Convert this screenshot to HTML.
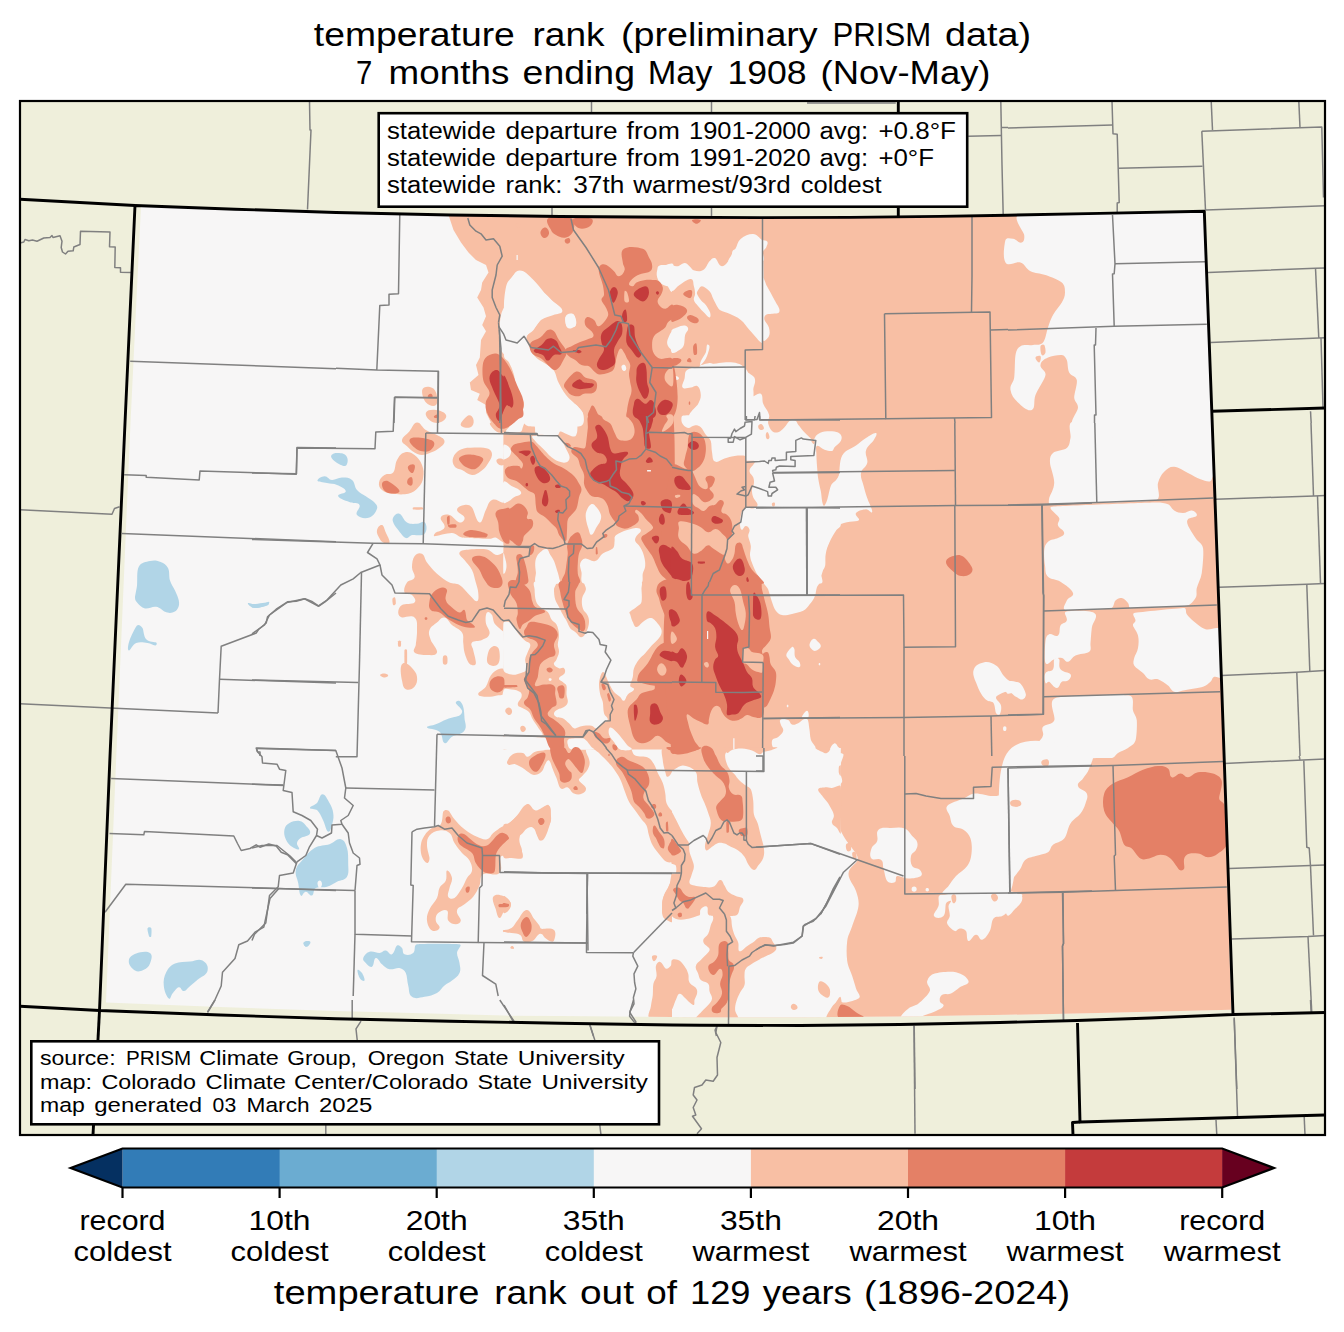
<!DOCTYPE html>
<html><head><meta charset="utf-8"><title>temperature rank</title>
<style>
html,body{margin:0;padding:0;background:#fff;}
body{width:1344px;height:1332px;overflow:hidden;font-family:"Liberation Sans",sans-serif;}
svg{display:block;font-family:"Liberation Sans",sans-serif;}
</style></head><body>
<svg width="1344" height="1332" viewBox="0 0 1344 1332">
<defs>
<clipPath id="frameclip"><rect x="20" y="101" width="1305" height="1034"/></clipPath>
<clipPath id="dataclip"><polygon points="141.0,206.5 235.0,209.2 336.0,212.5 450.0,215.0 560.0,216.5 672.0,217.3 760.0,217.6 850.0,217.4 940.0,216.4 1008.0,215.2 1100.0,213.4 1203.5,211.2 1211.0,411.0 1218.3,610.0 1225.3,810.0 1231.2,1009.8 1150.0,1011.8 1077.0,1013.5 1008.0,1014.8 900.0,1016.5 800.0,1017.3 700.0,1017.2 672.0,1017.0 560.0,1016.0 504.0,1015.6 450.0,1014.0 336.0,1011.0 220.0,1007.0 106.0,1002.5 116.3,756.0 130.5,423.0"/></clipPath>
</defs>
<rect width="1344" height="1332" fill="#fff"/>
<g fill="#000">
<text x="313.8" y="46.2" font-size="34.0" textLength="201.0" lengthAdjust="spacingAndGlyphs">temperature</text>
<text x="532.5" y="46.2" font-size="34.0" textLength="72.0" lengthAdjust="spacingAndGlyphs">rank</text>
<text x="621.0" y="46.2" font-size="34.0" textLength="196.7" lengthAdjust="spacingAndGlyphs">(preliminary</text>
<text x="832.6" y="46.2" font-size="34.0" textLength="98.6" lengthAdjust="spacingAndGlyphs">PRISM</text>
<text x="945.0" y="46.2" font-size="34.0" textLength="86.0" lengthAdjust="spacingAndGlyphs">data)</text>
<text x="356.0" y="83.8" font-size="34.0" textLength="16.3" lengthAdjust="spacingAndGlyphs">7</text>
<text x="388.6" y="83.8" font-size="34.0" textLength="120.7" lengthAdjust="spacingAndGlyphs">months</text>
<text x="522.6" y="83.8" font-size="34.0" textLength="112.4" lengthAdjust="spacingAndGlyphs">ending</text>
<text x="647.7" y="83.8" font-size="34.0" textLength="64.8" lengthAdjust="spacingAndGlyphs">May</text>
<text x="727.4" y="83.8" font-size="34.0" textLength="79.2" lengthAdjust="spacingAndGlyphs">1908</text>
<text x="820.5" y="83.8" font-size="34.0" textLength="170.0" lengthAdjust="spacingAndGlyphs">(Nov-May)</text>
</g>
<rect x="20" y="101" width="1305" height="1034" fill="#efefdb"/>
<g clip-path="url(#frameclip)">
<polygon points="141.0,206.5 235.0,209.2 336.0,212.5 450.0,215.0 560.0,216.5 672.0,217.3 760.0,217.6 850.0,217.4 940.0,216.4 1008.0,215.2 1100.0,213.4 1203.5,211.2 1211.0,411.0 1218.3,610.0 1225.3,810.0 1231.2,1009.8 1150.0,1011.8 1077.0,1013.5 1008.0,1014.8 900.0,1016.5 800.0,1017.3 700.0,1017.2 672.0,1017.0 560.0,1016.0 504.0,1015.6 450.0,1014.0 336.0,1011.0 220.0,1007.0 106.0,1002.5 116.3,756.0 130.5,423.0" fill="#f7f6f6"/>

<g clip-path="url(#dataclip)">
<path d="M672.0,200.0L1240.0,200.0L1240.0,1030.0L672.0,1030.0Z" fill="#f8bfa4"/>
<path d="M448.5,215.0L453.5,230.0L461.0,242.5L468.5,252.5L476.0,260.0L486.0,265.0L488.5,272.5L482.2,282.5L481.0,290.0L477.2,297.5L483.5,307.5L486.0,316.2L482.2,325.0L486.0,331.2L481.0,340.0L479.8,357.5L476.0,365.0L478.5,375.0L469.8,382.5L471.0,390.0L479.8,393.8L477.2,400.0L486.0,405.0L486.0,412.5L492.2,425.0L673.5,425.0L673.5,215.0Z" fill="#f8bfa4"/>
<path d="M422.2,390.0C423.0,386.9 426.6,386.4 429.8,387.0C432.9,387.6 434.9,389.4 436.0,392.5C437.1,395.6 438.3,402.7 436.0,405.0C433.7,407.3 428.8,405.5 426.0,402.5C423.2,399.5 421.5,393.1 422.2,390.0Z" fill="#f8bfa4"/>
<path d="M426.0,412.5C427.2,409.9 431.9,409.5 436.0,410.0C440.1,410.5 444.8,412.2 446.0,415.0C447.2,417.8 444.2,420.7 441.0,422.0C437.8,423.3 434.4,423.4 431.0,421.2C427.6,419.1 424.8,415.1 426.0,412.5Z" fill="#f8bfa4"/>
<path d="M516.0,223.8C516.8,223.0 518.9,223.0 519.8,223.8C520.6,224.5 520.5,226.2 519.8,227.0C519.0,227.8 517.4,227.8 516.5,227.0C515.6,226.2 515.2,224.5 516.0,223.8Z" fill="#f8bfa4"/>
<path d="M503.4,415.4L672.8,415.4L672.8,583.5L503.4,583.5Z" fill="#f8bfa4"/>
<path d="M503.4,581.4L672.8,581.4L672.8,749.5L503.4,749.5Z" fill="#f8bfa4"/>
<path d="M507.1,761.8C507.6,760.4 509.5,756.1 512.8,754.2C516.0,752.4 520.3,752.6 522.8,753.0C525.2,753.4 525.3,757.0 527.8,756.8C530.2,756.5 531.9,753.1 535.2,751.8C538.6,750.4 542.6,750.6 545.2,749.9C547.9,749.2 548.8,747.5 551.5,747.4C554.2,747.2 581.6,747.0 584.0,747.4C586.4,747.8 585.6,750.7 586.5,753.0C587.4,755.3 589.4,758.7 589.6,761.8C589.9,764.8 589.2,766.5 587.8,769.2C586.3,772.0 582.6,775.3 581.5,776.8C580.4,778.2 578.3,778.8 579.0,780.5C579.7,782.2 585.2,785.4 585.9,788.0C586.5,790.6 584.6,792.5 582.1,793.6C579.7,794.8 577.0,794.9 574.0,793.6C571.0,792.3 570.4,788.4 567.8,787.4C565.1,786.4 563.0,790.4 560.9,788.6C558.7,786.8 558.0,781.5 556.5,778.0C555.0,774.5 554.2,772.8 552.8,769.2C551.2,765.8 550.8,761.7 549.0,760.5C547.2,759.3 546.4,762.5 545.2,764.2C544.1,766.0 543.9,769.5 541.5,771.8C539.1,774.0 536.8,774.9 534.0,774.9C531.2,774.9 529.9,773.1 527.8,771.8C525.6,770.4 524.9,769.3 522.8,768.0C520.6,766.7 517.7,764.8 515.2,764.2C512.8,763.7 510.4,765.3 509.0,764.9C507.6,764.4 506.6,763.1 507.1,761.8Z" fill="#f8bfa4"/>
<path d="M503.4,825.5C503.8,823.1 507.0,824.4 509.0,823.0C511.0,821.6 513.6,819.4 516.5,816.8C519.4,814.1 522.3,811.1 524.0,809.2C525.7,807.4 525.4,804.0 527.8,804.2C530.1,804.5 531.3,809.3 534.0,810.5C536.7,811.7 538.7,811.6 541.5,810.5C544.3,809.4 546.2,803.7 548.4,804.9C550.6,806.0 550.6,812.5 550.9,815.5C551.2,818.5 551.3,820.2 550.2,823.0C549.2,825.8 547.0,827.3 545.2,830.5C543.5,833.7 542.9,839.6 540.9,840.5C538.8,841.4 537.8,836.6 536.5,834.2C535.2,831.9 536.0,829.5 534.0,828.0C532.0,826.5 530.0,827.0 527.8,828.0C525.5,829.0 524.7,830.9 522.8,833.0C520.8,835.1 517.7,835.9 517.1,839.2C516.6,842.6 519.3,845.5 520.2,848.0C521.2,850.5 522.5,852.4 522.8,854.2C523.0,856.1 523.2,858.0 521.5,858.6C519.8,859.2 514.8,858.3 511.5,858.0C508.2,857.7 504.2,859.9 503.4,856.8C502.6,853.6 503.0,827.9 503.4,825.5Z" fill="#f8bfa4"/>
<path d="M594.0,747.4C597.0,746.8 625.0,746.6 629.0,747.4C633.0,748.2 631.6,753.6 635.2,755.5C638.9,757.4 644.4,755.8 647.8,757.4C651.1,758.9 652.0,761.1 654.0,764.2C656.0,767.4 656.1,769.5 657.8,773.0C659.4,776.5 661.3,779.1 662.8,783.0C664.2,786.9 664.5,789.0 665.2,793.0C666.0,797.0 665.3,799.6 666.5,803.0C667.7,806.4 670.9,809.6 671.5,810.5C672.1,811.4 672.7,811.9 672.8,813.0C672.8,814.1 673.1,858.0 672.8,860.5C672.4,863.0 668.9,862.7 666.5,861.8C664.1,860.8 662.5,858.2 660.2,855.5C658.0,852.8 654.8,849.2 652.8,845.5C650.7,841.8 650.2,839.4 649.0,835.5C647.8,831.6 647.8,828.4 646.5,825.5C645.2,822.6 643.4,821.8 641.5,819.2C639.6,816.7 637.8,814.0 635.2,810.5C632.8,807.0 631.0,805.6 629.0,801.8C627.0,797.9 625.5,793.2 624.0,789.2C622.5,785.3 622.2,783.1 620.2,779.2C618.3,775.4 616.7,773.0 614.0,769.2C611.3,765.5 609.4,763.6 606.5,760.5C603.6,757.4 601.1,755.2 599.0,753.0C596.9,750.8 591.0,747.9 594.0,747.4Z" fill="#f8bfa4"/>
<path d="M662.8,747.4C665.1,744.3 671.1,743.7 672.8,747.4C674.4,751.0 673.4,765.7 672.8,769.2C672.1,772.8 669.5,776.2 667.8,776.8C666.0,777.3 665.9,773.9 665.2,771.8C664.6,769.6 663.2,765.1 662.8,760.5C662.3,755.9 660.4,750.4 662.8,747.4Z" fill="#f8bfa4"/>
<path d="M672.8,880.5C672.1,877.0 669.6,884.9 667.8,888.0C665.9,891.1 664.5,893.4 663.4,896.8C662.3,900.1 662.0,902.0 662.1,905.5C662.2,909.0 661.5,913.2 664.0,915.5C666.5,917.8 671.9,918.9 672.8,915.5C673.6,912.1 673.4,884.0 672.8,880.5Z" fill="#f8bfa4"/>
<path d="M503.4,896.8C504.0,894.8 506.3,897.8 507.8,899.2C509.2,900.7 510.9,901.9 510.9,904.2C510.9,906.6 509.0,909.2 507.8,910.5C506.5,911.8 503.9,913.5 503.4,911.8C502.8,910.0 502.7,898.7 503.4,896.8Z" fill="#f8bfa4"/>
<path d="M522.8,915.5C521.7,914.3 524.6,910.5 526.5,910.5C528.4,910.5 531.8,914.3 530.9,915.5C530.0,916.7 523.8,916.7 522.8,915.5Z" fill="#f8bfa4"/>
<path d="M503.4,896.9C504.0,895.1 506.5,897.4 507.8,898.8C509.0,900.1 510.9,902.2 510.9,905.0C510.9,907.8 509.0,910.0 507.8,911.2C506.5,912.5 503.9,914.2 503.4,912.5C502.8,910.8 502.8,898.7 503.4,896.9Z" fill="#f8bfa4"/>
<path d="M503.4,930.0C504.1,929.7 508.8,930.0 511.5,928.1C514.2,926.2 515.1,923.2 517.8,920.0C520.4,916.8 522.7,910.3 526.5,910.0C530.3,909.7 532.0,916.3 534.0,918.8C536.0,921.2 537.9,923.6 539.0,925.0C540.1,926.4 539.8,928.2 541.5,928.8C543.2,929.3 551.1,927.2 554.0,930.0C556.9,932.8 554.5,939.2 554.0,940.6C553.5,942.1 551.7,941.7 550.2,941.2C548.8,940.8 547.1,939.5 545.2,938.1C543.4,936.7 542.9,933.3 540.2,933.8C537.6,934.2 535.7,938.7 534.0,940.0C532.3,941.3 531.1,941.6 529.0,941.9C526.9,942.1 525.2,942.6 523.4,941.2C521.6,939.9 522.6,936.6 520.2,935.0C517.9,933.4 514.7,933.7 511.5,933.1C508.3,932.5 504.1,932.1 503.4,931.9C502.7,931.6 502.7,930.3 503.4,930.0Z" fill="#f8bfa4"/>
<path d="M510.9,947.5C510.5,946.9 511.8,945.7 512.5,946.0C513.2,946.3 514.4,948.4 514.0,948.8C513.6,949.1 511.2,948.1 510.9,947.5Z" fill="#f8bfa4"/>
<path d="M672.8,880.6C672.2,876.9 669.6,885.4 667.8,888.8C665.9,892.1 664.5,893.8 663.4,897.5C662.3,901.2 662.2,904.0 662.1,907.5C662.0,911.0 662.0,914.2 662.8,916.2C663.5,918.3 664.6,919.1 666.5,920.0C668.4,920.9 672.4,923.8 672.8,921.2C673.1,918.7 673.3,884.4 672.8,880.6Z" fill="#f8bfa4"/>
<path d="M652.1,956.2C652.9,955.1 656.7,955.1 657.1,956.2C657.6,957.4 655.2,961.2 654.0,961.2C652.8,961.2 651.4,957.4 652.1,956.2Z" fill="#f8bfa4"/>
<path d="M672.8,965.0C672.4,962.1 669.3,969.5 666.5,968.8C663.7,968.0 662.7,962.4 660.2,961.9C657.8,961.3 656.5,963.9 655.9,966.2C655.3,968.6 657.0,973.0 656.5,976.2C656.0,979.5 654.0,980.6 653.4,983.8C652.7,986.9 653.2,990.5 652.8,995.0C652.3,999.5 651.4,1001.7 650.9,1006.2C650.4,1010.8 645.9,1016.3 650.2,1018.8C654.6,1021.2 669.3,1027.1 672.8,1018.8C676.2,1010.4 673.1,967.9 672.8,965.0Z" fill="#f8bfa4"/>
<path d="M490.8,422.5C493.4,421.8 513.9,421.6 517.0,422.5C520.1,423.4 514.7,427.0 512.0,428.8C509.3,430.5 504.2,433.0 500.8,433.0C497.3,433.0 495.1,430.7 493.2,428.8C491.4,426.8 488.1,423.2 490.8,422.5Z" fill="#f8bfa4"/>
<path d="M509.5,505.0C508.9,501.9 505.0,503.4 502.0,502.5C499.0,501.6 495.7,498.3 492.0,500.0C488.3,501.7 488.0,505.9 485.8,510.0C483.5,514.1 482.7,523.1 479.5,522.5C476.3,521.9 474.1,509.9 472.0,507.5C469.9,505.1 467.6,504.5 464.5,505.0C461.4,505.5 457.0,507.1 457.0,510.0C457.0,512.9 463.9,514.7 464.5,517.5C465.1,520.3 462.3,523.0 459.5,522.5C456.7,522.0 453.0,515.9 449.5,515.0C446.0,514.1 441.9,514.6 440.8,517.5C439.6,520.4 445.7,524.0 444.5,527.5C443.3,531.0 436.9,531.5 435.8,532.5C434.6,533.5 432.9,536.2 434.5,536.2C436.1,536.3 447.6,532.8 452.0,533.0C456.4,533.2 457.7,536.8 462.0,537.5C466.3,538.2 487.0,538.8 489.5,538.8C492.0,538.8 493.2,537.0 495.8,537.5C498.3,538.0 507.2,547.9 509.5,542.5C511.8,537.1 510.1,508.1 509.5,505.0Z" fill="#f8bfa4"/>
<path d="M453.2,457.5C454.5,454.2 456.8,451.4 460.8,449.5C464.7,447.6 469.0,447.7 474.5,447.5C480.0,447.3 485.6,447.6 488.2,448.8C490.9,449.9 492.2,452.1 492.0,455.0C491.8,457.9 489.0,462.1 487.0,465.0C485.0,467.9 483.7,469.3 480.8,471.2C477.8,473.2 475.8,475.3 472.0,475.0C468.2,474.7 465.0,471.5 462.0,470.0C459.0,468.5 456.4,469.0 454.5,466.2C452.6,463.5 452.0,460.8 453.2,457.5Z" fill="#f8bfa4"/>
<path d="M496.5,460.0C497.1,458.5 500.0,457.9 502.0,458.8C504.0,459.6 505.6,462.3 505.0,463.8C504.4,465.2 501.5,465.9 499.5,465.0C497.5,464.1 495.9,461.5 496.5,460.0Z" fill="#f8bfa4"/>
<path d="M402.0,440.0C402.5,436.8 406.5,434.8 409.5,431.2C412.5,427.8 413.2,422.8 417.0,422.5C420.8,422.2 421.8,427.6 425.8,430.0C429.7,432.4 433.7,433.0 437.0,435.0C440.3,437.0 444.2,438.0 444.5,441.2C444.8,444.5 440.8,446.6 438.2,448.8C435.7,450.9 433.9,451.3 430.8,452.5C427.6,453.7 425.2,455.0 422.0,455.0C418.8,455.0 417.2,454.1 414.5,452.5C411.8,450.9 409.3,448.5 407.0,446.2C404.7,444.0 401.5,443.2 402.0,440.0Z" fill="#f8bfa4"/>
<path d="M397.0,460.0C399.1,456.3 400.5,453.6 404.5,452.5C408.5,451.4 411.1,452.6 414.5,455.0C417.9,457.4 420.2,460.3 422.0,465.0C423.8,469.7 424.0,473.1 423.2,477.5C422.5,481.9 421.3,484.2 418.2,487.5C415.2,490.8 412.8,492.7 408.2,493.8C403.7,494.8 396.2,494.4 392.0,493.8C387.8,493.1 384.4,492.1 382.0,490.0C379.6,487.9 378.5,485.7 379.0,482.5C379.5,479.3 381.5,477.1 384.5,475.0C387.5,472.9 390.9,475.3 393.2,472.5C395.6,469.7 394.9,463.7 397.0,460.0Z" fill="#f8bfa4"/>
<path d="M460.8,423.8C461.4,421.7 466.0,416.4 468.2,415.5C470.5,414.6 472.5,416.5 473.2,418.8C474.0,421.0 474.0,424.2 472.0,426.2C470.0,428.3 466.6,428.0 464.5,427.5C462.4,427.0 460.1,425.8 460.8,423.8Z" fill="#f8bfa4"/>
<path d="M413.2,507.5C414.0,507.3 421.7,507.3 422.5,507.5C423.3,507.7 423.3,509.3 422.5,509.5C421.7,509.7 414.0,509.7 413.2,509.5C412.5,509.3 412.5,507.7 413.2,507.5Z" fill="#f8bfa4"/>
<path d="M377.0,530.0C377.7,527.2 380.0,524.4 382.0,525.0C384.0,525.6 384.4,529.4 385.8,532.5C387.1,535.6 390.1,540.2 389.5,542.5C388.9,544.8 385.5,543.6 383.2,542.5C381.0,541.4 380.2,539.8 379.0,537.5C377.8,535.2 376.3,532.8 377.0,530.0Z" fill="#f8bfa4"/>
<path d="M414.5,556.2C416.4,553.7 419.2,552.3 422.0,553.8C424.8,555.2 424.6,559.3 427.0,562.5C429.4,565.7 432.5,569.8 437.0,573.8C441.5,577.8 445.8,580.7 449.5,582.5C453.2,584.3 456.0,582.8 459.5,585.0C463.0,587.2 466.6,592.3 469.5,595.0C472.4,597.7 475.0,601.8 477.0,601.2C479.0,600.7 478.5,596.0 478.2,592.5C478.0,589.0 476.9,586.5 475.8,582.5C474.6,578.5 474.2,574.5 472.0,570.0C469.8,565.5 466.6,562.9 464.5,560.0C462.4,557.1 458.3,555.0 459.5,552.5C460.7,550.0 465.3,550.0 469.5,549.5C473.7,549.0 482.5,548.6 487.0,549.5C491.5,550.4 492.5,554.4 497.0,555.0C501.5,555.6 508.7,547.5 509.5,552.5C510.3,557.5 510.6,625.3 509.5,631.2C508.4,637.2 498.9,627.9 495.8,625.0C492.6,622.1 493.3,616.8 492.0,615.0C490.7,613.2 488.4,610.8 487.0,612.5C485.6,614.2 485.3,618.5 485.8,622.5C486.2,626.5 490.3,629.9 489.5,633.8C488.7,637.6 485.5,638.3 482.0,640.0C478.5,641.7 474.0,640.2 472.0,642.5C470.0,644.8 472.7,647.0 473.2,650.0C473.8,653.0 476.4,661.3 475.8,663.8C475.1,666.2 471.3,665.5 469.5,663.8C467.7,662.0 465.6,656.4 464.5,652.5C463.4,648.6 463.8,646.5 463.2,642.5C462.8,638.5 464.2,635.9 462.0,632.5C459.8,629.1 455.2,627.8 452.0,625.0C448.8,622.2 448.0,618.1 444.5,617.5C441.0,616.9 439.8,620.2 437.0,622.5C434.2,624.8 430.9,626.2 429.5,630.0C428.1,633.8 429.5,636.2 430.8,640.0C432.0,643.8 437.9,649.0 437.0,652.5C436.1,656.0 431.1,655.0 427.0,655.0C422.9,655.0 416.8,654.5 414.5,652.5C412.2,650.5 415.4,648.0 415.8,645.0C416.1,642.0 417.2,635.1 417.0,630.0C416.8,624.9 418.0,620.4 414.5,617.5C411.0,614.6 404.4,618.2 402.0,617.5C399.6,616.8 398.2,615.0 398.2,612.5C398.2,610.0 399.1,606.8 402.0,605.0C404.9,603.2 412.3,604.7 414.5,602.5C416.7,600.3 414.2,597.2 412.0,595.0C409.8,592.8 405.7,595.4 404.5,592.5C403.3,589.6 405.0,585.5 407.0,582.5C409.0,579.5 413.4,580.9 414.5,577.5C415.6,574.1 412.0,571.6 412.0,567.5C412.0,563.4 412.6,558.8 414.5,556.2Z" fill="#f8bfa4"/>
<path d="M392.5,598.8C392.8,597.7 394.4,596.6 395.0,597.5C395.6,598.4 396.0,602.7 395.8,603.8C395.5,604.8 393.9,605.9 393.2,605.0C392.6,604.1 392.2,599.8 392.5,598.8Z" fill="#f8bfa4"/>
<path d="M398.2,641.2C398.7,640.4 400.3,640.4 400.8,641.2C401.2,642.1 401.2,645.4 400.8,646.2C400.3,647.1 398.7,647.1 398.2,646.2C397.8,645.4 397.8,642.1 398.2,641.2Z" fill="#f8bfa4"/>
<path d="M404.5,650.0C404.7,649.0 406.8,649.0 407.0,650.0C407.2,651.0 407.2,662.8 407.0,663.8C406.8,664.7 404.7,664.7 404.5,663.8C404.3,662.8 404.3,651.0 404.5,650.0Z" fill="#f8bfa4"/>
<path d="M488.2,652.5C489.1,649.4 490.7,647.0 493.2,646.2C495.8,645.5 498.3,647.0 499.0,649.5C499.7,652.0 500.7,660.6 498.2,663.8C495.8,666.9 490.6,666.4 488.2,663.8C485.9,661.1 487.4,655.6 488.2,652.5Z" fill="#f8bfa4"/>
<path d="M443.2,656.2C443.9,654.9 446.3,654.9 447.0,656.2C447.7,657.6 447.7,662.4 447.0,663.8C446.3,665.1 443.9,665.1 443.2,663.8C442.6,662.4 442.6,657.6 443.2,656.2Z" fill="#f8bfa4"/>
<path d="M400.8,668.0C401.1,665.5 402.0,663.0 404.5,663.0C407.0,663.0 409.6,665.3 412.0,668.0C414.4,670.7 416.5,672.8 417.0,676.8C417.5,680.7 416.9,684.0 414.5,686.8C412.1,689.5 408.7,690.7 405.8,689.2C402.8,687.8 402.9,684.2 402.0,680.5C401.1,676.8 400.4,670.5 400.8,668.0Z" fill="#f8bfa4"/>
<path d="M380.0,675.0C380.0,674.1 382.8,673.4 384.5,673.5C386.2,673.6 388.2,674.6 388.2,675.5C388.2,676.4 386.2,677.6 384.5,677.5C382.8,677.4 380.0,675.9 380.0,675.0Z" fill="#f8bfa4"/>
<path d="M478.2,694.2C478.0,691.9 483.4,690.3 485.8,686.8C488.1,683.2 488.5,678.7 490.8,675.5C493.0,672.3 495.9,670.1 498.2,669.2C500.6,668.4 503.9,668.0 504.5,670.5C505.1,673.0 505.4,690.0 504.5,693.0C503.6,696.0 500.1,694.8 497.0,695.5C493.9,696.2 490.6,697.0 487.0,696.8C483.4,696.5 478.5,696.6 478.2,694.2Z" fill="#f8bfa4"/>
<path d="M443.2,811.8C444.2,809.9 446.5,809.4 448.2,810.5C450.0,811.6 451.7,816.0 454.5,819.2C457.3,822.5 460.0,825.8 464.5,829.2C469.0,832.7 473.2,835.1 477.0,836.8C480.8,838.4 483.6,840.0 487.0,839.2C490.4,838.5 490.5,835.3 493.2,833.0C496.0,830.7 499.1,828.5 502.0,826.8C504.9,825.0 506.8,825.0 509.5,823.0C512.2,821.0 514.1,818.6 517.0,815.5C519.9,812.4 522.8,805.4 527.0,804.2C531.2,803.1 531.5,810.2 535.8,810.5C540.0,810.8 544.8,804.3 548.2,805.5C551.8,806.7 550.5,811.5 550.8,815.5C551.0,819.5 550.8,821.7 549.5,825.5C548.2,829.3 545.5,839.6 542.0,840.5C538.5,841.4 536.9,831.6 534.5,829.2C532.1,826.9 529.9,823.8 527.0,825.5C524.1,827.2 520.5,833.0 519.5,838.0C518.5,843.0 522.0,847.8 522.0,850.5C522.0,853.2 521.8,855.4 519.5,856.8C517.2,858.1 513.0,858.0 509.5,858.0C506.0,858.0 502.7,853.8 500.8,856.8C498.8,859.7 503.6,868.9 499.5,873.0C495.4,877.1 487.3,871.7 483.2,874.2C479.2,876.8 481.4,881.2 479.5,885.5C477.6,889.8 476.1,893.2 473.2,896.8C470.4,900.3 467.5,901.7 464.5,904.2C461.5,906.8 457.9,906.7 457.0,910.5C456.1,914.3 461.0,918.0 460.8,920.5C460.5,923.0 458.2,924.2 455.8,924.2C453.2,924.2 450.1,923.3 448.2,920.5C446.4,917.7 449.3,912.2 447.0,910.5C444.7,908.8 440.6,910.9 438.2,913.0C435.9,915.1 435.5,917.3 435.8,920.5C436.0,923.7 440.4,925.7 439.5,928.0C438.6,930.3 434.7,932.1 432.0,930.5C429.3,928.9 427.5,924.9 427.0,920.5C426.5,916.1 427.6,913.5 429.5,909.2C431.4,905.0 435.2,901.7 437.0,898.0C438.8,894.3 437.8,891.5 439.5,888.0C441.2,884.5 444.2,884.1 445.8,880.5C447.3,876.9 445.5,871.1 447.0,870.5C448.5,869.9 451.5,874.4 452.0,878.0C452.5,881.6 450.2,884.5 449.5,888.0C448.8,891.5 447.1,894.5 448.2,896.8C449.4,899.0 452.3,899.4 454.5,898.0C456.7,896.6 459.6,891.8 462.0,888.0C464.4,884.2 465.2,881.1 467.0,878.0C468.8,874.9 471.5,874.1 472.0,870.5C472.5,866.9 471.5,864.1 469.5,860.5C467.5,856.9 464.8,856.2 462.0,853.0C459.2,849.8 456.9,846.8 454.5,843.0C452.1,839.2 452.7,835.6 449.5,833.0C446.3,830.4 443.6,830.0 439.5,830.5C435.4,831.0 432.1,832.3 429.5,835.5C426.9,838.7 427.0,841.4 427.0,845.5C427.0,849.6 429.5,855.8 429.5,858.0C429.5,860.2 428.8,863.3 427.0,863.0C425.2,862.7 423.1,859.8 422.0,856.8C420.9,853.7 420.3,849.7 420.8,845.5C421.2,841.3 422.2,839.1 424.5,835.5C426.8,831.9 428.9,830.2 432.0,828.0C435.1,825.8 438.6,827.4 440.8,824.2C442.9,821.1 442.3,813.6 443.2,811.8Z" fill="#f8bfa4"/>
<path d="M493.2,896.8C495.0,893.7 499.6,894.4 503.2,896.0C506.9,897.6 510.5,900.9 510.8,904.2C511.0,907.6 506.7,907.8 504.5,910.5C502.3,913.2 501.5,918.3 499.5,918.0C497.5,917.7 496.8,912.9 495.8,909.2C494.7,905.6 491.5,899.8 493.2,896.8Z" fill="#f8bfa4"/>
<path d="M510.8,946.8C511.3,946.3 512.7,946.3 513.2,946.8C513.8,947.2 513.8,948.1 513.2,948.5C512.7,948.9 511.3,948.9 510.8,948.5C510.2,948.1 510.2,947.2 510.8,946.8Z" fill="#f8bfa4"/>
<path d="M519.8,270.5C524.9,270.5 528.6,275.4 533.5,280.0C538.4,284.6 543.4,292.1 548.5,297.5C553.6,302.9 561.1,306.1 562.2,310.0C563.4,313.9 557.1,313.3 553.5,315.0C549.9,316.7 545.0,317.0 541.0,320.0C537.0,323.0 536.1,326.8 533.5,330.0C530.9,333.2 527.0,333.4 526.5,337.5C526.0,341.6 529.5,346.7 531.0,350.0C532.5,353.3 533.5,355.0 536.0,357.5C538.5,360.0 540.6,360.4 543.5,362.5C546.4,364.6 550.5,366.0 553.5,370.0C556.5,374.0 556.1,377.7 558.5,382.5C560.9,387.3 562.5,390.5 566.0,395.0C569.5,399.5 572.7,401.2 576.0,405.0C579.3,408.8 582.7,410.3 583.5,415.0C584.3,419.7 584.4,425.3 579.8,426.2C575.1,427.2 533.8,427.3 528.5,426.2C523.2,425.2 521.9,419.1 521.0,415.0C520.1,410.9 523.9,409.2 524.0,405.0C524.1,400.8 522.9,395.9 521.5,390.0C520.1,384.1 518.3,377.7 516.5,372.5C514.7,367.3 514.1,364.5 511.0,360.0C507.9,355.5 503.0,355.3 501.0,350.0C499.0,344.7 499.8,336.0 499.8,330.0C499.8,324.0 499.8,320.3 501.0,315.0C502.2,309.7 504.8,307.4 506.0,302.5C507.2,297.6 506.3,294.2 507.2,290.0C508.2,285.8 508.7,283.6 511.0,280.0C513.3,276.4 514.6,270.5 519.8,270.5Z" fill="#f7f6f6"/>
<path d="M566.0,316.2C566.9,313.7 569.9,312.9 572.2,313.8C574.6,314.6 575.5,317.5 576.0,320.0C576.5,322.5 576.7,324.6 574.8,326.2C572.8,327.9 569.3,329.8 567.2,327.5C565.2,325.2 565.1,318.8 566.0,316.2Z" fill="#f7f6f6"/>
<path d="M658.5,268.0C660.4,265.4 663.1,265.6 666.0,265.0C668.9,264.4 672.4,262.2 673.5,265.0C674.6,267.8 675.3,280.1 673.5,283.8C671.7,287.4 667.1,286.4 663.5,285.0C659.9,283.6 658.3,281.2 657.2,277.5C656.2,273.8 656.6,270.6 658.5,268.0Z" fill="#f7f6f6"/>
<path d="M621.5,366.2C621.9,365.0 623.7,364.2 624.8,365.0C625.8,365.8 626.4,368.3 626.0,369.5C625.6,370.7 624.0,371.2 623.0,370.5C622.0,369.8 621.1,367.5 621.5,366.2Z" fill="#f7f6f6"/>
<path d="M504.0,303.8C504.3,296.2 505.5,288.5 506.5,285.0C507.5,281.5 509.3,280.2 511.5,277.5C513.7,274.8 515.6,272.0 517.8,271.2C519.9,270.5 521.0,272.4 522.8,273.8C524.5,275.1 527.6,278.4 530.2,281.2C532.9,284.1 533.5,286.2 536.5,288.8C539.5,291.2 542.1,291.3 545.2,293.8C548.4,296.2 551.0,299.5 554.0,302.5C557.0,305.5 562.1,307.7 561.5,310.0C560.9,312.3 555.2,311.0 551.5,312.5C547.8,314.0 545.2,315.5 542.8,317.5C540.3,319.5 539.8,321.2 537.8,323.8C535.8,326.2 534.9,327.6 532.8,330.0C530.6,332.4 528.2,333.1 526.5,336.2C524.8,339.4 524.1,341.5 524.6,345.0C525.1,348.5 527.3,351.0 529.0,353.8C530.7,356.5 531.7,357.7 534.0,360.0C536.3,362.3 538.7,363.5 541.5,366.2C544.3,369.0 545.4,371.1 547.8,373.8C550.1,376.4 552.0,377.3 554.0,380.0C556.0,382.7 556.8,384.6 557.8,387.5C558.7,390.4 557.1,392.6 559.0,395.0C560.9,397.4 565.5,399.2 569.0,401.2C572.5,403.3 575.1,403.2 577.8,406.2C580.4,409.3 585.6,415.2 581.5,416.0C577.4,416.8 530.2,416.3 527.8,416.0C525.3,415.7 527.2,412.3 526.5,410.0C525.8,407.7 524.7,403.8 522.8,400.0C520.8,396.2 518.1,394.5 516.5,390.0C514.9,385.5 515.4,380.2 514.0,375.0C512.6,369.8 510.5,365.3 509.0,362.5C507.5,359.7 504.3,359.4 504.0,356.2C503.7,353.1 503.7,311.3 504.0,303.8Z" fill="#f7f6f6"/>
<path d="M565.2,317.5C565.7,315.6 567.1,314.9 569.0,314.4C570.9,313.8 572.9,313.3 574.0,315.0C575.1,316.7 576.3,323.0 575.9,325.0C575.5,327.0 573.5,327.4 571.5,327.5C569.5,327.6 567.6,327.4 566.5,325.6C565.4,323.8 564.8,319.4 565.2,317.5Z" fill="#f7f6f6"/>
<path d="M516.5,255.0L517.8,255.0L517.8,260.0L516.5,260.0Z" fill="#f7f6f6"/>
<path d="M658.4,266.2C660.1,264.2 664.3,265.1 666.5,265.0C668.7,264.9 671.5,263.5 672.0,265.6C672.5,267.8 672.5,288.7 672.0,291.2C671.5,293.8 669.2,288.5 667.8,286.2C666.3,284.0 665.6,281.1 664.0,278.8C662.4,276.4 660.2,276.3 659.0,273.8C657.8,271.2 656.6,268.3 658.4,266.2Z" fill="#f7f6f6"/>
<path d="M672.0,332.5C671.6,330.6 669.8,334.5 669.0,336.2C668.2,338.0 667.1,340.4 667.1,342.5C667.1,344.6 668.2,346.5 669.0,347.5C669.8,348.5 671.7,350.0 672.0,348.8C672.3,347.5 672.4,334.4 672.0,332.5Z" fill="#f7f6f6"/>
<path d="M734.5,249.4C731.0,250.3 732.9,254.6 730.8,257.5C728.6,260.4 725.6,266.1 722.0,266.2C718.4,266.4 717.5,259.1 715.1,258.1C712.7,257.2 711.3,259.4 709.5,261.2C707.7,263.1 706.2,268.1 703.2,270.0C700.3,271.9 697.1,271.3 694.5,270.6C691.9,269.9 691.4,267.7 689.5,266.2C687.6,264.8 686.9,263.1 684.5,263.1C682.1,263.1 680.9,265.5 678.2,266.2C675.6,267.0 672.1,264.2 671.4,266.9C670.6,269.5 669.8,286.5 671.4,290.0C672.9,293.5 676.2,286.9 679.5,285.0C682.8,283.1 687.6,278.7 690.8,279.0C693.9,279.3 693.0,283.3 693.9,286.2C694.7,289.2 695.1,291.2 695.1,293.8C695.1,296.3 693.3,297.5 693.9,300.0C694.5,302.5 696.3,303.9 698.2,306.2C700.2,308.6 702.6,311.2 704.5,313.1C706.4,315.0 708.2,317.6 709.5,317.5C710.8,317.4 710.7,314.4 710.1,312.5C709.5,310.6 707.4,307.3 705.8,305.0C704.1,302.7 702.5,302.2 700.8,300.0C699.0,297.8 697.4,295.3 697.0,293.8C696.6,292.2 697.4,291.3 698.2,290.0C699.1,288.7 699.9,286.0 702.0,286.2C704.1,286.5 707.3,288.8 709.5,291.2C711.7,293.7 711.8,295.8 713.2,298.8C714.8,301.8 715.8,304.3 717.0,306.2C718.2,308.2 718.8,309.4 720.8,310.6C722.7,311.8 726.1,312.2 729.5,313.8C732.9,315.3 736.8,316.8 740.8,320.0C744.7,323.2 746.0,326.0 749.5,330.0C753.0,334.0 758.6,340.4 759.5,341.2C760.4,342.1 762.2,343.7 762.2,342.5C762.3,341.3 765.4,260.0 762.2,249.4C759.1,238.7 738.0,248.5 734.5,249.4Z" fill="#f7f6f6"/>
<path d="M763.0,278.8C763.3,275.4 765.4,283.3 767.0,286.2C768.6,289.2 772.3,295.6 774.5,300.0C776.7,304.4 780.1,308.1 779.5,311.2C778.9,314.4 774.5,313.1 772.0,313.8C769.5,314.4 767.3,313.7 765.8,315.0C764.2,316.3 764.0,318.0 764.5,320.0C765.0,322.0 768.0,324.1 768.9,327.5C769.8,330.9 770.1,333.7 768.9,336.2C767.7,338.8 763.3,342.8 763.0,340.0C762.7,337.2 762.7,282.1 763.0,278.8Z" fill="#f7f6f6"/>
<path d="M671.4,331.2C672.0,328.6 674.5,328.6 677.0,327.5C679.5,326.4 682.6,325.4 684.5,325.6C686.4,325.8 688.1,326.8 688.2,328.8C688.4,330.7 685.9,332.3 685.1,335.0C684.4,337.7 684.8,342.5 683.9,345.0C682.9,347.5 681.8,348.7 679.5,350.0C677.2,351.3 672.7,354.9 671.4,351.9C670.0,348.8 670.8,333.9 671.4,331.2Z" fill="#f7f6f6"/>
<path d="M707.0,345.0C707.6,344.0 709.3,345.1 709.5,346.2C709.7,347.4 709.0,350.1 708.2,352.5C707.5,354.9 706.6,357.1 705.8,358.8C704.9,360.4 704.3,361.3 703.2,362.5C702.2,363.7 700.6,365.6 700.1,365.0C699.7,364.4 700.5,361.9 701.4,360.0C702.2,358.1 704.7,355.3 705.8,352.5C706.8,349.7 706.4,346.0 707.0,345.0Z" fill="#f7f6f6"/>
<path d="M700.1,365.6C700.8,365.3 707.0,363.3 709.5,363.1C712.0,362.9 713.2,364.4 715.8,364.4C718.3,364.4 722.8,362.6 727.0,363.1C731.2,363.6 741.2,366.2 737.0,366.9C732.8,367.6 700.9,367.5 700.1,367.5C699.4,367.5 699.4,365.9 700.1,365.6Z" fill="#f7f6f6"/>
<path d="M687.0,370.0C689.8,367.7 693.6,367.7 698.2,367.5C702.9,367.3 733.6,355.8 744.5,367.5C755.4,379.2 757.7,405.8 745.1,417.5C732.6,429.2 696.8,419.3 690.8,417.5C684.7,415.7 696.8,407.1 698.2,403.8C699.7,400.4 700.9,398.6 700.8,395.0C700.6,391.4 699.9,387.9 697.6,386.2C695.4,384.6 693.5,387.3 690.8,387.5C688.0,387.7 684.1,389.5 682.6,387.5C681.2,385.5 683.6,382.2 684.5,378.8C685.4,375.3 684.2,372.3 687.0,370.0Z" fill="#f7f6f6"/>
<path d="M746.0,373.8C746.5,370.7 751.6,374.9 753.2,376.2C754.9,377.6 755.1,379.1 755.1,381.2C755.1,383.4 753.9,385.8 753.2,388.8C752.6,391.7 750.2,395.1 752.0,396.2C753.8,397.4 758.1,392.0 760.8,393.8C763.4,395.5 761.8,400.0 763.2,403.8C764.7,407.5 767.6,410.6 768.2,412.5C768.9,414.4 770.2,417.1 768.2,417.5C766.3,417.9 750.0,425.4 746.0,417.5C742.0,409.6 745.5,376.8 746.0,373.8Z" fill="#f7f6f6"/>
<path d="M671.4,376.2C672.3,375.8 675.8,375.9 677.0,376.2C678.2,376.6 679.2,377.9 678.9,378.8C678.6,379.6 677.1,380.0 675.8,380.0C674.4,380.0 672.1,379.4 671.4,378.8C670.6,378.1 670.5,376.7 671.4,376.2Z" fill="#f7f6f6"/>
<path d="M1073.0,421.8C1066.5,422.5 1071.5,433.8 1070.5,438.0C1069.5,442.2 1070.0,445.2 1066.8,448.0C1063.5,450.8 1056.1,450.2 1053.0,453.0C1049.9,455.8 1049.8,458.8 1050.0,463.0C1050.2,467.2 1054.4,476.7 1054.2,483.0C1054.1,489.3 1049.7,495.5 1049.2,498.0C1048.8,500.5 1048.0,504.2 1050.5,504.2C1053.0,504.3 1148.6,501.9 1155.5,500.5C1162.4,499.1 1156.5,487.9 1158.0,483.0C1159.5,478.1 1161.1,474.9 1164.2,471.8C1167.4,468.6 1169.8,466.5 1174.2,466.8C1178.7,467.0 1183.0,470.6 1188.0,473.0C1193.0,475.4 1196.1,478.1 1200.5,479.2C1204.9,480.4 1210.6,483.6 1211.8,479.2C1212.9,474.9 1236.8,430.6 1215.5,421.8C1194.2,412.9 1079.5,421.0 1073.0,421.8Z" fill="#f7f6f6"/>
<path d="M1051.8,506.8C1046.4,507.6 1058.3,515.1 1059.2,518.0C1060.2,520.9 1057.0,522.6 1058.0,525.5C1059.0,528.4 1064.2,530.1 1064.2,533.0C1064.2,535.9 1060.8,536.5 1058.0,538.0C1055.2,539.5 1050.8,539.2 1048.0,541.8C1045.2,544.3 1044.7,546.7 1044.2,550.5C1043.8,554.3 1044.3,560.9 1045.0,565.5C1045.7,570.1 1044.8,573.4 1048.0,576.8C1051.2,580.1 1056.0,578.8 1060.5,581.8C1065.0,584.7 1071.8,589.3 1073.0,593.0C1074.2,596.7 1068.3,597.0 1066.8,600.5C1065.2,604.0 1061.7,609.3 1065.5,610.0C1069.3,610.7 1106.8,609.2 1110.5,608.5C1114.2,607.8 1113.5,602.3 1115.5,600.5C1117.5,598.7 1119.1,597.5 1121.8,598.0C1124.4,598.5 1126.5,601.3 1128.0,603.0C1129.5,604.7 1128.3,607.9 1130.5,608.0C1132.7,608.1 1180.4,606.8 1185.5,606.0C1190.6,605.2 1193.4,601.4 1195.5,598.0C1197.6,594.6 1195.8,591.9 1196.8,588.0C1197.7,584.1 1200.8,579.2 1201.8,573.0C1202.7,566.8 1203.9,552.9 1203.0,548.0C1202.1,543.1 1198.3,542.2 1195.5,538.0C1192.7,533.8 1188.9,527.8 1188.0,525.5C1187.1,523.2 1186.4,521.1 1188.0,519.2C1189.6,517.4 1195.9,517.5 1196.8,515.5C1197.6,513.5 1194.5,511.0 1191.8,510.5C1189.0,510.0 1186.6,513.0 1183.0,513.0C1179.4,513.0 1177.3,512.3 1174.2,510.5C1171.2,508.7 1171.3,505.6 1168.0,504.2C1164.7,502.9 1160.5,502.4 1155.5,502.5C1150.5,502.6 1057.1,505.9 1051.8,506.8Z" fill="#f7f6f6"/>
<path d="M1045.5,640.5C1045.9,637.6 1046.5,635.3 1049.2,634.2C1052.0,633.2 1055.4,637.5 1058.0,635.5C1060.6,633.5 1058.9,628.3 1060.5,625.5C1062.1,622.7 1065.6,623.5 1066.8,620.5C1067.9,617.5 1062.6,612.7 1066.0,611.8C1069.4,610.8 1089.1,609.8 1094.2,613.0C1099.4,616.2 1092.5,622.0 1091.8,628.0C1091.0,634.0 1090.9,639.5 1090.5,643.0C1090.1,646.5 1092.0,649.5 1089.2,651.8C1086.5,654.0 1079.0,653.8 1075.5,655.5C1072.0,657.2 1070.9,661.2 1068.0,661.8C1065.1,662.3 1064.6,658.5 1061.8,658.0C1058.9,657.5 1057.2,658.4 1054.2,659.2C1051.3,660.1 1047.1,666.5 1045.5,663.0C1043.9,659.5 1045.1,643.4 1045.5,640.5Z" fill="#f7f6f6"/>
<path d="M1045.5,673.0C1047.1,670.1 1051.2,672.1 1053.0,669.2C1054.8,666.4 1053.2,660.9 1054.2,659.2C1055.3,657.6 1058.2,657.6 1059.2,659.2C1060.3,660.9 1058.1,666.0 1060.5,669.2C1062.9,672.5 1069.0,672.0 1070.5,674.2C1072.0,676.5 1069.9,678.8 1068.0,680.5C1066.1,682.2 1063.9,680.3 1061.8,681.8C1059.6,683.2 1059.7,688.0 1056.8,688.0C1053.8,688.0 1050.7,682.4 1049.2,681.8C1047.8,681.1 1046.1,684.5 1045.5,683.0C1044.9,681.5 1043.9,675.9 1045.5,673.0Z" fill="#f7f6f6"/>
<path d="M1134.2,613.0C1131.3,613.8 1135.7,618.3 1135.5,620.5C1135.3,622.7 1132.6,623.3 1133.0,625.5C1133.4,627.7 1137.0,631.1 1138.0,635.5C1139.0,639.9 1138.7,643.8 1138.0,648.0C1137.3,652.2 1134.9,655.1 1134.2,658.0C1133.6,660.9 1132.7,662.9 1134.2,665.5C1135.8,668.1 1140.4,670.6 1143.0,673.0C1145.6,675.4 1146.0,677.9 1149.2,679.2C1152.5,680.6 1154.7,678.1 1158.0,679.2C1161.3,680.4 1165.2,683.3 1168.0,685.5C1170.8,687.7 1170.9,690.6 1174.2,691.8C1177.6,692.9 1179.5,691.1 1183.0,690.5C1186.5,689.9 1199.6,687.8 1203.0,686.8C1206.4,685.7 1208.6,683.4 1210.5,681.8C1212.4,680.1 1211.9,677.7 1214.2,676.8C1216.6,675.8 1222.5,680.2 1223.0,676.8C1223.5,673.3 1222.6,636.1 1220.5,630.5C1218.4,624.9 1210.6,631.0 1205.5,629.2C1200.4,627.5 1197.6,624.4 1194.2,621.8C1190.9,619.1 1188.3,616.4 1186.8,614.2C1185.2,612.1 1186.9,608.1 1184.2,608.0C1181.6,607.9 1137.2,612.2 1134.2,613.0Z" fill="#f7f6f6"/>
<path d="M1055.5,698.0C1064.1,695.1 1123.1,694.5 1129.2,695.5C1135.4,696.5 1131.8,706.4 1133.0,710.5C1134.2,714.6 1136.4,716.2 1136.8,720.5C1137.1,724.8 1136.8,736.5 1135.5,740.5C1134.2,744.5 1131.5,745.5 1128.0,748.0C1124.5,750.5 1120.7,751.3 1118.0,753.0C1115.3,754.7 1114.9,757.8 1111.8,758.0C1108.6,758.2 1017.2,758.3 1013.0,758.0C1008.8,757.7 1018.0,753.0 1020.5,750.5C1023.0,748.0 1023.8,744.2 1026.8,744.2C1029.7,744.2 1030.4,750.8 1033.0,750.5C1035.6,750.2 1036.0,746.0 1038.0,743.0C1040.0,740.0 1042.0,738.8 1043.0,735.5C1044.0,732.2 1040.9,729.5 1043.0,726.8C1045.1,724.0 1052.2,725.2 1054.2,720.5C1056.3,715.8 1046.9,700.9 1055.5,698.0Z" fill="#f7f6f6"/>
<path d="M1006.8,683.0C1008.8,680.4 1012.5,680.7 1015.5,681.8C1018.5,682.8 1018.5,685.5 1020.5,688.0C1022.5,690.5 1025.0,692.1 1025.5,694.2C1026.0,696.4 1024.8,698.4 1023.0,699.2C1021.2,700.1 1019.7,699.2 1018.0,698.0C1016.3,696.8 1016.5,694.0 1014.2,693.0C1012.0,692.0 1008.5,695.3 1006.8,693.0C1005.0,690.7 1004.7,685.6 1006.8,683.0Z" fill="#f7f6f6"/>
<path d="M506.5,432.0C504.5,431.2 507.6,428.9 509.0,427.2C510.4,425.6 514.8,421.1 516.5,419.8C518.2,418.4 519.6,417.0 521.5,417.2C523.4,417.5 524.4,419.1 524.6,421.0C524.9,422.9 523.5,425.3 522.8,427.2C522.0,429.2 522.3,431.4 520.2,432.0C518.2,432.6 508.5,432.8 506.5,432.0Z" fill="#f7f6f6"/>
<path d="M529.0,415.4C524.3,416.5 533.8,423.7 534.6,426.0C535.5,428.3 534.8,430.6 535.2,432.0C535.8,433.4 536.3,434.6 537.8,434.8C539.2,434.9 556.1,435.2 557.8,435.0C559.4,434.8 558.6,432.0 560.2,431.6C561.9,431.3 563.2,432.8 565.2,433.5C567.3,434.2 571.9,436.9 574.0,436.6C576.1,436.4 576.5,434.3 577.1,432.2C577.7,430.2 577.1,426.8 577.8,423.5C578.4,420.2 583.6,415.9 580.2,415.4C576.9,414.8 533.7,414.3 529.0,415.4Z" fill="#f7f6f6"/>
<path d="M532.8,436.0C534.9,435.5 554.6,435.3 557.8,436.0C560.9,436.7 561.0,439.5 562.8,442.2C564.5,445.0 565.1,446.8 566.5,449.8C567.9,452.7 569.6,454.9 569.6,457.2C569.6,459.6 568.7,461.4 566.5,462.2C564.3,463.1 561.9,462.6 559.0,461.6C556.1,460.7 553.8,458.9 551.5,457.2C549.2,455.6 548.5,454.2 546.5,452.2C544.5,450.2 542.2,448.0 540.2,446.0C538.2,444.0 536.6,442.8 535.2,441.0C533.9,439.2 530.6,436.5 532.8,436.0Z" fill="#f7f6f6"/>
<path d="M503.4,445.4C503.9,443.7 506.3,445.0 507.8,446.0C509.2,447.0 510.5,448.3 510.9,450.4C511.3,452.5 510.8,454.2 509.6,456.0C508.5,457.8 505.9,458.8 505.2,459.1C504.6,459.5 503.5,459.9 503.4,459.1C503.3,458.4 502.8,447.1 503.4,445.4Z" fill="#f7f6f6"/>
<path d="M503.4,482.2C505.0,479.0 508.5,484.5 511.5,486.0C514.5,487.5 517.6,488.5 519.0,489.8C520.4,491.0 521.9,492.5 520.9,494.1C519.8,495.7 516.2,496.0 514.0,497.2C511.8,498.5 511.1,500.0 509.0,501.0C506.9,502.0 504.0,504.5 503.4,502.2C502.7,500.0 501.8,485.5 503.4,482.2Z" fill="#f7f6f6"/>
<path d="M591.5,504.1C593.7,503.3 594.9,505.5 596.5,507.2C598.1,509.0 600.2,512.3 600.9,514.8C601.5,517.2 601.1,518.6 600.2,521.0C599.4,523.4 598.1,524.8 596.5,527.2C594.9,529.7 593.4,534.5 591.5,534.8C589.6,535.0 589.3,531.1 588.4,528.5C587.5,525.9 586.2,521.5 585.9,518.5C585.6,515.5 585.4,513.8 586.5,511.0C587.6,508.2 589.3,505.0 591.5,504.1Z" fill="#f7f6f6"/>
<path d="M615.2,536.0C616.6,534.5 620.2,532.4 624.0,531.0C627.8,529.6 634.5,527.9 636.5,527.9C638.5,527.8 640.9,528.5 640.9,530.4C640.9,532.3 637.5,534.2 636.5,536.0C635.5,537.8 634.6,539.0 635.2,541.0C635.9,543.0 638.6,544.5 640.2,547.2C641.9,550.0 643.0,552.3 644.0,556.0C645.0,559.7 645.5,562.8 645.2,566.0C645.0,569.2 643.6,570.5 642.8,573.5C641.9,576.5 644.3,582.8 640.2,583.5C636.2,584.2 588.5,584.4 584.0,583.5C579.5,582.6 582.2,575.7 581.5,572.2C580.8,568.8 579.5,566.2 580.2,563.5C581.0,560.8 582.5,559.0 585.2,558.5C588.0,558.0 591.3,562.1 595.2,561.0C599.2,559.9 599.3,556.0 602.8,553.5C606.2,551.0 610.6,550.7 612.8,548.5C614.9,546.3 614.2,543.0 614.6,541.0C615.0,539.0 613.9,537.5 615.2,536.0Z" fill="#f7f6f6"/>
<path d="M540.2,552.2C542.2,550.7 544.2,548.5 546.5,549.1C548.8,549.7 548.8,552.5 550.2,554.8C551.7,557.0 552.8,558.3 554.0,561.0C555.2,563.7 555.6,565.5 556.5,568.5C557.4,571.5 558.6,574.8 559.0,577.2C559.4,579.7 561.4,582.8 559.0,583.5C556.6,584.2 541.2,585.5 537.1,583.5C533.1,581.5 536.2,575.7 535.9,572.2C535.5,568.8 535.1,566.0 535.2,563.5C535.4,561.0 535.5,559.5 536.5,557.2C537.5,555.0 538.3,553.8 540.2,552.2Z" fill="#f7f6f6"/>
<path d="M503.4,553.5C503.6,551.4 504.7,556.4 505.2,558.5C505.8,560.6 506.5,563.5 506.5,566.0C506.5,568.5 505.6,571.4 505.2,572.2C504.9,573.1 503.5,574.4 503.4,573.5C503.3,572.6 503.1,555.6 503.4,553.5Z" fill="#f7f6f6"/>
<path d="M681.4,419.8C681.4,417.8 681.3,415.5 683.2,415.4C685.2,415.3 764.4,415.1 767.6,415.4C770.9,415.7 767.4,420.4 768.2,423.5C769.1,426.6 770.1,429.3 772.0,431.0C773.9,432.7 775.8,433.0 778.2,432.2C780.7,431.5 782.2,429.5 784.5,427.2C786.8,425.0 787.6,422.2 789.5,421.0C791.4,419.8 793.1,419.5 795.1,420.4C797.1,421.2 796.9,423.0 798.2,424.8C799.6,426.5 801.1,428.6 803.2,431.0C805.4,433.4 808.1,436.1 809.5,437.2C810.9,438.4 811.5,440.3 813.2,439.8C815.0,439.2 815.0,436.2 817.0,434.8C819.0,433.3 821.3,432.2 824.5,431.6C827.7,431.1 831.8,431.1 834.5,431.6C837.2,432.2 839.4,432.7 840.8,434.8C842.1,436.8 841.9,438.8 840.8,441.0C839.6,443.2 835.7,445.9 834.5,447.2C833.3,448.6 833.7,450.6 832.0,451.0C830.3,451.4 827.4,450.7 824.5,449.8C821.6,448.8 818.9,445.1 817.0,446.0C815.1,446.9 816.4,450.5 816.4,453.5C816.4,456.5 816.6,461.0 817.0,466.0C817.4,471.0 817.5,473.5 818.2,478.5C819.0,483.5 819.7,486.0 820.8,491.0C821.8,496.0 821.6,502.9 823.9,506.0C826.2,509.1 831.4,511.2 833.2,507.9C835.1,504.5 831.8,494.2 832.0,491.0C832.2,487.8 832.9,486.2 834.5,483.5C836.1,480.8 840.2,472.1 840.8,476.0C841.3,479.9 841.0,521.6 840.8,524.8C840.5,527.9 837.5,528.3 835.8,531.0C834.0,533.7 831.4,537.9 829.5,542.2C827.6,546.6 826.6,548.8 825.8,553.5C824.9,558.2 825.8,562.7 825.1,566.0C824.4,569.3 822.2,570.2 821.4,573.5C820.6,576.8 824.7,582.8 820.8,583.5C816.8,584.2 768.4,584.0 764.5,583.5C760.6,583.0 760.4,579.3 758.2,576.0C756.1,572.7 754.8,569.9 753.2,566.0C751.7,562.1 750.6,560.0 750.1,556.0C749.6,552.0 751.1,550.0 750.8,546.0C750.4,542.0 748.4,538.5 748.2,536.0C748.1,533.5 750.0,531.8 749.5,529.8C749.0,527.7 747.5,526.0 745.8,526.0C744.0,526.0 743.3,529.8 742.0,529.8C740.7,529.8 740.3,527.7 740.1,526.0C740.0,524.3 739.9,519.3 740.8,516.0C741.6,512.7 741.6,510.2 744.5,508.5C747.4,506.8 751.0,509.1 753.2,508.5C755.5,507.9 757.6,507.1 757.6,504.8C757.6,502.4 754.3,500.1 753.2,497.2C752.2,494.4 751.9,492.4 752.0,489.8C752.1,487.1 753.6,486.0 753.9,483.5C754.1,481.0 754.1,479.6 753.2,477.2C752.4,474.9 749.5,473.9 749.5,471.0C749.5,468.1 752.5,466.2 753.2,464.8C754.0,463.3 755.9,461.8 754.5,461.0C753.1,460.2 747.3,461.2 745.8,460.4C744.2,459.5 746.8,456.6 745.1,456.0C743.5,455.4 738.6,455.5 734.5,456.0C730.4,456.5 728.3,457.4 724.5,458.5C720.7,459.6 718.0,463.1 715.1,461.6C712.2,460.2 712.8,456.1 712.0,452.2C711.2,448.4 711.8,444.0 710.8,441.0C709.7,438.0 707.6,437.3 705.8,434.8C703.9,432.2 702.8,428.9 700.8,427.2C698.7,425.6 697.1,425.2 694.5,425.4C691.9,425.5 690.6,428.0 688.2,427.9C685.9,427.7 684.6,426.4 683.2,424.8C681.9,423.1 681.4,421.7 681.4,419.8Z" fill="#f7f6f6"/>
<path d="M535.2,581.4C532.2,582.6 534.5,586.2 534.6,589.5C534.7,592.8 534.9,597.8 535.9,600.8C536.8,603.7 538.0,604.9 540.2,607.0C542.5,609.1 545.5,609.5 547.8,612.0C550.0,614.5 549.9,617.2 551.5,619.5C553.1,621.8 555.2,622.0 556.5,624.5C557.8,627.0 558.7,630.5 559.0,634.5C559.3,638.5 557.8,641.5 557.8,644.5C557.8,647.5 559.3,649.0 559.0,652.0C558.7,655.0 557.3,657.4 556.5,659.5C555.7,661.6 553.4,662.5 554.0,664.5C554.6,666.5 557.1,667.5 559.0,668.2C560.9,669.0 562.7,667.1 564.0,668.2C565.3,669.4 565.5,671.4 564.6,673.2C563.7,675.1 559.4,676.2 559.0,678.2C558.6,680.3 561.2,680.5 562.8,682.0C564.2,683.5 565.9,683.7 566.5,685.8C567.1,687.8 566.3,691.5 566.5,694.5C566.7,697.5 568.2,699.5 567.8,702.0C567.3,704.5 566.0,705.5 564.0,707.0C562.0,708.5 559.5,708.4 557.8,709.5C556.0,710.6 554.3,711.5 554.0,713.2C553.7,715.0 554.9,716.1 556.5,717.0C558.1,717.9 560.5,717.1 562.8,718.2C565.0,719.4 566.9,721.4 569.0,723.2C571.1,725.1 572.1,727.5 574.0,728.2C575.9,729.0 577.0,727.5 579.0,727.0C581.0,726.5 581.9,726.0 584.0,725.8C586.1,725.5 589.3,725.3 591.5,725.8C593.7,726.2 594.3,728.7 596.5,728.2C598.7,727.8 600.8,724.8 602.8,723.2C604.7,721.7 607.5,721.8 607.8,719.5C608.0,717.2 604.8,716.1 604.0,713.2C603.2,710.4 603.4,705.1 602.8,702.0C602.1,698.9 600.9,697.6 600.2,694.5C599.6,691.4 599.0,687.5 599.0,684.5C599.0,681.5 599.6,679.1 600.2,677.0C600.9,674.9 601.6,672.6 602.8,672.0C603.9,671.4 604.5,673.3 605.2,674.5C606.0,675.7 606.8,678.7 607.8,680.8C608.7,682.8 609.2,683.8 610.2,685.8C611.3,687.7 612.1,689.8 614.0,692.0C615.9,694.2 618.7,695.6 620.2,697.0C621.8,698.4 622.2,701.3 624.0,700.8C625.8,700.2 625.8,696.7 627.8,694.5C629.7,692.3 633.4,691.5 634.0,689.5C634.6,687.5 630.5,687.9 630.2,685.8C630.0,683.6 632.0,680.5 632.8,677.0C633.5,673.5 632.8,671.6 634.0,668.2C635.2,664.9 636.9,662.3 639.0,659.5C641.1,656.7 642.9,655.9 645.2,653.2C647.6,650.6 649.1,648.4 651.5,645.8C653.9,643.1 655.9,641.8 657.8,639.5C659.6,637.2 661.0,635.8 661.5,633.2C662.0,630.8 661.5,629.2 660.2,627.0C659.0,624.8 655.6,620.8 654.0,619.5C652.4,618.2 651.0,617.8 649.0,618.2C647.0,618.7 645.1,620.3 642.8,622.0C640.4,623.7 638.8,627.0 636.5,627.0C634.2,627.0 633.9,624.2 632.8,622.0C631.6,619.8 630.6,615.5 630.2,614.5C629.9,613.5 629.0,612.8 629.6,612.0C630.3,611.2 634.3,608.8 636.5,607.0C638.7,605.2 640.7,604.7 641.5,602.0C642.3,599.3 641.7,592.8 641.5,589.5C641.3,586.2 643.5,581.8 640.2,581.4C637.0,580.9 588.5,580.9 585.2,581.4C582.0,581.9 586.5,586.3 585.9,589.5C585.3,592.7 582.8,594.5 582.1,598.2C581.5,602.0 581.9,605.3 582.8,608.2C583.6,611.2 586.0,612.2 587.1,614.5C588.3,616.8 588.9,618.1 589.0,620.8C589.1,623.4 588.7,625.4 587.8,628.2C586.8,631.1 585.0,634.5 584.0,635.8C583.0,637.0 581.7,637.6 580.2,637.0C578.8,636.4 577.1,633.6 575.2,632.0C573.4,630.4 571.8,630.2 570.2,628.2C568.7,626.3 567.9,623.3 566.5,620.8C565.1,618.2 564.1,617.1 562.8,614.5C561.4,611.9 560.5,610.0 559.0,607.0C557.5,604.0 556.2,602.7 555.2,599.5C554.3,596.3 554.0,592.8 554.0,589.5C554.0,586.2 558.3,582.7 555.2,581.4C552.2,580.1 538.3,580.2 535.2,581.4Z" fill="#f7f6f6"/>
<path d="M503.4,623.2C503.6,621.0 506.8,621.2 509.0,622.0C511.2,622.8 512.2,624.8 514.0,627.0C515.8,629.2 516.8,631.8 519.0,634.5C521.2,637.2 523.4,639.1 525.2,640.8C527.1,642.4 529.7,642.1 530.2,644.5C530.8,646.9 528.8,649.0 527.8,652.0C526.8,655.0 525.5,656.3 525.2,659.5C525.0,662.7 527.5,666.8 526.5,669.5C525.5,672.2 523.0,672.3 520.2,673.2C517.5,674.2 515.0,675.3 511.5,674.5C508.0,673.7 504.0,673.3 503.4,669.5C502.8,665.7 503.1,625.5 503.4,623.2Z" fill="#f7f6f6"/>
<path d="M503.4,690.8C504.0,687.5 508.2,689.3 511.5,689.5C514.8,689.7 518.6,690.8 520.2,692.0C521.9,693.2 521.9,695.0 521.5,697.0C521.1,699.0 517.5,702.0 517.8,704.5C518.0,707.0 520.7,706.9 522.8,708.2C524.8,709.6 527.1,709.8 529.0,712.0C530.9,714.2 531.1,716.6 532.8,719.5C534.4,722.4 536.0,723.8 537.8,727.0C539.5,730.2 545.2,734.9 541.5,735.8C537.8,736.6 512.3,745.6 503.4,735.1C494.5,724.6 502.8,694.0 503.4,690.8Z" fill="#f7f6f6"/>
<path d="M503.4,736.4C508.4,734.9 541.0,737.2 544.0,737.6C547.0,738.1 547.3,740.9 549.0,743.2C550.7,745.6 555.6,749.1 552.8,749.5C549.9,749.9 508.4,750.8 503.4,749.5C498.3,748.2 498.3,737.8 503.4,736.4Z" fill="#f7f6f6"/>
<path d="M569.0,738.9C571.1,738.0 581.0,738.1 582.8,738.2C584.5,738.4 585.2,739.5 586.5,740.8C587.8,742.0 590.6,745.9 591.5,747.0C592.4,748.1 595.4,749.3 594.0,749.5C592.6,749.7 574.0,750.0 571.5,749.5C569.0,749.0 568.3,746.7 567.8,744.5C567.2,742.3 566.9,739.8 569.0,738.9Z" fill="#f7f6f6"/>
<path d="M610.2,727.6C612.0,727.0 614.3,729.9 616.5,732.0C618.7,734.1 620.7,737.0 622.8,739.5C624.8,742.0 626.4,744.2 627.8,745.8C629.1,747.3 633.2,748.6 631.5,749.5C629.8,750.4 623.8,751.0 620.2,749.5C616.7,748.0 616.2,744.9 614.0,742.0C611.8,739.1 609.7,737.2 609.0,734.5C608.3,731.8 608.5,728.2 610.2,727.6Z" fill="#f7f6f6"/>
<path d="M764.5,581.4C761.0,581.9 767.0,586.1 768.2,589.5C769.5,592.9 770.7,598.4 772.0,602.0C773.3,605.6 773.9,608.3 775.8,610.8C777.6,613.2 779.0,614.5 782.0,615.1C785.0,615.7 788.1,614.7 792.0,613.9C795.9,613.1 800.1,612.4 803.2,610.8C806.4,609.1 807.3,607.2 809.5,604.5C811.7,601.8 813.1,600.3 814.5,597.0C815.9,593.7 816.2,589.3 817.0,587.0C817.8,584.7 821.9,581.6 819.5,581.4C817.1,581.1 768.0,580.8 764.5,581.4Z" fill="#f7f6f6"/>
<path d="M786.4,654.5C786.9,652.3 790.8,647.7 792.0,647.0C793.2,646.3 794.1,648.2 794.5,649.5C794.9,650.8 794.1,654.5 795.1,657.0C796.1,659.5 798.7,660.2 799.5,662.0C800.3,663.8 801.0,666.3 799.5,667.0C798.0,667.7 795.4,666.6 793.2,665.1C791.1,663.6 790.1,661.4 788.9,659.5C787.7,657.6 785.8,656.7 786.4,654.5Z" fill="#f7f6f6"/>
<path d="M809.5,644.5C809.8,642.3 811.4,639.6 813.2,638.9C815.1,638.2 816.2,639.9 817.6,641.4C819.1,642.8 821.2,644.2 820.8,646.4C820.3,648.6 817.2,650.2 815.8,650.8C814.3,651.3 813.1,650.6 812.0,649.5C810.9,648.4 809.2,646.7 809.5,644.5Z" fill="#f7f6f6"/>
<path d="M780.8,719.5C782.5,718.5 786.1,719.2 788.2,720.1C790.4,721.1 789.8,723.8 792.0,724.5C794.2,725.2 796.0,724.3 798.2,723.2C800.5,722.2 801.6,720.1 803.2,719.5C804.9,718.9 806.7,718.0 807.6,719.5C808.6,721.0 808.9,725.5 809.5,729.5C810.1,733.5 809.8,735.6 810.8,739.5C811.7,743.4 818.6,748.3 814.5,749.5C810.4,750.7 779.5,750.3 775.8,749.5C772.0,748.7 771.4,743.6 772.0,740.8C772.6,737.9 776.1,738.9 778.2,737.0C780.4,735.1 782.7,733.4 783.2,730.8C783.8,728.1 781.2,726.5 780.8,724.5C780.3,722.5 779.0,720.5 780.8,719.5Z" fill="#f7f6f6"/>
<path d="M802.0,717.6C801.7,716.0 805.5,710.8 807.0,710.8C808.5,710.8 809.4,716.0 808.2,717.6C807.1,719.2 802.3,719.2 802.0,717.6Z" fill="#f7f6f6"/>
<path d="M830.8,749.5C829.4,748.0 832.8,743.8 834.5,743.2C836.2,742.7 837.4,746.1 838.2,747.0C839.1,747.9 841.3,749.1 840.1,749.5C838.9,749.9 832.1,751.0 830.8,749.5Z" fill="#f7f6f6"/>
<path d="M818.9,663.2C819.2,662.8 819.8,662.8 820.1,663.2C820.4,663.7 820.4,664.7 820.1,665.1C819.8,665.5 819.2,665.5 818.9,665.1C818.6,664.7 818.6,663.7 818.9,663.2Z" fill="#f7f6f6"/>
<path d="M787.0,705.1C787.3,704.7 788.0,704.7 788.2,705.1C788.5,705.5 788.5,706.6 788.2,707.0C788.0,707.4 787.3,707.4 787.0,707.0C786.7,706.6 786.7,705.5 787.0,705.1Z" fill="#f7f6f6"/>
<path d="M672.0,748.0L840.8,748.0L840.8,915.5L672.0,915.5Z" fill="#f7f6f6"/>
<path d="M672.0,914.0L840.8,914.0L840.8,1037.5L672.0,1037.5Z" fill="#f7f6f6"/>
<path d="M1019.2,215.0C1011.1,216.1 1024.0,231.9 1024.2,235.0C1024.5,238.1 1024.4,241.6 1021.8,242.5C1019.1,243.4 1016.0,239.2 1013.0,238.8C1010.0,238.3 1006.4,237.1 1005.5,240.0C1004.6,242.9 1002.2,257.5 1005.5,262.5C1008.8,267.5 1015.5,260.7 1020.5,262.5C1025.5,264.3 1025.7,268.9 1030.5,271.2C1035.3,273.6 1039.7,272.9 1045.5,275.0C1051.3,277.1 1058.6,279.7 1061.8,282.5C1064.9,285.3 1065.0,288.3 1065.0,292.5C1065.0,296.7 1063.7,298.8 1061.8,302.5C1059.8,306.2 1055.6,310.3 1053.0,315.0C1050.4,319.7 1049.8,322.4 1048.0,327.5C1046.2,332.6 1045.7,339.4 1043.0,342.5C1040.3,345.6 1037.1,344.3 1033.0,345.0C1028.9,345.7 1024.0,344.2 1020.5,346.2C1017.0,348.2 1016.3,351.0 1015.5,355.0C1014.7,359.0 1015.0,372.3 1014.2,377.5C1013.5,382.7 1009.7,384.8 1010.5,390.0C1011.3,395.2 1013.8,398.5 1018.0,402.5C1022.2,406.5 1027.7,411.8 1031.8,410.0C1035.8,408.2 1033.2,400.8 1035.5,395.0C1037.8,389.2 1044.8,379.4 1045.5,375.0C1046.2,370.6 1039.9,369.1 1040.5,365.0C1041.1,360.9 1044.2,359.3 1048.0,357.5C1051.8,355.7 1058.9,354.6 1061.8,355.0C1064.6,355.4 1065.6,357.4 1066.8,360.0C1067.9,362.6 1067.4,368.7 1069.2,372.5C1071.1,376.3 1075.9,375.8 1076.8,380.0C1077.6,384.2 1074.1,393.2 1074.2,397.5C1074.4,401.8 1078.0,403.2 1078.0,407.5C1078.0,411.8 1067.1,424.1 1074.2,425.0C1081.4,425.9 1185.7,473.0 1215.5,425.0C1245.3,377.0 1253.8,259.0 1208.0,210.0C1162.2,161.0 1027.4,213.9 1019.2,215.0Z" fill="#f7f6f6"/>
<path d="M876.0,433.0C877.8,433.6 875.1,437.8 873.5,440.5C871.9,443.2 867.3,445.7 866.0,450.5C864.7,455.3 868.3,458.4 867.2,463.0C866.2,467.6 861.8,468.3 861.0,473.0C860.2,477.7 862.3,480.6 863.5,485.5C864.7,490.4 865.6,493.0 867.2,498.0C868.9,503.0 872.5,509.1 872.2,511.8C872.0,514.4 868.7,509.0 866.0,509.2C863.3,509.5 857.8,510.4 856.0,513.0C854.2,515.6 861.1,518.7 858.5,520.5C855.9,522.3 844.9,520.7 838.5,525.5C832.1,530.3 830.7,538.3 828.5,543.0C826.3,547.7 825.8,550.4 824.8,555.5C823.7,560.6 824.1,567.5 822.2,573.0C820.4,578.5 816.0,581.7 814.8,585.5C813.5,589.3 816.5,593.2 814.8,595.5C813.0,597.8 807.5,598.5 807.2,595.5C807.0,592.5 806.1,514.4 807.2,508.0C808.4,501.6 818.8,511.2 823.5,506.8C828.2,502.3 828.9,489.6 831.0,485.5C833.1,481.4 836.9,481.1 838.5,476.8C840.1,472.4 838.9,461.4 842.2,455.5C845.6,449.6 852.0,448.5 856.0,445.5C860.0,442.5 862.2,440.4 866.0,438.0C869.8,435.6 874.2,432.4 876.0,433.0Z" fill="#f7f6f6"/>
<path d="M973.5,670.5C974.8,665.6 978.5,663.6 983.5,662.5C988.5,661.4 991.8,662.8 996.0,665.5C1000.2,668.2 1000.9,672.6 1003.5,675.5C1006.1,678.4 1007.8,680.3 1011.0,681.8C1014.2,683.2 1017.0,680.8 1019.8,683.0C1022.5,685.2 1025.0,690.9 1025.5,693.0C1026.0,695.1 1025.5,697.2 1023.5,698.0C1021.5,698.8 1018.8,697.9 1016.0,696.8C1013.2,695.6 1012.1,692.3 1008.5,691.8C1004.9,691.2 1001.6,693.3 999.8,694.2C997.9,695.2 995.8,695.9 996.0,698.0C996.2,700.1 1000.2,702.1 1001.0,705.5C1001.8,708.9 1000.6,712.9 999.8,714.2C998.9,715.6 996.8,714.4 996.0,713.0C995.2,711.6 995.0,705.2 993.5,703.0C992.0,700.8 989.5,702.0 987.2,700.5C985.0,699.0 983.8,697.9 982.2,695.5C980.7,693.1 978.7,689.7 977.2,685.5C975.8,681.3 972.2,675.4 973.5,670.5Z" fill="#f7f6f6"/>
<path d="M1003.5,726.8C1004.1,725.9 1005.4,725.9 1006.0,726.8C1006.6,727.6 1006.6,729.7 1006.0,730.5C1005.4,731.3 1004.1,731.3 1003.5,730.5C1002.9,729.7 1002.9,727.6 1003.5,726.8Z" fill="#f7f6f6"/>
<path d="M1090.5,753.5C1096.4,754.6 1090.6,764.0 1089.2,768.5C1087.9,773.0 1084.9,775.5 1083.0,778.5C1081.1,781.5 1077.1,782.5 1078.0,786.0C1078.9,789.5 1085.2,789.8 1086.8,793.5C1088.3,797.2 1086.7,799.7 1085.5,803.5C1084.3,807.3 1083.2,809.9 1080.5,813.5C1077.8,817.1 1073.6,818.8 1070.5,823.5C1067.4,828.2 1067.5,834.5 1064.2,838.5C1061.0,842.5 1055.8,842.4 1053.0,844.8C1050.2,847.1 1051.0,850.3 1048.0,852.2C1045.0,854.2 1039.6,854.6 1035.5,856.0C1031.4,857.4 1028.6,857.2 1025.5,859.8C1022.4,862.3 1022.7,865.1 1020.5,868.5C1018.3,871.9 1014.3,876.6 1013.0,878.5C1011.7,880.4 1011.0,882.2 1010.0,883.5C1009.0,884.8 1006.8,887.6 1006.8,886.0C1006.7,884.4 988.9,781.8 1006.8,753.5C1024.6,725.2 1084.6,752.4 1090.5,753.5Z" fill="#f7f6f6"/>
<path d="M1006.8,893.5C1009.9,888.9 1018.2,893.6 1020.5,894.8C1022.8,895.9 1022.6,898.6 1021.8,901.0C1020.9,903.4 1018.4,905.9 1015.5,908.5C1012.6,911.1 1008.8,918.2 1006.8,914.8C1004.7,911.2 1003.6,898.1 1006.8,893.5Z" fill="#f7f6f6"/>
<path d="M838.5,754.8C838.5,752.8 843.3,752.8 843.5,754.8C843.7,756.7 840.0,763.4 839.8,768.5C839.5,773.6 842.4,778.1 842.2,781.0C842.1,783.9 838.8,784.3 838.5,787.2C838.2,790.2 837.9,814.7 838.5,821.0C839.1,827.3 840.5,830.4 843.5,836.0C846.5,841.6 854.5,850.8 856.0,853.5C857.5,856.2 858.3,858.2 857.2,861.0C856.2,863.8 848.8,867.4 848.5,873.5C848.2,879.6 854.2,885.2 856.0,891.0C857.8,896.8 859.1,900.0 858.5,906.0C857.9,912.0 854.2,920.0 852.2,926.0C850.3,932.0 848.1,934.7 847.2,941.0C846.4,947.3 846.4,954.7 847.2,961.0C848.1,967.3 850.7,971.0 852.2,976.0C853.8,981.0 854.9,984.5 856.0,988.5C857.1,992.5 862.1,996.5 858.5,998.5C854.9,1000.5 839.2,1006.5 838.5,998.5C837.8,990.5 838.5,756.7 838.5,754.8Z" fill="#f7f6f6"/>
<path d="M878.5,829.8C881.7,826.7 886.0,828.2 891.0,828.0C896.0,827.8 900.8,827.0 904.8,828.5C908.7,830.0 910.1,833.6 912.2,836.0C914.4,838.4 916.4,839.3 917.2,842.2C918.1,845.2 917.3,847.0 916.0,849.8C914.7,852.5 911.7,852.9 911.0,856.0C910.3,859.1 910.4,863.2 912.2,866.0C914.1,868.8 918.1,867.8 919.8,869.8C921.4,871.7 923.0,874.4 921.0,876.0C919.0,877.6 913.1,878.5 908.5,878.5C903.9,878.5 899.8,875.3 897.2,876.0C894.7,876.7 897.1,881.1 894.8,882.2C892.4,883.4 889.2,883.4 887.2,881.0C885.3,878.6 884.5,872.0 883.5,868.5C882.5,865.0 883.8,862.1 881.0,859.8C878.2,857.4 873.7,861.1 871.5,858.5C869.3,855.9 870.3,852.1 871.5,848.5C872.7,844.9 875.9,844.5 877.2,841.0C878.6,837.5 875.3,832.8 878.5,829.8Z" fill="#f7f6f6"/>
<path d="M947.2,806.0C949.8,802.8 959.0,800.5 963.5,798.5C968.0,796.5 969.8,793.9 974.8,793.5C979.7,793.1 988.1,796.0 992.2,796.0C996.4,796.0 999.3,796.3 1002.2,793.5C1005.2,790.7 1006.9,785.9 1008.0,781.0C1009.1,776.1 1007.9,769.2 1008.0,768.5C1008.1,767.8 1009.7,767.8 1009.8,768.5C1009.8,769.2 1022.2,869.6 1009.8,893.0C997.3,916.4 947.1,893.9 943.5,893.5C939.9,893.1 946.4,888.9 948.5,886.0C950.6,883.1 952.6,879.6 956.0,876.0C959.4,872.4 964.3,870.3 967.2,866.0C970.2,861.7 970.9,858.7 971.5,853.5C972.1,848.3 971.9,842.7 970.5,838.5C969.1,834.3 966.9,832.3 963.5,829.8C960.1,827.2 956.5,829.0 953.5,826.0C950.5,823.0 951.0,819.9 949.8,816.0C948.5,812.1 944.7,809.2 947.2,806.0Z" fill="#f7f6f6"/>
<path d="M941.0,894.8C945.6,894.1 1017.6,893.7 1021.0,894.0C1024.4,894.3 1020.5,899.5 1018.5,902.2C1016.5,905.0 1010.9,908.9 1008.5,911.0C1006.1,913.1 1005.1,914.6 1002.2,916.0C999.4,917.4 995.8,915.7 993.5,918.5C991.2,921.3 991.9,926.9 989.8,931.0C987.6,935.1 985.3,938.9 982.2,939.8C979.2,940.6 979.2,934.5 976.0,934.8C972.8,935.0 970.8,941.9 968.5,941.0C966.2,940.1 967.5,933.2 966.0,931.0C964.5,928.8 962.0,928.5 959.8,928.5C957.5,928.5 956.8,931.8 954.8,931.0C952.7,930.2 948.2,926.5 947.2,923.5C946.2,920.5 949.5,919.2 949.8,916.0C950.0,912.8 948.3,908.2 948.5,906.0C948.7,903.8 951.6,901.6 951.0,901.0C950.4,900.4 947.0,901.5 946.0,903.5C945.0,905.5 946.1,913.3 943.5,916.0C940.9,918.7 935.2,918.3 934.0,916.0C932.8,913.7 937.1,910.2 938.5,906.0C939.9,901.8 936.4,895.4 941.0,894.8Z" fill="#f7f6f6"/>
<path d="M927.2,981.0C928.4,977.0 930.7,974.7 934.8,973.5C938.8,972.3 950.0,970.9 956.0,972.2C962.0,973.6 967.6,977.5 968.5,981.0C969.4,984.5 963.2,984.8 959.8,987.2C956.2,989.8 954.2,992.1 951.0,993.5C947.8,994.9 944.5,993.3 942.2,994.8C940.0,996.2 939.5,998.5 939.8,1001.0C940.0,1003.5 944.4,1003.7 943.5,1006.0C942.6,1008.3 939.2,1009.4 936.0,1011.0C932.8,1012.6 930.0,1013.2 926.0,1014.8C922.0,1016.2 920.2,1017.9 916.0,1018.5C911.8,1019.1 902.8,1020.8 901.0,1018.5C899.2,1016.2 905.1,1011.4 908.5,1008.5C911.9,1005.6 915.0,1006.3 918.5,1003.5C922.0,1000.7 928.3,994.8 929.8,991.0C931.2,987.2 926.1,985.0 927.2,981.0Z" fill="#f7f6f6"/>
<path d="M912.2,887.2C913.1,886.4 915.1,886.4 916.0,887.2C916.9,888.1 916.9,890.1 916.0,891.0C915.1,891.9 913.1,891.9 912.2,891.0C911.4,890.1 911.4,888.1 912.2,887.2Z" fill="#f7f6f6"/>
<path d="M926.0,888.5C926.6,887.9 927.9,887.9 928.5,888.5C929.1,889.1 929.1,890.4 928.5,891.0C927.9,891.6 926.6,891.6 926.0,891.0C925.4,890.4 925.4,889.1 926.0,888.5Z" fill="#f7f6f6"/>
<path d="M728.8,259.4C729.1,258.7 732.9,253.1 735.3,249.1C737.7,245.0 737.3,241.8 740.9,238.8C744.5,235.7 749.1,233.9 753.1,234.1C757.2,234.2 759.5,238.6 761.6,239.7C763.7,240.8 766.1,239.8 767.2,241.6C768.3,243.3 767.1,245.1 766.3,247.2C765.4,249.3 763.5,249.6 762.9,251.9C762.3,254.1 766.1,260.3 762.5,261.3C758.9,262.2 729.5,261.3 728.8,261.3C728.0,261.2 728.4,260.0 728.8,259.4Z" fill="#f7f6f6"/>
<path d="M671.4,747.4C679.9,743.8 723.7,746.9 727.0,747.4C730.3,747.9 725.1,752.2 725.1,755.5C725.1,758.8 726.0,761.5 727.0,764.2C728.0,767.0 729.5,768.8 730.8,770.5C732.0,772.2 733.1,772.7 734.5,774.2C735.9,775.8 737.2,778.2 739.5,780.5C741.8,782.8 743.8,784.0 745.8,785.5C747.7,787.0 749.6,787.0 750.8,789.2C751.9,791.5 752.7,795.9 753.2,800.5C753.8,805.1 753.1,810.5 753.9,814.2C754.6,818.0 756.5,819.4 757.6,823.0C758.8,826.6 759.5,830.5 760.8,835.5C762.0,840.5 763.4,844.0 763.9,848.0C764.3,852.0 764.4,854.6 763.2,858.0C762.1,861.4 759.8,863.6 758.2,865.5C756.7,867.4 756.2,870.2 753.9,869.9C751.5,869.6 750.1,866.8 748.2,864.2C746.4,861.7 746.5,859.5 744.5,856.8C742.5,854.0 741.0,852.5 738.2,850.5C735.5,848.5 733.2,848.0 730.8,846.8C728.2,845.5 726.9,844.3 724.5,843.6C722.1,842.9 720.7,842.4 718.2,843.0C715.8,843.6 714.3,845.3 712.0,846.8C709.7,848.2 708.0,851.1 706.4,850.5C704.8,849.9 704.8,846.8 705.1,844.2C705.4,841.7 707.2,838.3 708.2,834.2C709.3,830.2 710.8,827.1 710.8,823.0C710.8,818.9 709.5,816.9 708.2,813.0C707.0,809.1 705.9,806.5 704.5,803.0C703.1,799.5 702.0,797.9 700.8,794.2C699.5,790.6 698.7,787.5 697.6,783.0C696.5,778.5 698.2,774.9 695.1,771.1C692.0,767.4 686.5,765.9 683.2,765.5C680.0,765.1 677.5,767.9 675.8,768.6C674.0,769.4 671.8,772.4 671.4,770.5C671.0,768.6 662.8,750.9 671.4,747.4Z" fill="#f8bfa4"/>
<path d="M727.0,747.4C729.2,747.1 774.8,747.3 777.0,747.4C779.2,747.5 774.1,749.2 772.0,749.9C769.9,750.6 765.8,751.1 763.9,751.8C762.0,752.4 761.5,754.5 759.5,754.2C757.5,754.0 755.2,751.5 752.0,750.5C748.8,749.5 746.0,748.8 742.0,748.6C738.0,748.5 734.3,749.2 732.0,749.9C729.7,750.5 728.2,753.6 727.0,753.0C725.8,752.4 724.8,747.6 727.0,747.4Z" fill="#f8bfa4"/>
<path d="M815.8,747.4C817.5,746.4 827.3,746.3 829.5,747.4C831.7,748.5 828.8,752.0 827.0,753.0C825.2,754.0 823.8,752.7 822.0,751.8C820.2,750.8 814.0,748.4 815.8,747.4Z" fill="#f8bfa4"/>
<path d="M838.9,766.8C839.1,765.9 840.6,764.6 840.8,765.5C840.9,766.4 841.1,774.3 840.8,775.5C840.4,776.7 839.1,774.2 838.9,773.0C838.6,771.8 838.7,767.6 838.9,766.8Z" fill="#f8bfa4"/>
<path d="M818.2,789.2C818.8,787.4 821.9,787.6 824.5,787.4C827.1,787.1 829.0,788.1 832.0,788.0C835.0,787.9 840.1,783.3 840.8,786.8C841.4,790.2 841.0,830.5 840.8,833.0C840.5,835.5 838.6,829.9 837.0,828.0C835.4,826.1 832.7,825.7 832.0,823.0C831.3,820.3 834.1,818.6 833.9,815.5C833.6,812.4 832.1,810.6 830.8,808.0C829.4,805.4 828.7,804.1 827.0,801.8C825.3,799.4 823.7,797.9 822.0,795.5C820.3,793.1 817.7,791.1 818.2,789.2Z" fill="#f8bfa4"/>
<path d="M671.4,813.0C671.7,810.0 674.2,816.6 675.8,819.2C677.3,821.9 678.9,825.7 680.8,829.2C682.6,832.8 684.6,836.0 685.8,838.0C686.9,840.0 688.3,840.7 688.9,843.0C689.5,845.3 688.9,848.6 689.5,851.8C690.1,854.9 691.1,856.3 692.0,859.2C692.9,862.2 694.0,863.7 693.9,866.8C693.8,869.8 692.2,872.5 691.4,875.5C690.6,878.5 688.8,880.9 689.5,883.0C690.2,885.1 692.4,884.9 694.5,885.5C696.6,886.1 699.0,886.5 702.0,886.8C705.0,887.0 709.6,888.1 713.2,886.8C716.9,885.4 717.5,880.2 720.1,879.9C722.8,879.6 722.9,883.1 724.5,885.5C726.1,887.9 726.1,889.7 728.2,891.8C730.4,893.8 732.8,894.7 735.8,896.1C738.7,897.6 742.2,896.8 743.2,899.2C744.3,901.7 741.5,903.8 740.1,906.8C738.8,909.7 739.5,914.4 735.8,915.5C732.0,916.6 713.0,916.6 709.5,915.5C706.0,914.4 709.0,908.2 707.0,906.8C705.0,905.3 702.5,907.3 700.8,909.2C699.0,911.2 701.4,915.0 698.9,915.5C696.3,916.0 677.5,924.7 671.4,915.5C665.3,906.3 671.2,876.1 671.4,874.2C671.6,872.4 674.9,874.6 675.8,873.0C676.6,871.4 676.6,867.3 675.8,865.5C674.9,863.7 671.5,865.0 671.4,863.0C671.2,861.0 671.1,816.0 671.4,813.0Z" fill="#f8bfa4"/>
<path d="M709.5,907.5C709.7,905.0 712.2,903.8 714.5,903.8C716.8,903.8 717.4,906.1 719.5,907.5C721.6,908.9 723.6,909.3 725.8,911.2C727.9,913.2 729.5,914.5 730.8,917.5C732.0,920.5 731.3,922.8 732.0,926.2C732.7,929.7 733.3,931.9 734.5,935.0C735.7,938.1 737.3,939.3 738.2,942.5C739.2,945.7 737.5,950.4 739.5,951.2C741.5,952.1 744.0,948.2 747.0,946.2C750.0,944.2 752.5,942.7 754.5,941.2C756.5,939.8 757.1,938.1 759.5,937.5C761.9,936.9 767.2,936.6 769.5,937.5C771.8,938.4 771.9,940.4 773.2,942.5C774.6,944.6 776.4,946.0 776.4,948.1C776.4,950.3 775.0,951.2 773.2,952.5C771.5,953.8 768.2,955.0 765.8,956.2C763.2,957.5 762.0,958.0 759.5,959.4C757.0,960.7 754.6,961.9 752.0,963.8C749.4,965.6 747.3,966.1 745.8,968.8C744.2,971.4 744.7,973.2 744.5,976.2C744.3,979.3 745.4,981.6 744.5,985.0C743.6,988.4 741.7,989.4 740.1,992.5C738.6,995.6 737.3,997.9 736.4,1001.2C735.4,1004.6 735.0,1006.5 735.1,1010.0C735.2,1013.5 740.7,1018.5 737.0,1019.4C733.3,1020.3 700.7,1020.2 697.0,1019.4C693.3,1018.5 699.8,1014.0 702.0,1011.2C704.2,1008.5 706.4,1007.3 708.2,1005.0C710.1,1002.7 711.7,1001.7 712.0,998.8C712.3,995.8 710.2,994.2 709.5,991.2C708.8,988.3 710.1,986.2 708.2,983.8C706.4,981.3 702.7,981.9 700.8,980.0C698.8,978.1 699.2,976.3 698.2,973.8C697.3,971.2 695.2,969.4 695.8,966.2C696.3,963.1 698.6,962.4 700.8,960.0C702.9,957.6 705.6,955.5 707.0,953.8C708.4,952.0 710.1,950.9 709.5,948.8C708.9,946.6 703.5,944.8 703.2,941.2C703.0,937.8 706.7,937.0 708.2,933.8C709.8,930.5 709.8,928.0 710.8,925.0C711.7,922.0 713.5,920.7 713.2,917.5C713.0,914.3 709.3,910.0 709.5,907.5Z" fill="#f8bfa4"/>
<path d="M671.4,961.2C671.8,958.5 675.6,959.0 678.2,960.0C680.9,961.0 682.5,963.5 684.5,966.2C686.5,969.0 687.3,970.5 688.2,973.8C689.2,977.0 687.8,979.4 689.5,982.5C691.2,985.6 695.9,986.0 697.0,990.0C698.1,994.0 695.0,998.0 694.5,1000.0C694.0,1002.0 695.2,1005.5 693.2,1005.0C691.2,1004.5 686.4,999.1 684.5,997.5C682.6,995.9 681.5,993.2 679.5,993.8C677.5,994.3 677.1,997.4 675.8,1000.0C674.4,1002.6 671.8,1012.6 671.4,1008.8C670.9,1004.9 671.0,964.0 671.4,961.2Z" fill="#f8bfa4"/>
<path d="M818.9,957.5C819.2,957.0 822.0,956.5 822.6,956.9C823.2,957.2 822.2,958.9 821.4,959.0C820.5,959.1 818.6,958.0 818.9,957.5Z" fill="#f8bfa4"/>
<path d="M818.9,982.5C819.8,981.0 821.6,981.2 823.2,981.9C824.9,982.5 827.0,984.5 828.2,986.2C829.5,988.0 830.1,989.1 830.1,991.2C830.1,993.4 830.1,996.6 828.2,997.5C826.4,998.4 824.0,996.5 822.0,995.0C820.0,993.5 818.9,992.4 818.2,990.0C817.6,987.6 817.9,984.0 818.9,982.5Z" fill="#f8bfa4"/>
<path d="M790.8,1006.9C790.8,1005.4 792.3,1003.6 793.9,1003.8C795.5,1003.9 797.6,1006.0 797.6,1007.5C797.6,1009.0 795.5,1010.1 793.9,1010.0C792.3,1009.9 790.8,1008.3 790.8,1006.9Z" fill="#f8bfa4"/>
<path d="M840.8,997.5C839.9,994.8 837.6,1000.4 835.8,1002.5C833.9,1004.6 832.2,1005.9 830.8,1008.8C829.3,1011.6 824.7,1016.9 827.0,1019.4C829.3,1021.9 837.8,1024.0 840.8,1019.4C843.7,1014.7 841.6,1000.2 840.8,997.5Z" fill="#f8bfa4"/>
<path d="M548.5,218.0C552.7,215.5 566.6,215.9 571.0,218.0C575.4,220.1 574.6,225.9 573.5,230.0C572.4,234.1 570.0,236.4 566.0,237.5C562.0,238.6 558.5,236.3 556.0,235.0C553.5,233.7 552.1,232.6 551.0,230.0C549.9,227.4 544.3,220.5 548.5,218.0Z" fill="#e48066"/>
<path d="M540.5,232.0C540.9,229.6 543.5,227.1 545.5,227.5C547.5,227.9 549.4,231.3 549.0,233.8C548.6,236.2 546.0,238.4 544.0,238.0C542.0,237.6 540.1,234.4 540.5,232.0Z" fill="#e48066"/>
<path d="M573.5,218.8C576.5,216.6 588.7,217.5 591.5,218.8C594.3,220.0 592.3,224.5 589.8,226.2C587.2,228.0 582.3,229.8 578.5,228.0C574.7,226.2 570.5,220.9 573.5,218.8Z" fill="#e48066"/>
<path d="M564.8,240.0C565.3,238.7 567.8,237.5 569.0,238.0C570.2,238.5 570.6,240.7 570.0,242.0C569.4,243.3 567.7,244.0 566.5,243.5C565.3,243.0 564.2,241.3 564.8,240.0Z" fill="#e48066"/>
<path d="M530.9,342.5C532.8,340.1 536.8,340.0 540.2,337.5C543.7,335.0 545.4,331.1 547.8,330.0C550.1,328.9 552.1,329.6 554.0,331.2C555.9,332.9 556.8,336.6 559.0,340.0C561.2,343.4 564.3,346.9 565.2,348.8C566.2,350.6 566.9,351.7 566.5,353.8C566.1,355.8 564.1,358.7 562.8,361.2C561.4,363.8 560.6,365.9 559.0,367.5C557.4,369.1 556.2,370.5 554.0,370.0C551.8,369.5 550.1,367.1 547.8,365.0C545.4,362.9 544.2,360.7 541.5,358.8C538.8,356.8 536.0,356.5 534.0,355.0C532.0,353.5 530.9,352.4 530.2,350.0C529.6,347.6 529.0,344.9 530.9,342.5Z" fill="#e48066"/>
<path d="M624.0,248.8C619.4,251.9 622.7,259.4 622.8,262.5C622.8,265.6 625.4,267.0 624.6,270.0C623.8,273.0 621.5,276.0 619.0,276.2C616.5,276.5 616.1,273.1 614.0,271.2C611.9,269.4 608.8,266.0 606.5,265.0C604.2,264.0 602.0,263.9 600.2,265.6C598.5,267.4 598.6,269.7 599.0,272.5C599.4,275.3 601.9,281.1 602.8,285.0C603.6,288.9 604.2,292.8 604.0,295.0C603.8,297.2 601.1,297.8 601.5,300.0C601.9,302.2 605.4,305.9 606.5,308.8C607.6,311.6 608.9,313.5 607.8,316.2C606.6,319.0 602.1,325.4 599.0,326.2C595.9,327.1 596.6,321.8 594.0,320.0C591.4,318.2 588.5,316.3 586.5,317.5C584.5,318.7 584.2,322.1 585.2,325.0C586.3,327.9 590.2,329.5 591.5,331.2C592.8,333.0 594.0,334.5 593.4,336.2C592.8,338.0 590.8,337.9 589.0,338.8C587.2,339.6 582.1,341.2 579.0,342.5C575.9,343.8 574.1,344.9 571.5,346.2C568.9,347.6 565.8,347.7 565.2,350.0C564.7,352.3 566.9,354.2 569.0,356.2C571.1,358.3 572.9,358.3 575.2,360.0C577.6,361.7 578.7,363.7 581.5,365.0C584.3,366.3 586.5,365.0 589.0,366.2C591.5,367.5 592.2,369.8 594.0,371.2C595.8,372.7 596.7,374.1 599.0,374.4C601.3,374.7 604.9,374.2 607.8,373.1C610.6,372.1 612.5,371.4 614.0,368.8C615.5,366.1 615.4,361.1 616.5,357.5C617.6,353.9 618.5,349.9 620.2,348.8C622.0,347.6 622.8,350.8 624.0,352.5C625.2,354.2 625.9,356.2 627.1,358.8C628.4,361.2 629.9,362.2 630.2,365.0C630.6,367.8 629.0,370.2 629.0,373.8C629.0,377.3 629.8,379.0 630.2,382.5C630.8,386.0 631.8,387.7 631.5,391.2C631.2,394.8 629.8,396.5 629.0,400.0C628.2,403.5 627.3,407.0 627.1,410.0C626.9,413.0 624.8,417.0 627.8,417.5C630.7,418.0 662.2,430.9 672.8,417.5C683.2,404.1 673.8,364.9 672.8,360.0C671.7,355.1 663.3,359.8 660.2,358.8C657.2,357.7 655.6,356.5 654.0,353.8C652.4,351.0 652.1,348.6 652.1,345.0C652.1,341.4 652.4,339.0 654.0,336.2C655.6,333.5 658.3,332.8 660.2,331.2C662.2,329.7 663.8,329.2 665.2,327.5C666.7,325.8 666.4,324.3 667.8,322.5C669.1,320.7 672.0,320.2 672.8,317.5C673.5,314.8 674.5,307.0 672.8,305.0C671.0,303.0 668.2,308.8 665.2,308.8C662.3,308.8 660.3,306.6 659.0,305.0C657.7,303.4 657.3,302.0 657.8,300.0C658.2,298.0 660.6,296.1 661.5,293.8C662.4,291.4 663.2,290.0 662.8,287.5C662.2,285.0 661.0,282.8 659.0,281.2C657.0,279.7 655.3,280.2 652.8,280.0C650.2,279.8 648.2,279.5 645.2,280.0C642.3,280.5 638.4,281.6 636.5,282.5C634.6,283.4 634.5,286.0 632.8,286.2C631.0,286.5 628.7,285.5 629.0,283.8C629.3,282.0 631.5,279.5 634.0,277.5C636.5,275.5 638.4,275.0 641.5,273.8C644.6,272.5 648.2,272.9 650.2,271.2C652.3,269.6 652.4,267.6 652.1,265.0C651.9,262.4 650.6,260.3 649.0,257.5C647.4,254.7 646.8,250.2 642.8,248.8C638.7,247.3 628.6,245.6 624.0,248.8Z" fill="#e48066"/>
<path d="M564.0,385.0C564.4,382.8 566.8,380.1 569.0,377.5C571.2,374.9 573.4,372.7 575.2,371.9C577.1,371.1 578.5,371.5 580.2,372.5C582.0,373.5 582.8,376.1 585.2,377.5C587.7,378.9 592.0,378.7 594.0,380.0C596.0,381.3 597.1,382.6 597.1,385.0C597.1,387.4 596.7,390.7 594.0,392.5C591.3,394.3 586.2,393.2 584.0,393.8C581.8,394.3 581.2,396.0 579.0,396.2C576.8,396.5 574.0,396.3 571.5,395.0C569.0,393.7 567.8,391.8 566.5,390.0C565.2,388.2 563.6,387.2 564.0,385.0Z" fill="#e48066"/>
<path d="M503.4,370.0C503.8,367.0 507.4,372.4 509.0,375.0C510.6,377.6 511.6,381.5 512.8,385.0C513.9,388.5 513.5,390.7 515.2,393.8C517.0,396.8 520.0,397.3 521.5,400.0C523.0,402.7 522.8,404.5 522.8,407.5C522.8,410.5 525.1,415.7 521.5,417.5C517.9,419.3 506.0,424.3 503.4,417.5C500.8,410.7 503.0,373.0 503.4,370.0Z" fill="#e48066"/>
<path d="M588.4,416.9C586.6,415.0 589.7,410.2 590.2,408.8C590.8,407.3 591.3,405.0 592.8,405.6C594.2,406.2 595.6,409.1 596.5,411.2C597.4,413.4 599.6,415.6 597.8,416.9C595.9,418.2 590.1,418.8 588.4,416.9Z" fill="#e48066"/>
<path d="M683.2,293.8C683.5,291.9 688.7,289.7 690.8,290.0C692.8,290.3 692.2,293.4 692.0,295.0C691.8,296.6 691.1,298.4 689.5,298.1C687.9,297.9 683.0,295.6 683.2,293.8Z" fill="#e48066"/>
<path d="M671.4,307.5C672.5,304.8 675.4,304.5 678.2,305.0C681.1,305.5 686.1,307.1 687.0,310.0C687.9,312.9 684.5,315.3 682.0,317.5C679.5,319.7 675.7,320.8 674.5,321.2C673.3,321.7 671.7,322.5 671.4,321.2C671.1,320.0 670.2,310.2 671.4,307.5Z" fill="#e48066"/>
<path d="M687.0,317.5C687.0,315.9 689.0,314.8 690.8,315.0C692.5,315.2 697.1,317.3 698.2,318.8C699.4,320.2 698.7,322.4 697.0,323.1C695.3,323.8 692.8,323.0 690.8,321.9C688.7,320.7 687.0,319.1 687.0,317.5Z" fill="#e48066"/>
<path d="M693.2,346.2C693.6,344.7 695.7,342.3 696.4,343.8C697.1,345.2 697.3,352.5 697.0,353.8C696.7,355.0 694.4,355.5 693.9,354.4C693.3,353.2 692.9,347.8 693.2,346.2Z" fill="#e48066"/>
<path d="M671.4,359.4C672.7,357.8 675.0,357.9 677.0,358.1C679.0,358.4 681.7,358.9 681.4,360.6C681.1,362.4 677.4,364.9 675.8,365.6C674.1,366.3 672.4,366.4 671.4,365.0C670.4,363.6 670.1,361.0 671.4,359.4Z" fill="#e48066"/>
<path d="M687.0,361.2C686.6,360.4 688.5,358.0 689.5,358.1C690.5,358.3 692.0,361.1 691.4,361.9C690.8,362.6 687.4,362.1 687.0,361.2Z" fill="#e48066"/>
<path d="M671.4,385.0C672.4,384.3 675.3,385.2 675.8,386.2C676.2,387.3 673.9,388.9 673.2,389.4C672.6,389.8 671.7,390.1 671.4,389.4C671.1,388.7 670.4,385.7 671.4,385.0Z" fill="#e48066"/>
<path d="M671.4,398.8C672.2,396.4 674.7,402.1 675.1,405.0C675.5,407.9 673.7,411.3 673.2,412.5C672.8,413.7 671.5,416.2 671.4,415.0C671.2,413.8 670.5,401.1 671.4,398.8Z" fill="#e48066"/>
<path d="M688.9,401.9C689.1,401.4 689.9,401.4 690.1,401.9C690.3,402.3 690.3,403.9 690.1,404.4C689.9,404.8 689.1,404.8 688.9,404.4C688.7,403.9 688.7,402.3 688.9,401.9Z" fill="#e48066"/>
<path d="M503.4,415.4C505.6,412.6 511.4,414.1 512.8,415.4C514.1,416.7 510.7,418.9 509.0,421.0C507.3,423.1 504.7,428.6 503.4,427.2C502.1,425.9 501.2,418.1 503.4,415.4Z" fill="#e48066"/>
<path d="M510.9,448.5C511.4,446.9 512.9,444.9 515.2,444.1C517.6,443.3 528.0,441.4 530.9,441.6C533.7,441.9 534.5,444.0 536.5,446.0C538.5,448.0 542.0,452.7 545.2,456.0C548.5,459.3 550.3,461.0 554.0,463.5C557.7,466.0 560.2,466.1 564.0,468.5C567.8,470.9 571.5,473.5 574.0,476.0C576.5,478.5 577.7,481.1 579.0,483.5C580.3,485.9 581.5,487.1 581.5,489.8C581.5,492.4 579.8,494.2 579.0,497.2C578.2,500.3 577.8,505.6 576.5,508.5C575.2,511.4 573.0,512.8 571.5,514.8C570.0,516.7 568.5,517.4 567.8,519.8C567.0,522.1 567.3,525.0 567.1,528.5C566.9,532.0 566.8,538.7 566.5,539.8C566.2,540.8 564.9,541.6 564.0,541.0C563.1,540.4 560.4,537.1 559.0,534.8C557.6,532.4 558.0,530.7 556.5,528.5C555.0,526.3 553.5,525.5 551.5,523.5C549.5,521.5 548.0,519.5 545.2,517.2C542.5,515.0 539.4,514.3 537.8,512.2C536.1,510.2 536.3,508.6 535.9,506.0C535.4,503.4 535.5,498.8 535.2,497.2C535.0,495.7 535.1,494.6 534.0,493.5C532.9,492.4 530.9,492.2 529.0,491.0C527.1,489.8 525.2,488.0 522.8,486.0C520.2,484.0 519.3,482.5 516.5,481.0C513.7,479.5 511.1,479.9 509.0,478.5C506.9,477.1 505.9,475.4 505.2,473.5C504.6,471.6 504.6,470.0 505.9,468.5C507.2,467.0 509.1,466.5 511.5,466.0C513.9,465.5 517.6,465.7 519.0,466.0C520.4,466.3 520.6,469.1 521.5,468.5C522.4,467.9 523.4,465.5 522.8,463.5C522.1,461.5 519.6,459.4 517.8,457.2C515.9,455.1 513.8,453.6 512.8,452.2C511.7,450.9 510.4,450.1 510.9,448.5Z" fill="#e48066"/>
<path d="M503.4,511.0C504.2,508.2 507.7,509.9 510.2,508.5C512.8,507.1 515.1,504.0 517.8,503.5C520.4,503.0 522.0,504.2 524.0,506.0C526.0,507.8 527.1,509.8 527.8,512.2C528.4,514.7 526.1,516.8 527.1,518.5C528.1,520.2 530.9,518.1 532.1,519.8C533.4,521.4 533.4,523.6 532.8,526.0C532.1,528.4 530.6,529.1 529.0,531.0C527.4,532.9 525.1,534.3 524.0,536.0C522.9,537.7 523.7,539.2 522.8,541.0C521.8,542.8 521.5,546.0 519.0,546.0C516.5,546.0 513.5,542.4 511.5,541.0C509.5,539.6 507.9,538.6 506.5,537.2C505.1,535.9 503.6,535.4 503.4,533.5C503.1,531.6 502.6,513.8 503.4,511.0Z" fill="#e48066"/>
<path d="M589.0,415.4C586.1,418.4 588.3,423.3 587.8,428.5C587.2,433.7 586.2,443.1 585.9,444.8C585.6,446.4 585.6,448.2 584.0,448.5C582.4,448.8 576.1,446.6 574.0,447.2C571.9,447.9 570.8,450.1 571.5,452.2C572.2,454.4 576.1,455.8 577.8,458.5C579.4,461.2 579.1,463.0 580.2,466.0C581.4,469.0 583.3,471.3 584.0,474.8C584.7,478.2 583.6,480.8 584.0,483.5C584.4,486.2 585.1,487.4 586.5,489.8C587.9,492.1 588.9,494.4 591.5,496.0C594.1,497.6 596.9,496.6 599.0,497.2C601.1,497.9 602.4,498.2 604.0,499.8C605.6,501.3 606.6,503.3 607.8,506.0C608.9,508.7 608.7,511.5 610.2,514.8C611.8,518.0 614.4,520.8 615.2,522.2C616.1,523.7 615.7,525.2 617.1,526.0C618.6,526.8 622.7,529.2 626.5,528.5C630.3,527.8 636.0,524.1 637.8,522.2C639.5,520.4 638.8,517.9 638.4,516.0C637.9,514.1 635.6,513.3 635.2,512.2C634.9,511.2 635.4,509.5 636.5,509.8C637.6,510.0 639.7,511.7 641.5,513.5C643.3,515.3 644.6,517.6 646.5,519.8C648.4,521.9 650.6,523.5 651.5,524.8C652.4,526.0 653.5,527.1 652.8,528.5C652.0,529.9 648.5,532.0 646.5,533.5C644.5,535.0 642.3,535.4 641.5,537.2C640.7,539.1 641.8,540.4 642.8,542.2C643.7,544.1 645.8,546.8 647.8,549.8C649.8,552.8 651.0,554.1 652.8,557.2C654.5,560.4 655.1,563.0 656.5,566.0C657.9,569.0 658.6,571.2 660.2,573.5C661.9,575.8 663.2,576.6 665.2,578.5C667.3,580.4 670.3,583.1 670.9,583.5C671.5,583.9 672.7,584.2 672.8,583.5C672.8,582.8 677.4,432.8 672.8,415.4C668.1,398.0 629.1,415.3 627.8,415.4C626.4,415.5 628.3,417.4 629.0,418.5C629.7,419.6 631.7,421.2 632.8,423.5C633.8,425.8 634.6,428.4 634.6,431.0C634.6,433.6 634.1,435.3 632.8,437.2C631.4,439.2 630.1,440.0 627.8,440.4C625.4,440.8 621.4,441.0 619.0,439.8C616.6,438.5 616.4,436.3 615.2,434.1C614.1,432.0 613.7,430.5 612.8,428.5C611.8,426.5 611.8,425.1 610.2,423.5C608.7,421.9 605.8,421.2 604.0,419.8C602.2,418.3 602.5,416.0 600.2,415.4C598.0,414.7 591.9,412.3 589.0,415.4Z" fill="#e48066"/>
<path d="M571.5,536.0C572.9,534.8 575.4,531.7 577.8,532.2C580.1,532.8 580.6,535.7 581.5,538.5C582.4,541.3 582.6,543.0 582.1,546.0C581.6,549.0 579.8,550.3 579.0,553.5C578.2,556.7 578.0,559.5 577.8,563.5C577.5,567.5 577.5,569.5 577.8,573.5C578.0,577.5 582.4,581.3 579.0,583.5C575.6,585.7 566.0,586.1 562.8,583.5C559.5,580.9 564.6,575.7 565.2,572.2C565.9,568.8 566.0,567.0 566.5,563.5C567.0,560.0 567.6,556.5 567.8,553.5C567.9,550.5 566.9,548.6 567.1,546.0C567.4,543.4 568.3,541.4 569.0,539.8C569.7,538.1 570.1,537.2 571.5,536.0Z" fill="#e48066"/>
<path d="M530.9,546.0C531.4,544.9 533.5,544.8 534.0,546.0C534.5,547.2 534.2,550.6 533.4,552.2C532.6,553.9 530.2,556.2 529.6,554.8C529.0,553.3 530.3,547.1 530.9,546.0Z" fill="#e48066"/>
<path d="M516.5,556.0C517.4,554.2 519.9,553.4 521.5,554.8C523.1,556.1 524.2,559.8 525.2,563.5C526.3,567.2 527.5,573.0 527.8,576.0C528.0,579.0 529.6,581.8 527.1,583.5C524.6,585.2 518.7,586.1 516.5,583.5C514.3,580.9 517.6,575.8 517.8,572.2C517.9,568.7 517.4,566.5 517.1,563.5C516.9,560.5 515.6,557.8 516.5,556.0Z" fill="#e48066"/>
<path d="M595.9,547.9C596.0,547.3 596.9,546.7 597.1,547.2C597.3,547.8 597.9,552.7 597.8,553.5C597.6,554.3 596.1,554.9 595.9,554.1C595.6,553.4 595.8,548.4 595.9,547.9Z" fill="#e48066"/>
<path d="M602.8,535.4C603.3,534.5 605.5,533.8 606.5,534.1C607.5,534.4 607.7,535.8 607.1,536.6C606.6,537.5 605.0,538.2 604.0,537.9C603.0,537.6 602.2,536.2 602.8,535.4Z" fill="#e48066"/>
<path d="M565.2,442.9C565.8,442.4 567.8,442.7 569.0,443.5C570.2,444.3 571.5,446.2 570.9,446.6C570.3,447.1 567.4,446.0 566.5,445.4C565.6,444.8 564.7,443.3 565.2,442.9Z" fill="#e48066"/>
<path d="M758.2,426.0C758.5,424.7 760.1,423.5 761.4,424.1C762.7,424.7 764.2,427.2 763.9,428.5C763.6,429.8 761.4,430.3 760.1,429.8C758.8,429.2 758.0,427.3 758.2,426.0Z" fill="#f8bfa4"/>
<path d="M765.8,434.8C765.9,433.5 766.8,431.7 767.6,432.2C768.5,432.8 769.6,436.0 769.5,437.2C769.4,438.5 767.9,439.7 767.0,439.1C766.1,438.5 765.6,436.0 765.8,434.8Z" fill="#f8bfa4"/>
<path d="M772.0,503.5C772.5,502.7 774.2,502.3 774.8,502.9C775.3,503.5 774.9,505.4 774.5,506.0C774.1,506.6 773.2,506.8 772.6,506.2C772.1,505.7 771.5,504.3 772.0,503.5Z" fill="#f8bfa4"/>
<path d="M811.4,441.0C811.5,440.3 813.9,440.3 814.5,441.0C815.1,441.7 814.6,444.1 813.9,444.1C813.1,444.1 811.2,441.7 811.4,441.0Z" fill="#f8bfa4"/>
<path d="M690.8,432.9C692.8,431.4 694.6,431.4 697.0,432.2C699.4,433.1 701.5,434.5 703.2,437.2C705.0,440.0 705.4,442.4 705.8,446.0C706.1,449.6 705.8,452.8 705.1,456.0C704.4,459.2 703.5,461.1 702.0,463.5C700.5,465.9 698.8,467.2 697.0,468.5C695.2,469.8 694.2,471.4 692.0,471.0C689.8,470.6 686.1,469.1 684.5,466.0C682.9,462.9 684.5,460.7 685.1,457.2C685.7,453.8 687.0,450.7 687.6,447.2C688.2,443.8 687.7,440.9 688.2,438.5C688.8,436.1 688.7,434.3 690.8,432.9Z" fill="#e48066"/>
<path d="M671.4,466.0C672.0,460.7 681.4,467.8 684.5,468.5C687.6,469.2 689.9,468.6 692.0,471.0C694.1,473.4 696.8,482.7 698.9,485.4C701.0,488.0 704.3,489.4 706.4,489.1C708.4,488.8 707.8,486.2 707.6,484.1C707.5,482.1 705.1,480.4 705.5,478.5C705.9,476.6 707.6,475.8 709.5,475.8C711.4,475.8 714.1,476.2 714.8,478.5C715.4,480.8 713.0,484.6 712.2,486.0C711.5,487.4 709.3,487.2 709.5,488.8C709.7,490.3 713.0,492.3 713.5,494.1C714.0,496.0 713.7,497.4 712.2,498.8C710.8,500.1 708.0,502.8 704.8,502.2C701.5,501.7 699.4,497.4 697.6,496.2C695.8,495.1 693.8,492.8 692.6,494.5C691.5,496.2 691.3,500.6 692.6,503.5C693.9,506.4 697.0,507.3 698.9,508.5C700.7,509.7 701.7,511.5 703.9,511.0C706.1,510.5 707.5,507.1 709.5,506.0C711.5,504.9 713.1,505.9 715.1,504.8C717.1,503.6 718.3,500.4 720.1,500.0C722.0,499.6 723.7,501.0 723.9,502.9C724.1,504.8 720.7,509.1 721.4,511.6C722.0,514.1 725.1,513.1 727.0,514.8C728.9,516.4 729.7,517.5 730.8,519.8C731.8,522.0 732.1,523.4 732.2,526.0C732.4,528.6 732.8,531.8 731.8,534.8C730.7,537.7 728.0,538.0 727.0,541.0C726.0,544.0 726.0,551.9 725.8,553.5C725.5,555.1 724.2,555.7 724.5,557.2C724.8,558.8 725.9,562.9 727.6,563.5C729.4,564.1 730.7,561.6 732.0,559.8C733.3,557.9 733.8,556.1 734.5,553.5C735.2,550.9 734.7,546.6 735.8,544.8C736.8,542.9 739.0,542.0 740.8,542.9C742.5,543.8 742.4,546.2 743.2,548.5C744.1,550.8 745.3,555.6 747.0,559.8C748.7,563.9 749.5,566.3 752.0,569.8C754.5,573.2 757.7,575.0 759.5,577.2C761.3,579.5 766.2,583.3 763.2,583.5C760.3,583.7 692.8,610.9 671.4,583.5C649.9,556.1 670.8,471.3 671.4,466.0Z" fill="#e48066"/>
<path d="M505.2,710.8C505.2,709.0 507.4,707.5 509.0,707.6C510.6,707.8 512.1,709.6 512.1,711.4C512.1,713.1 510.6,715.3 509.0,715.1C507.4,715.0 505.2,712.5 505.2,710.8Z" fill="#f8bfa4"/>
<path d="M520.2,728.2C520.2,726.8 521.4,725.6 522.8,725.8C524.1,725.9 525.9,727.4 525.9,728.9C525.9,730.3 524.1,732.1 522.8,732.0C521.4,731.9 520.2,729.7 520.2,728.2Z" fill="#f8bfa4"/>
<path d="M509.0,581.4C511.3,579.5 515.3,579.9 519.0,581.4C522.7,582.9 526.4,585.6 529.0,589.5C531.6,593.4 531.2,598.1 532.1,600.8C533.1,603.4 533.1,605.2 535.2,607.0C537.4,608.8 545.2,609.3 545.2,611.4C545.2,613.4 538.0,614.2 535.2,615.8C532.5,617.3 531.4,619.1 529.0,620.8C526.6,622.4 524.4,623.1 522.8,624.5C521.1,625.9 521.1,630.0 519.6,628.9C518.2,627.7 516.8,622.0 516.5,619.5C516.2,617.0 517.8,615.8 517.8,613.2C517.8,610.7 517.7,606.6 516.5,603.2C515.3,599.9 512.8,598.1 511.5,595.8C510.2,593.4 509.5,592.2 509.0,589.5C508.5,586.8 506.7,583.3 509.0,581.4Z" fill="#e48066"/>
<path d="M560.2,581.4C563.9,579.2 574.2,578.9 577.8,581.4C581.2,583.9 575.5,587.6 575.2,592.0C575.0,596.4 575.2,602.9 576.5,607.0C577.8,611.1 581.3,613.0 582.8,615.8C584.2,618.5 585.0,620.2 585.2,623.2C585.5,626.3 585.5,629.3 584.0,630.8C582.5,632.2 580.8,630.6 579.0,629.5C577.2,628.4 574.0,626.2 571.5,623.2C569.0,620.2 568.1,618.2 566.5,614.5C564.9,610.8 564.0,607.7 562.8,603.2C561.5,598.8 560.7,596.2 560.2,592.0C559.8,587.8 556.6,583.6 560.2,581.4Z" fill="#e48066"/>
<path d="M530.2,622.0C532.7,621.4 537.1,622.3 541.5,623.2C545.9,624.2 549.8,624.9 552.8,627.0C555.7,629.1 557.5,630.9 557.8,634.5C558.0,638.1 554.5,640.5 554.0,644.5C553.5,648.5 556.6,651.4 555.2,654.5C553.9,657.6 550.5,656.4 547.8,658.2C545.0,660.1 542.1,661.1 540.2,664.5C538.4,667.9 538.6,673.5 537.8,677.0C536.9,680.5 533.8,684.0 535.2,685.8C536.7,687.5 540.5,684.5 544.0,684.5C547.5,684.5 551.4,683.4 554.0,685.8C556.6,688.1 554.8,691.0 555.2,694.5C555.7,698.0 557.2,702.1 556.5,704.5C555.8,706.9 553.1,706.4 551.5,708.2C549.9,710.1 547.2,711.9 547.8,714.5C548.3,717.1 551.5,717.5 554.0,719.5C556.5,721.5 559.5,723.6 561.5,725.8C563.5,727.9 564.7,729.1 565.2,732.0C565.8,734.9 564.4,736.5 564.0,739.5C563.6,742.5 565.7,747.2 562.8,749.5C559.8,751.8 555.2,752.1 551.5,749.5C547.8,746.9 547.2,741.0 545.2,737.0C543.2,733.0 542.5,730.7 540.2,727.0C538.0,723.3 535.9,721.6 534.0,718.2C532.1,714.9 532.2,712.4 530.2,709.5C528.3,706.6 524.6,706.1 524.0,703.2C523.4,700.4 526.8,699.7 527.8,697.0C528.7,694.3 529.6,692.5 529.0,689.5C528.4,686.5 524.1,683.0 524.0,679.5C523.9,676.0 527.5,675.4 528.4,672.0C529.2,668.6 528.3,662.8 529.0,659.5C529.7,656.2 531.0,654.7 532.8,652.0C534.5,649.3 537.3,647.9 537.8,645.8C538.2,643.6 537.0,642.1 535.2,640.8C533.5,639.4 528.3,638.4 526.5,637.0C524.7,635.6 524.0,634.2 524.0,632.0C524.0,629.8 525.3,628.9 526.5,627.0C527.7,625.1 527.8,622.6 530.2,622.0Z" fill="#e48066"/>
<path d="M546.5,669.5C546.5,668.3 548.2,667.5 549.6,667.6C551.1,667.8 552.8,669.0 552.8,670.1C552.8,671.3 551.1,672.8 549.6,672.6C548.2,672.5 546.5,670.7 546.5,669.5Z" fill="#e48066"/>
<path d="M557.8,687.0C559.1,685.4 562.7,684.2 564.0,686.4C565.3,688.5 564.5,695.5 564.0,697.0C563.5,698.5 561.6,699.1 560.2,698.2C558.9,697.4 558.8,695.3 558.4,693.2C557.9,691.2 556.4,688.6 557.8,687.0Z" fill="#e48066"/>
<path d="M504.0,685.1C505.0,684.9 515.7,685.0 516.5,685.1C517.3,685.2 517.9,686.8 517.1,687.0C516.3,687.2 505.0,687.8 504.0,687.6C503.0,687.5 503.0,685.3 504.0,685.1Z" fill="#e48066"/>
<path d="M601.5,684.5C601.6,683.5 603.2,683.2 604.0,683.9C604.8,684.5 606.0,687.0 605.9,688.2C605.8,689.5 604.3,690.9 603.4,690.1C602.4,689.3 601.4,685.5 601.5,684.5Z" fill="#e48066"/>
<path d="M607.1,694.5C607.1,693.6 608.5,692.5 609.0,693.2C609.5,694.0 610.9,698.4 610.9,699.5C610.9,700.6 609.6,702.2 609.0,701.4C608.4,700.5 607.1,695.4 607.1,694.5Z" fill="#e48066"/>
<path d="M594.0,732.0C594.9,731.1 597.3,732.2 599.0,733.2C600.7,734.3 601.7,737.2 604.0,738.2C606.3,739.3 609.4,737.1 610.2,738.2C611.1,739.4 609.8,742.4 607.8,743.2C605.7,744.1 603.8,743.1 601.5,742.0C599.2,740.9 596.5,738.6 595.2,737.0C594.0,735.4 593.1,732.9 594.0,732.0Z" fill="#e48066"/>
<path d="M612.8,744.5C613.5,743.6 615.5,744.6 616.5,745.8C617.5,746.9 617.9,748.6 617.1,749.5C616.4,750.4 614.4,750.6 613.4,749.5C612.4,748.4 612.0,745.4 612.8,744.5Z" fill="#e48066"/>
<path d="M656.5,589.5C657.0,585.9 658.1,583.1 661.5,581.4C664.9,579.7 671.6,577.0 672.8,581.4C673.9,585.7 673.3,620.1 672.8,623.2C672.2,626.4 668.3,620.9 666.5,618.2C664.7,615.6 662.8,610.4 661.5,607.0C660.2,603.6 660.0,601.8 659.0,598.2C658.0,594.8 656.0,593.1 656.5,589.5Z" fill="#e48066"/>
<path d="M640.2,672.0C641.6,670.2 645.1,667.0 647.8,663.2C650.4,659.5 652.3,654.7 654.0,652.0C655.7,649.3 656.9,647.5 659.0,645.8C661.1,644.0 662.6,643.4 665.2,642.6C667.9,641.9 672.2,639.0 672.8,642.0C673.3,645.0 680.8,672.7 672.8,682.0C664.7,691.3 640.4,682.3 638.4,682.0C636.4,681.7 637.4,679.0 637.8,677.0C638.1,675.0 638.9,673.8 640.2,672.0Z" fill="#e48066"/>
<path d="M629.0,707.0C630.5,704.4 634.3,701.9 636.5,699.5C638.7,697.1 638.7,694.8 641.5,693.2C644.3,691.7 652.0,690.8 654.0,689.5C656.0,688.2 653.6,684.6 655.9,683.9C658.1,683.2 670.9,677.4 672.8,683.9C674.6,690.4 673.0,740.7 672.8,743.2C672.5,745.8 668.8,743.1 666.5,742.0C664.2,740.9 661.3,736.0 657.8,735.8C654.2,735.5 653.5,739.2 650.2,740.8C647.0,742.3 645.1,743.8 641.5,743.2C637.9,742.7 635.9,741.3 634.0,738.2C632.1,735.2 631.4,730.2 630.2,725.8C629.1,721.3 628.0,717.5 627.8,714.5C627.5,711.5 627.5,709.6 629.0,707.0Z" fill="#e48066"/>
<path d="M671.4,581.4C687.7,550.2 756.1,581.1 759.5,581.4C762.9,581.7 761.1,586.2 762.0,589.5C762.9,592.8 763.9,597.0 765.1,602.0C766.4,607.0 767.4,609.6 768.2,614.5C769.1,619.4 769.0,622.5 769.5,627.0C770.0,631.5 771.5,634.7 770.8,638.2C770.0,641.8 767.2,643.7 765.8,645.8C764.3,647.8 762.4,648.3 762.0,650.8C761.6,653.2 763.8,654.4 763.9,657.0C764.0,659.6 764.0,702.9 763.9,707.0C763.7,711.1 764.5,714.7 762.0,717.0C759.5,719.3 755.8,717.3 753.2,717.0C750.7,716.7 749.3,714.9 747.0,715.1C744.7,715.4 744.2,717.3 742.0,718.2C739.8,719.2 737.7,720.8 734.5,720.8C731.3,720.8 729.6,720.1 727.0,718.2C724.4,716.4 723.2,713.9 722.0,712.0C720.8,710.1 721.1,708.2 719.5,707.0C717.9,705.8 716.2,705.4 714.5,706.4C712.8,707.4 711.8,709.5 710.8,712.0C709.7,714.5 709.4,717.5 708.9,719.5C708.4,721.5 709.5,723.9 707.6,724.5C705.7,725.1 703.4,723.2 700.8,722.0C698.1,720.8 695.8,719.6 693.2,718.2C690.7,716.9 688.2,713.3 687.0,714.5C685.8,715.7 687.5,719.8 688.2,723.2C689.0,726.7 689.5,728.6 690.8,732.0C692.0,735.4 693.0,737.2 694.5,740.8C696.0,744.2 701.8,748.2 698.2,749.5C694.7,750.8 673.1,760.1 671.4,749.5C669.7,738.9 655.0,612.6 671.4,581.4Z" fill="#e48066"/>
<path d="M762.0,655.8C762.7,653.4 765.2,651.7 767.0,652.0C768.8,652.3 768.9,654.9 769.5,657.0C770.1,659.1 769.6,661.7 770.8,664.5C771.9,667.3 774.8,668.5 775.8,672.0C776.7,675.5 776.1,678.4 775.8,682.0C775.4,685.6 774.8,687.6 773.9,690.8C772.9,693.9 772.1,695.3 770.8,698.2C769.4,701.2 767.8,704.7 767.0,705.8C766.2,706.8 764.0,708.3 763.9,707.0C763.8,705.7 764.0,664.6 763.9,662.0C763.8,659.4 761.3,658.1 762.0,655.8Z" fill="#e48066"/>
<path d="M529.0,763.0C529.0,759.2 531.9,757.5 535.2,755.5C538.6,753.5 543.8,751.3 545.2,753.6C546.7,756.0 543.2,762.4 541.5,765.5C539.8,768.6 538.2,772.3 535.2,771.8C532.3,771.2 529.0,766.8 529.0,763.0Z" fill="#e48066"/>
<path d="M551.5,747.4C553.9,746.1 561.1,746.5 564.0,747.4C566.9,748.3 566.7,753.0 569.0,753.0C571.3,753.0 571.5,748.2 574.0,747.4C576.5,746.5 578.5,747.3 580.2,749.2C582.0,751.2 583.9,755.8 584.6,759.2C585.3,762.7 584.5,765.8 584.0,768.0C583.5,770.2 583.2,773.0 581.5,773.0C579.8,773.0 578.4,770.1 576.5,768.0C574.6,765.9 572.8,763.0 571.5,761.8C570.2,760.5 569.2,758.7 567.8,759.2C566.3,759.8 565.0,762.0 565.2,764.2C565.5,766.5 568.2,769.3 569.0,770.5C569.8,771.7 571.3,771.6 571.5,773.0C571.7,774.4 572.5,778.5 570.2,780.5C568.0,782.5 564.1,783.5 561.5,781.8C558.9,780.0 560.4,776.4 559.0,773.0C557.6,769.6 555.5,766.4 554.0,763.0C552.5,759.6 551.3,757.0 550.9,754.2C550.4,751.5 549.1,748.7 551.5,747.4Z" fill="#e48066"/>
<path d="M573.4,788.0C573.7,787.1 574.9,785.8 575.9,786.1C576.9,786.4 578.0,788.4 577.8,789.2C577.5,790.1 575.5,790.1 574.6,789.9C573.8,789.6 573.1,788.9 573.4,788.0Z" fill="#e48066"/>
<path d="M538.4,821.1C538.5,819.5 540.2,817.9 541.5,818.0C542.8,818.1 544.1,820.1 544.0,821.8C543.9,823.4 542.2,825.0 540.9,824.9C539.6,824.7 538.2,822.7 538.4,821.1Z" fill="#e48066"/>
<path d="M503.4,834.2C504.7,833.5 508.6,836.4 509.0,838.0C509.4,839.6 505.9,840.8 505.2,841.1C504.6,841.5 503.6,841.8 503.4,841.1C503.2,840.4 502.1,835.0 503.4,834.2Z" fill="#e48066"/>
<path d="M615.9,763.0C615.6,759.6 618.4,757.3 621.5,756.8C624.6,756.2 626.0,759.1 629.0,760.5C632.0,761.9 639.5,764.2 642.8,766.8C646.0,769.3 647.2,772.2 648.4,775.5C649.6,778.8 649.6,781.4 649.0,784.2C648.4,787.1 646.4,787.8 645.2,790.5C644.1,793.2 642.8,795.0 643.4,798.0C643.9,801.0 645.9,801.8 647.8,804.2C649.6,806.7 651.7,808.7 652.8,810.5C653.8,812.3 655.1,813.7 654.0,815.5C652.9,817.3 650.1,819.2 647.8,818.6C645.4,818.0 645.6,815.2 644.0,813.0C642.4,810.8 640.9,808.9 639.0,806.8C637.1,804.6 635.3,804.3 634.0,801.8C632.7,799.2 632.7,795.4 631.5,791.8C630.3,788.1 629.4,786.5 627.8,783.0C626.1,779.5 625.0,776.8 622.8,773.0C620.5,769.2 616.1,766.4 615.9,763.0Z" fill="#e48066"/>
<path d="M650.9,805.5C651.5,804.5 654.1,803.7 655.2,804.2C656.4,804.8 656.5,807.0 655.9,808.0C655.3,809.0 653.9,809.2 652.8,808.6C651.6,808.1 650.3,806.5 650.9,805.5Z" fill="#e48066"/>
<path d="M658.4,814.2C658.7,813.3 660.0,812.1 660.9,812.4C661.8,812.7 662.4,814.5 662.1,815.5C661.8,816.5 660.5,816.8 659.6,816.5C658.8,816.2 658.1,815.2 658.4,814.2Z" fill="#e48066"/>
<path d="M652.8,829.2C653.0,827.6 653.2,824.9 654.6,825.5C656.1,826.1 657.3,829.2 659.0,831.8C660.7,834.3 663.0,835.9 664.0,839.2C665.0,842.6 664.7,846.6 664.0,848.0C663.3,849.4 661.2,848.0 660.2,846.8C659.3,845.5 656.7,839.6 655.9,838.0C655.0,836.4 654.0,835.9 653.4,834.2C652.8,832.6 652.5,830.9 652.8,829.2Z" fill="#e48066"/>
<path d="M665.9,823.0C666.0,822.1 667.5,820.9 667.8,821.8C668.0,822.6 668.5,829.6 668.4,830.5C668.2,831.4 666.5,832.0 666.2,831.1C666.0,830.3 665.7,823.9 665.9,823.0Z" fill="#e48066"/>
<path d="M667.8,848.0C668.2,845.8 671.6,839.0 672.8,840.5C673.9,842.0 673.0,853.2 672.8,854.2C672.5,855.3 670.9,853.9 670.2,853.0C669.6,852.1 667.3,850.2 667.8,848.0Z" fill="#e48066"/>
<path d="M613.4,747.4C613.8,746.6 616.7,746.6 617.1,747.4C617.6,748.1 616.1,750.5 615.2,750.5C614.4,750.5 612.9,748.1 613.4,747.4Z" fill="#e48066"/>
<path d="M608.4,754.2C608.7,753.9 609.3,753.9 609.6,754.2C609.9,754.6 609.9,755.4 609.6,755.8C609.3,756.1 608.7,756.1 608.4,755.8C608.1,755.4 608.1,754.6 608.4,754.2Z" fill="#e48066"/>
<path d="M666.5,747.4C667.4,746.8 671.8,747.0 672.8,747.4C673.7,747.7 673.6,749.3 672.8,749.9C671.9,750.4 670.3,750.4 669.0,749.9C667.7,749.3 665.6,748.0 666.5,747.4Z" fill="#e48066"/>
<path d="M503.4,903.0C504.5,902.6 508.4,904.0 508.4,904.9C508.4,905.8 504.5,907.2 503.4,906.8C502.2,906.3 502.2,903.4 503.4,903.0Z" fill="#e48066"/>
<path d="M671.4,747.4C673.6,747.0 698.0,747.0 700.8,747.4C703.5,747.7 697.2,749.8 694.5,750.5C691.8,751.2 688.0,751.2 684.5,751.8C681.0,752.3 677.5,753.5 675.8,753.6C674.0,753.8 672.4,754.4 671.4,753.0C670.4,751.6 669.2,747.8 671.4,747.4Z" fill="#e48066"/>
<path d="M702.0,747.4C703.8,744.9 707.7,745.6 710.8,747.4C713.8,749.2 713.9,752.2 715.8,755.5C717.6,758.8 718.7,762.6 720.8,765.5C722.8,768.4 725.2,768.7 727.0,771.8C728.8,774.8 729.2,777.5 729.5,780.5C729.8,783.5 728.1,785.1 728.9,788.0C729.7,790.9 730.7,792.6 733.2,794.2C735.8,795.9 738.7,793.9 740.8,795.5C742.8,797.1 742.3,799.2 742.6,801.8C743.0,804.3 743.5,811.6 743.2,814.2C743.0,816.9 743.1,819.1 740.8,820.5C738.4,821.9 732.4,821.8 730.8,821.8C729.1,821.7 728.6,820.0 727.0,819.9C725.4,819.7 724.8,821.5 723.2,821.1C721.7,820.7 720.6,819.6 719.5,818.0C718.4,816.4 717.6,813.9 717.0,811.8C716.4,809.6 715.7,808.3 716.4,806.1C717.1,804.0 719.1,802.6 720.8,800.5C722.4,798.4 724.1,797.8 725.1,795.5C726.1,793.2 726.2,791.7 725.8,789.2C725.3,786.8 724.4,784.2 722.6,781.8C720.9,779.3 719.1,778.7 717.0,776.8C714.9,774.8 713.9,773.9 712.0,771.8C710.1,769.6 708.7,768.2 707.0,765.5C705.3,762.8 704.1,761.2 703.2,758.0C702.4,754.8 700.2,749.9 702.0,747.4Z" fill="#e48066"/>
<path d="M726.4,821.8C726.6,820.8 728.6,820.8 728.9,821.8C729.1,822.7 729.1,830.8 728.9,831.8C728.7,832.7 726.9,833.3 726.6,832.4C726.4,831.5 726.2,822.7 726.4,821.8Z" fill="#e48066"/>
<path d="M738.9,829.9C739.8,828.4 742.7,828.3 743.9,828.0C745.1,827.7 746.5,826.8 747.0,828.0C747.5,829.2 748.1,833.8 747.0,835.5C745.9,837.2 743.0,836.3 742.0,836.1C741.0,835.9 740.6,835.2 740.1,834.2C739.7,833.3 738.0,831.3 738.9,829.9Z" fill="#e48066"/>
<path d="M671.4,839.2C672.7,836.9 675.8,842.9 677.0,844.2C678.2,845.6 678.8,846.6 679.5,848.0C680.2,849.4 681.6,850.4 680.8,851.8C679.9,853.1 675.8,855.2 674.5,855.5C673.2,855.8 671.6,855.6 671.4,854.2C671.1,852.9 670.1,841.6 671.4,839.2Z" fill="#e48066"/>
<path d="M673.2,889.2C674.1,887.8 677.2,887.1 679.5,888.0C681.8,888.9 681.5,891.2 683.2,893.0C685.0,894.8 685.9,896.0 688.2,896.8C690.6,897.5 693.5,896.4 694.5,896.8C695.5,897.1 695.5,898.3 695.1,899.2C694.7,900.2 692.0,904.0 690.8,905.5C689.5,907.0 688.8,909.2 687.0,908.6C685.2,908.0 684.5,904.3 683.2,903.0C682.0,901.7 680.7,901.9 679.5,900.5C678.3,899.1 676.8,896.2 675.8,894.2C674.7,892.3 672.4,890.7 673.2,889.2Z" fill="#e48066"/>
<path d="M679.5,913.0C679.9,912.6 680.9,912.6 681.4,913.0C681.8,913.4 681.8,914.4 681.4,914.9C680.9,915.3 679.9,915.3 679.5,914.9C679.1,914.4 679.1,913.4 679.5,913.0Z" fill="#e48066"/>
<path d="M520.9,923.8C521.7,920.3 524.2,917.2 526.5,916.9C528.8,916.6 529.9,920.2 530.9,922.5C531.8,924.8 531.7,926.6 531.5,928.8C531.3,930.9 530.7,932.1 529.6,933.8C528.5,935.4 527.5,937.2 525.9,936.9C524.3,936.6 523.5,934.5 522.8,932.5C522.0,930.5 520.0,927.2 520.9,923.8Z" fill="#e48066"/>
<path d="M503.4,904.4C504.3,904.1 507.8,905.0 507.8,905.6C507.8,906.2 504.3,907.1 503.4,906.9C502.4,906.6 502.4,904.6 503.4,904.4Z" fill="#e48066"/>
<path d="M719.5,943.8C721.2,941.2 725.0,940.1 727.0,941.9C729.0,943.6 727.9,947.8 728.2,951.2C728.6,954.7 728.0,957.9 728.9,960.0C729.7,962.1 732.2,962.0 733.2,963.8C734.2,965.5 734.2,966.8 733.9,968.8C733.5,970.7 732.2,972.4 731.4,975.0C730.6,977.6 729.9,979.4 729.5,982.5C729.1,985.6 729.4,988.5 728.9,992.5C728.4,996.5 728.4,999.4 727.0,1002.5C725.6,1005.6 722.3,1007.4 721.4,1008.8C720.5,1010.1 721.6,1011.8 720.1,1012.5C718.7,1013.2 715.0,1013.6 713.2,1012.5C711.5,1011.4 711.3,1009.4 712.0,1007.5C712.7,1005.6 715.3,1004.8 717.0,1002.5C718.7,1000.2 721.3,997.7 722.0,993.8C722.7,989.8 720.0,987.4 720.1,983.8C720.2,980.1 722.6,977.7 722.6,975.0C722.6,972.3 722.3,968.8 720.1,968.8C717.9,968.8 716.0,975.4 713.2,975.0C710.5,974.6 708.0,970.1 708.2,966.9C708.5,963.7 712.6,963.5 714.5,961.2C716.4,959.0 717.4,957.8 718.2,955.0C719.1,952.2 717.8,946.3 719.5,943.8Z" fill="#e48066"/>
<path d="M677.6,914.4C677.8,913.3 679.1,912.5 680.1,912.8C681.1,913.0 682.1,914.6 682.0,915.6C681.9,916.7 680.5,917.5 679.5,917.2C678.5,917.0 677.5,915.4 677.6,914.4Z" fill="#e48066"/>
<path d="M1040.5,346.2C1040.9,344.7 1043.3,343.8 1044.2,345.0C1045.2,346.2 1045.9,350.8 1045.5,352.5C1045.1,354.2 1042.9,356.4 1041.8,355.0C1040.6,353.6 1040.1,347.8 1040.5,346.2Z" fill="#f8bfa4"/>
<path d="M1035.5,357.5C1035.8,356.0 1039.6,355.1 1040.5,356.2C1041.4,357.4 1040.4,362.2 1039.2,362.5C1038.1,362.8 1035.2,359.0 1035.5,357.5Z" fill="#f8bfa4"/>
<path d="M946.0,561.8C946.3,558.0 951.4,556.5 954.8,555.5C958.1,554.5 960.6,554.7 963.5,556.8C966.4,558.8 971.3,565.5 972.2,568.0C973.2,570.5 971.9,572.7 969.8,574.2C967.6,575.8 964.4,576.5 961.0,576.0C957.6,575.5 956.0,574.1 953.5,571.8C951.0,569.4 945.7,565.5 946.0,561.8Z" fill="#e48066"/>
<path d="M1041.8,761.0C1042.9,759.7 1046.5,758.6 1048.0,759.8C1049.5,760.9 1049.2,764.7 1048.0,766.0C1046.8,767.3 1044.5,766.7 1043.0,765.5C1041.5,764.3 1040.6,762.3 1041.8,761.0Z" fill="#f8bfa4"/>
<path d="M1011.0,801.0C1012.6,799.8 1017.4,799.6 1019.2,800.5C1021.1,801.4 1022.2,804.3 1020.5,805.5C1018.8,806.7 1013.6,806.9 1011.8,806.0C1009.9,805.1 1009.4,802.2 1011.0,801.0Z" fill="#f8bfa4"/>
<path d="M1104.2,793.5C1105.9,788.4 1108.6,786.5 1113.0,783.5C1117.4,780.5 1122.1,780.0 1128.0,777.2C1133.9,774.5 1137.2,771.9 1143.0,769.8C1148.8,767.6 1153.9,766.2 1158.0,766.0C1162.1,765.8 1165.1,766.1 1168.0,768.5C1170.9,770.9 1168.8,776.1 1171.8,777.2C1174.7,778.4 1177.1,773.5 1180.5,773.5C1183.9,773.5 1184.7,777.5 1188.0,777.2C1191.3,777.0 1193.6,772.9 1198.0,772.2C1202.4,771.6 1208.7,771.9 1213.0,773.5C1217.3,775.1 1220.6,776.5 1221.8,781.0C1222.9,785.5 1218.9,795.3 1219.2,798.5C1219.6,801.7 1223.7,801.6 1224.2,804.8C1224.8,807.9 1227.4,838.2 1226.8,843.5C1226.1,848.8 1221.4,851.0 1218.0,853.5C1214.6,856.0 1212.3,857.2 1208.0,857.2C1203.7,857.2 1202.3,853.7 1198.0,853.5C1193.7,853.3 1188.7,852.5 1185.5,856.0C1182.3,859.5 1185.1,866.6 1184.2,868.5C1183.4,870.4 1180.9,871.0 1179.2,869.8C1177.6,868.5 1173.8,861.2 1170.5,858.5C1167.2,855.8 1164.8,854.8 1160.5,854.8C1156.2,854.8 1152.7,857.9 1149.2,858.5C1145.8,859.1 1143.5,860.2 1140.5,858.5C1137.5,856.8 1134.3,850.7 1131.8,848.5C1129.2,846.3 1126.2,847.5 1124.2,844.8C1122.3,842.0 1121.1,834.5 1119.2,831.0C1117.4,827.5 1115.3,826.6 1113.0,823.5C1110.7,820.4 1106.0,816.9 1104.2,811.0C1102.5,805.1 1102.6,798.6 1104.2,793.5Z" fill="#e48066"/>
<path d="M846.0,844.8C846.5,843.2 848.6,842.4 849.8,843.5C850.9,844.6 851.5,848.2 851.0,849.8C850.5,851.2 848.4,852.1 847.2,851.0C846.1,849.9 845.5,846.2 846.0,844.8Z" fill="#f8bfa4"/>
<path d="M852.2,853.0C852.7,851.7 854.6,851.2 855.5,852.2C856.4,853.3 856.9,856.8 856.5,858.0C856.1,859.2 854.3,859.4 853.5,858.5C852.7,857.6 851.8,854.3 852.2,853.0Z" fill="#f8bfa4"/>
<path d="M991.0,896.0C991.1,894.2 993.1,893.0 994.8,893.5C996.4,894.0 998.1,896.1 998.0,898.0C997.9,899.9 995.9,902.0 994.2,901.5C992.6,901.0 990.9,897.8 991.0,896.0Z" fill="#f8bfa4"/>
<path d="M951.5,896.0C952.0,894.4 954.5,893.8 955.5,895.0C956.5,896.2 956.4,899.6 956.0,901.0C955.6,902.4 954.0,904.1 953.0,903.0C952.0,901.9 951.0,897.6 951.5,896.0Z" fill="#f8bfa4"/>
<path d="M1011.5,802.2C1011.5,800.6 1014.0,799.5 1016.0,799.8C1018.0,800.0 1020.5,801.9 1020.5,803.5C1020.5,805.1 1018.1,807.0 1016.0,806.8C1013.9,806.5 1011.5,803.9 1011.5,802.2Z" fill="#f8bfa4"/>
<path d="M839.8,1006.0C841.3,1003.4 844.4,1004.9 847.2,1006.0C850.1,1007.1 852.9,1009.9 856.0,1012.2C859.1,1014.6 867.1,1017.1 863.5,1018.5C859.9,1019.9 844.2,1020.8 839.8,1018.5C835.3,1016.2 838.2,1008.6 839.8,1006.0Z" fill="#e48066"/>
<path d="M495.8,512.5C497.1,509.3 501.9,509.3 504.0,508.8C506.1,508.2 509.1,506.6 509.5,508.8C509.9,510.9 509.8,540.5 509.5,542.5C509.2,544.5 505.9,543.9 504.5,542.5C503.1,541.1 500.7,536.3 499.5,532.5C498.3,528.7 499.0,526.5 498.2,522.5C497.5,518.5 494.4,515.7 495.8,512.5Z" fill="#e48066"/>
<path d="M463.2,533.8C463.8,532.1 468.2,530.0 472.0,530.0C475.8,530.0 485.6,533.0 487.0,533.8C488.4,534.5 487.3,537.2 485.8,537.5C484.2,537.8 472.3,537.5 469.5,537.0C466.7,536.5 462.7,535.4 463.2,533.8Z" fill="#e48066"/>
<path d="M447.0,517.5C447.3,516.4 449.1,515.2 449.5,516.2C449.9,517.3 449.7,522.9 449.5,523.8C449.3,524.6 447.8,525.3 447.5,524.5C447.2,523.7 446.7,518.6 447.0,517.5Z" fill="#e48066"/>
<path d="M448.2,525.0C449.3,524.5 454.6,524.1 455.8,524.5C456.9,524.9 456.8,527.0 455.8,527.5C454.7,528.0 450.6,527.9 449.5,527.5C448.4,527.1 447.2,525.5 448.2,525.0Z" fill="#e48066"/>
<path d="M459.5,457.5C460.9,456.0 464.6,454.7 468.2,454.5C471.9,454.3 477.5,455.5 479.5,456.2C481.5,457.0 483.9,458.0 483.2,460.0C482.6,462.0 479.0,467.3 475.8,468.8C472.5,470.2 470.0,468.7 467.0,467.5C464.0,466.3 462.0,464.1 460.8,462.5C459.5,460.9 458.1,459.0 459.5,457.5Z" fill="#e48066"/>
<path d="M409.5,440.0C410.1,437.7 413.8,437.3 417.0,437.5C420.2,437.7 430.6,438.8 433.2,441.2C435.9,443.7 433.4,447.7 430.8,450.0C428.1,452.3 425.3,451.8 422.0,451.2C418.7,450.7 417.0,449.7 414.5,447.5C412.0,445.3 408.9,442.3 409.5,440.0Z" fill="#e48066"/>
<path d="M382.0,483.8C382.3,481.1 385.8,480.2 388.2,481.2C390.7,482.3 399.8,488.6 399.5,491.2C399.2,493.9 390.7,494.1 387.0,492.5C383.3,490.9 381.7,486.4 382.0,483.8Z" fill="#e48066"/>
<path d="M408.2,466.2C409.4,464.8 413.3,463.5 414.5,465.0C415.7,466.5 414.2,471.3 413.2,472.5C412.3,473.7 410.5,472.5 409.5,471.2C408.5,470.0 407.1,467.7 408.2,466.2Z" fill="#e48066"/>
<path d="M408.2,478.8C409.2,477.5 411.2,476.1 412.0,477.5C412.8,478.9 413.1,483.5 412.0,485.0C410.9,486.5 408.4,485.2 407.5,483.8C406.6,482.3 407.3,480.0 408.2,478.8Z" fill="#e48066"/>
<path d="M472.0,558.8C472.6,555.5 477.9,555.5 482.0,556.2C486.1,557.0 488.5,559.3 492.0,562.5C495.5,565.7 497.5,567.9 499.5,572.5C501.5,577.1 503.8,581.5 502.0,585.0C500.2,588.5 496.0,588.6 492.0,587.5C488.0,586.4 487.0,583.5 484.5,580.0C482.0,576.5 481.8,573.9 479.5,570.0C477.2,566.1 471.4,562.0 472.0,558.8Z" fill="#e48066"/>
<path d="M433.2,592.5C435.8,589.7 439.8,587.9 442.0,587.5C444.2,587.1 446.4,587.9 447.0,590.0C447.6,592.1 444.7,596.2 445.8,600.0C446.8,603.8 449.3,605.1 452.0,607.5C454.7,609.9 457.3,612.1 459.5,612.5C461.7,612.9 462.9,608.4 464.5,610.0C466.1,611.6 465.8,617.8 467.0,620.0C468.2,622.2 470.7,622.5 472.0,623.8C473.3,625.0 476.2,627.1 474.5,627.5C472.8,627.9 466.8,627.7 462.0,626.2C457.2,624.8 453.8,622.6 449.5,620.0C445.2,617.4 442.7,614.2 439.5,612.5C436.3,610.8 433.1,612.6 430.8,610.0C428.4,607.4 429.0,604.8 429.5,601.2C430.0,597.8 430.7,595.3 433.2,592.5Z" fill="#e48066"/>
<path d="M425.0,617.5C425.5,617.0 426.5,617.0 427.0,617.5C427.5,618.0 427.5,619.0 427.0,619.5C426.5,620.0 425.5,620.0 425.0,619.5C424.5,619.0 424.5,618.0 425.0,617.5Z" fill="#e48066"/>
<path d="M489.5,685.5C489.2,682.3 490.5,679.9 493.2,678.0C496.0,676.1 499.5,675.7 502.0,676.8C504.5,677.8 504.5,680.3 504.5,683.0C504.5,685.7 504.3,688.5 502.0,690.5C499.7,692.5 497.3,692.9 494.5,691.8C491.7,690.6 489.8,688.7 489.5,685.5Z" fill="#e48066"/>
<path d="M458.2,835.5C459.4,833.2 462.2,833.2 464.5,834.2C466.8,835.3 473.4,842.4 477.0,844.2C480.6,846.1 483.3,847.1 487.0,845.5C490.7,843.9 494.9,837.1 497.0,835.5C499.1,833.9 500.6,832.4 503.2,833.0C505.9,833.6 508.9,835.3 508.2,838.0C507.6,840.7 501.4,845.3 499.5,848.0C497.6,850.7 496.4,852.2 495.8,855.5C495.1,858.8 495.9,869.0 494.5,871.8C493.1,874.5 489.2,873.2 487.0,873.0C484.8,872.8 483.7,872.0 482.0,870.5C480.3,869.0 477.7,866.4 475.8,863.0C473.8,859.6 474.8,856.2 472.0,853.0C469.2,849.8 461.7,847.0 459.5,844.2C457.3,841.5 457.1,837.8 458.2,835.5Z" fill="#e48066"/>
<path d="M445.8,818.0C446.3,816.5 448.3,815.9 449.5,816.8C450.7,817.6 451.3,820.3 450.8,821.8C450.2,823.2 448.2,823.9 447.0,823.0C445.8,822.1 445.2,819.5 445.8,818.0Z" fill="#e48066"/>
<path d="M538.2,820.5C538.5,818.9 540.5,817.7 542.0,818.0C543.5,818.3 544.8,820.1 544.5,821.8C544.2,823.4 542.2,825.3 540.8,825.0C539.3,824.7 538.0,822.1 538.2,820.5Z" fill="#e48066"/>
<path d="M465.8,888.0C466.4,886.7 468.7,885.9 469.5,886.8C470.3,887.6 469.5,890.8 469.0,891.8C468.5,892.7 467.2,893.3 466.5,892.5C465.8,891.7 465.1,889.3 465.8,888.0Z" fill="#e48066"/>
<path d="M499.0,904.2C500.1,903.8 507.1,903.4 508.2,903.8C509.4,904.1 509.4,906.3 508.2,906.8C507.1,907.2 500.7,907.6 499.5,907.2C498.3,906.9 497.9,904.7 499.0,904.2Z" fill="#e48066"/>
<path d="M483.2,362.5C484.2,358.7 486.0,356.6 489.5,355.0C493.0,353.4 496.1,352.9 499.5,355.0C502.9,357.1 506.3,362.0 509.5,367.5C512.7,373.0 514.5,379.0 517.0,385.0C519.5,391.0 522.4,395.1 523.2,400.0C524.1,404.9 523.8,407.8 522.0,412.5C520.2,417.2 518.4,419.3 514.5,422.5C510.6,425.7 506.3,428.8 502.0,428.8C497.7,428.8 496.2,425.7 493.2,422.5C490.3,419.3 488.4,416.3 487.0,412.5C485.6,408.7 485.2,406.5 485.8,402.5C486.2,398.5 490.0,396.7 489.5,392.5C489.0,388.3 484.4,385.5 483.2,380.0C482.1,374.5 482.3,366.3 483.2,362.5Z" fill="#e48066"/>
<path d="M692.2,220.0C693.2,219.1 699.6,219.1 700.6,220.0C701.6,220.9 698.5,223.8 696.5,223.8C694.5,223.8 691.2,220.9 692.2,220.0Z" fill="#e48066"/>
<path d="M428.0,395.5C428.5,394.5 429.9,393.4 431.0,393.8C432.1,394.1 433.0,396.0 432.5,397.0C432.0,398.0 430.0,398.3 429.0,398.0C428.0,397.7 427.5,396.5 428.0,395.5Z" fill="#e48066"/>
<path d="M434.0,416.2C434.5,415.6 436.5,414.2 437.5,414.5C438.5,414.8 438.8,416.7 438.2,417.5C437.7,418.3 435.8,418.2 435.0,418.0C434.2,417.8 433.5,416.9 434.0,416.2Z" fill="#e48066"/>
<path d="M622.1,368.1C622.1,367.0 623.0,366.0 624.0,366.0C625.0,366.0 626.2,367.0 626.2,368.1C626.3,369.3 625.2,371.0 624.2,371.0C623.3,371.0 622.2,369.3 622.1,368.1Z" fill="#f7f6f6"/>
<path d="M672.0,375.0C671.3,374.1 669.6,375.5 669.0,376.2C668.4,377.0 668.4,378.0 669.0,378.8C669.6,379.5 671.3,380.9 672.0,380.0C672.7,379.1 672.7,375.9 672.0,375.0Z" fill="#f7f6f6"/>
<path d="M624.6,291.2C624.9,290.2 626.7,291.5 627.1,292.5C627.6,293.5 629.5,299.6 629.0,301.2C628.5,302.9 625.3,302.9 624.6,301.2C623.9,299.6 624.3,292.3 624.6,291.2Z" fill="#f8bfa4"/>
<path d="M672.8,368.8C672.1,366.8 669.3,368.6 667.8,370.0C666.2,371.4 664.9,373.7 664.6,376.2C664.4,378.8 664.8,380.5 666.5,382.5C668.2,384.5 671.6,388.2 672.8,385.6C673.9,383.1 673.4,370.7 672.8,368.8Z" fill="#f8bfa4"/>
<path d="M666.5,415.4C667.7,414.4 671.3,413.5 672.8,415.4C674.2,417.3 674.0,420.5 672.8,423.5C671.5,426.5 668.0,428.6 666.5,429.8C665.0,430.9 662.7,432.5 662.1,431.6C661.5,430.8 663.0,428.1 664.0,426.0C665.0,423.9 667.3,421.5 667.8,419.8C668.2,418.0 665.3,416.4 666.5,415.4Z" fill="#f8bfa4"/>
<path d="M647.1,470.0L650.9,470.0L650.9,471.5L647.1,471.5Z" fill="#f7f6f6"/>
<path d="M679.5,521.6C682.1,520.6 688.3,522.5 692.0,523.5C695.7,524.5 697.6,525.5 700.8,527.2C703.9,529.0 705.0,531.8 708.2,532.2C711.5,532.7 712.7,528.8 715.8,529.1C718.8,529.4 719.8,531.4 722.0,533.5C724.2,535.6 726.3,536.6 727.0,539.8C727.7,542.9 726.2,549.3 725.8,551.0C725.3,552.7 725.0,555.1 723.2,554.8C721.5,554.4 715.5,549.8 713.2,548.5C711.0,547.2 710.1,544.9 707.6,545.4C705.1,545.9 703.5,549.4 700.8,551.0C698.0,552.6 696.2,554.6 693.2,553.5C690.3,552.4 689.3,548.3 687.0,546.0C684.7,543.7 682.2,542.7 680.8,541.0C679.3,539.3 678.6,538.2 678.2,536.0C677.9,533.8 678.6,531.3 678.9,528.5C679.1,525.7 676.9,522.6 679.5,521.6Z" fill="#f8bfa4"/>
<path d="M675.1,495.4C675.9,494.6 678.7,494.6 679.5,494.8C680.3,494.9 680.7,496.1 680.1,496.6C679.6,497.2 677.5,498.1 676.4,497.9C675.3,497.6 674.4,496.1 675.1,495.4Z" fill="#f8bfa4"/>
<path d="M657.1,669.5C657.0,666.6 659.3,663.1 661.5,663.2C663.7,663.4 666.4,667.3 666.5,670.1C666.6,673.0 664.3,675.9 662.1,675.8C659.9,675.6 657.3,672.4 657.1,669.5Z" fill="#f8bfa4"/>
<path d="M549.0,678.5C549.5,678.0 550.7,678.0 551.2,678.5C551.8,679.0 551.8,680.0 551.2,680.5C550.7,681.0 549.5,681.0 549.0,680.5C548.5,680.0 548.5,679.0 549.0,678.5Z" fill="#f7f6f6"/>
<path d="M743.2,648.2C744.0,646.4 746.4,647.5 748.2,648.2C750.1,649.0 750.1,651.1 752.0,652.0C753.9,652.9 757.8,652.7 759.5,653.2C761.2,653.8 762.5,654.1 763.2,655.8C764.0,657.4 763.3,659.5 763.2,662.0C763.2,664.5 763.4,670.4 762.6,672.0C761.8,673.6 760.0,672.4 758.2,672.0C756.5,671.6 754.2,671.0 752.0,669.5C749.8,668.0 748.6,665.8 747.0,664.5C745.4,663.2 743.1,664.0 742.6,662.0C742.2,660.0 742.5,650.1 743.2,648.2Z" fill="#f8bfa4"/>
<path d="M730.1,590.8C730.1,587.9 732.2,585.4 734.5,585.1C736.8,584.8 738.8,587.0 740.1,589.5C741.4,592.0 742.2,597.5 743.2,602.0C744.3,606.5 745.5,608.7 745.8,613.2C746.0,617.8 745.0,622.1 744.5,624.5C744.0,626.9 743.5,630.4 742.0,630.1C740.5,629.8 739.3,626.2 738.2,623.2C737.2,620.3 736.5,617.3 735.8,613.2C735.0,609.2 735.6,606.4 734.5,602.0C733.4,597.6 730.1,593.6 730.1,590.8Z" fill="#f8bfa4"/>
<path d="M671.4,632.0C672.4,630.2 674.8,634.0 675.8,635.8C676.8,637.5 677.4,639.0 676.4,640.8C675.4,642.5 672.5,645.2 671.4,643.2C670.3,641.3 670.4,633.8 671.4,632.0Z" fill="#f8bfa4"/>
<path d="M703.9,663.9C703.9,662.6 705.8,661.7 707.0,662.0C708.2,662.3 708.9,663.9 708.9,665.1C708.9,666.4 708.2,667.9 707.0,667.6C705.8,667.3 703.9,665.2 703.9,663.9Z" fill="#f8bfa4"/>
<path d="M707.0,631.0L708.2,631.0L708.2,638.9L707.0,638.9Z" fill="#f7f6f6"/>
<path d="M733.2,738.2L734.5,738.2L734.5,748.9L733.2,748.9Z" fill="#f7f6f6"/>
<path d="M534.0,350.0C534.7,349.1 538.8,347.2 541.5,345.0C544.2,342.8 544.9,339.8 547.8,338.8C550.6,337.7 552.8,338.4 555.2,340.0C557.7,341.6 557.8,343.6 559.0,346.2C560.2,348.9 562.7,351.7 561.5,353.8C560.3,355.8 556.7,353.6 554.0,355.0C551.3,356.4 550.4,360.6 547.8,360.6C545.1,360.6 545.3,356.6 542.8,355.0C540.2,353.4 536.2,353.1 535.2,352.5C534.3,351.9 533.3,350.9 534.0,350.0Z" fill="#c43b3c"/>
<path d="M572.1,385.0C572.4,382.8 576.7,379.9 579.0,379.4C581.3,378.9 581.7,381.8 584.0,382.5C586.3,383.2 592.0,382.8 593.4,383.8C594.8,384.7 593.0,386.7 591.5,387.5C590.0,388.3 586.5,388.5 584.0,388.8C581.5,389.0 580.1,389.5 577.8,388.8C575.4,388.0 571.8,387.2 572.1,385.0Z" fill="#c43b3c"/>
<path d="M503.4,376.2C504.2,373.3 506.7,379.7 507.8,382.5C508.8,385.3 509.0,389.5 509.6,392.5C510.3,395.5 511.6,397.3 511.5,400.0C511.4,402.7 510.9,406.8 509.0,406.2C507.1,405.7 504.1,401.6 503.4,397.5C502.6,393.4 502.5,379.2 503.4,376.2Z" fill="#c43b3c"/>
<path d="M609.6,292.5C610.3,290.0 612.1,286.9 614.0,286.9C615.9,286.9 617.8,289.8 617.8,292.5C617.8,295.2 615.4,301.2 614.0,302.5C612.6,303.8 611.7,300.5 610.9,298.8C610.1,297.0 609.0,295.0 609.6,292.5Z" fill="#c43b3c"/>
<path d="M634.0,293.1C635.4,290.0 642.3,286.4 645.2,286.2C648.2,286.1 649.0,289.6 649.0,292.5C649.0,295.4 647.3,299.1 645.2,300.6C643.2,302.1 641.1,301.4 639.0,300.0C636.9,298.6 632.6,296.2 634.0,293.1Z" fill="#c43b3c"/>
<path d="M655.9,292.5C655.9,291.7 657.0,291.1 657.8,291.2C658.5,291.4 659.1,292.3 659.0,293.1C658.9,293.9 658.2,294.9 657.5,294.8C656.8,294.6 655.8,293.3 655.9,292.5Z" fill="#c43b3c"/>
<path d="M622.8,312.5C623.4,311.0 625.1,308.6 625.9,310.0C626.7,311.4 627.4,318.4 627.1,320.0C626.9,321.6 625.2,322.9 624.0,322.5C622.8,322.1 622.4,320.0 622.1,318.1C621.9,316.2 622.1,314.0 622.8,312.5Z" fill="#c43b3c"/>
<path d="M601.5,333.8C602.8,330.5 605.0,329.8 607.8,327.5C610.5,325.2 614.3,321.8 616.5,321.2C618.7,320.7 620.6,321.7 621.5,323.8C622.4,325.8 622.9,330.4 622.1,333.8C621.4,337.1 619.3,338.1 617.8,341.2C616.2,344.4 614.4,346.2 614.0,350.0C613.6,353.8 615.8,359.7 615.2,362.5C614.7,365.3 612.7,366.0 610.2,367.5C607.8,369.0 605.4,370.3 602.8,370.0C600.1,369.7 598.0,368.8 597.1,366.2C596.3,363.7 597.8,361.6 599.0,358.8C600.2,355.9 603.5,353.1 604.0,350.0C604.5,346.9 602.0,345.6 601.5,342.5C601.0,339.4 600.2,337.0 601.5,333.8Z" fill="#c43b3c"/>
<path d="M627.1,330.0C627.4,327.9 627.4,325.9 629.0,325.0C630.6,324.1 633.1,324.4 634.0,326.2C634.9,328.1 634.3,333.3 635.2,337.5C636.2,341.7 638.0,345.0 639.0,347.5C640.0,350.0 641.8,351.6 641.5,353.8C641.2,355.9 639.7,358.2 637.8,357.5C635.8,356.8 633.7,352.9 631.5,350.0C629.3,347.1 627.3,346.0 626.5,342.5C625.7,339.0 626.8,332.1 627.1,330.0Z" fill="#c43b3c"/>
<path d="M637.8,366.2C639.4,364.0 642.0,362.2 644.0,363.1C646.0,364.0 646.0,367.1 646.5,370.0C647.0,372.9 646.7,378.9 647.1,382.5C647.5,386.1 649.4,387.9 649.0,391.2C648.6,394.6 647.3,398.5 645.2,398.8C643.2,399.0 641.8,395.3 640.2,392.5C638.7,389.7 637.2,385.9 636.5,382.5C635.8,379.1 636.3,376.8 636.5,373.8C636.7,370.7 636.1,368.5 637.8,366.2Z" fill="#c43b3c"/>
<path d="M634.0,403.8C634.3,401.3 635.2,398.8 637.8,398.8C640.2,398.8 642.6,403.5 645.2,403.8C647.9,404.0 648.7,399.7 650.9,400.0C653.1,400.3 654.2,402.5 654.6,405.0C655.1,407.5 658.2,414.8 654.0,417.5C649.8,420.2 639.8,420.6 635.2,417.5C630.7,414.4 633.7,406.2 634.0,403.8Z" fill="#c43b3c"/>
<path d="M658.4,405.0C659.6,402.8 661.6,400.8 664.0,400.0C666.4,399.2 668.7,400.4 670.2,401.2C671.8,402.1 672.9,403.2 672.8,405.0C672.6,406.8 670.9,410.6 669.0,412.5C667.1,414.4 665.2,415.3 662.8,415.0C660.3,414.7 658.8,413.5 657.8,411.2C656.7,409.0 657.2,407.2 658.4,405.0Z" fill="#c43b3c"/>
<path d="M572.8,350.6C573.0,349.9 577.8,349.8 579.0,350.0C580.2,350.2 581.8,351.1 581.5,351.9C581.2,352.6 579.3,353.3 577.8,353.1C576.2,352.9 572.5,351.4 572.8,350.6Z" fill="#c43b3c"/>
<path d="M519.0,451.6C520.7,450.9 528.4,450.0 530.2,451.0C532.1,452.0 528.9,455.3 527.1,456.0C525.4,456.7 524.3,455.0 522.8,454.1C521.2,453.3 517.3,452.3 519.0,451.6Z" fill="#c43b3c"/>
<path d="M530.2,458.5C530.4,456.9 532.2,455.4 533.4,456.0C534.5,456.6 535.4,459.2 535.2,461.0C535.1,462.8 533.9,465.3 532.8,464.8C531.6,464.2 530.1,460.1 530.2,458.5Z" fill="#c43b3c"/>
<path d="M534.6,468.5C535.3,466.1 537.8,465.7 540.2,466.0C542.7,466.3 543.5,467.9 545.2,469.8C547.0,471.6 548.9,473.8 549.6,476.0C550.3,478.2 550.6,480.0 549.0,481.6C547.4,483.2 545.1,483.8 542.8,482.9C540.4,482.0 538.7,480.0 537.1,477.2C535.6,474.5 534.0,470.9 534.6,468.5Z" fill="#c43b3c"/>
<path d="M525.9,483.5C526.3,482.9 527.3,482.9 527.8,483.5C528.2,484.1 528.2,485.4 527.8,486.0C527.3,486.6 526.3,486.6 525.9,486.0C525.4,485.4 525.4,484.1 525.9,483.5Z" fill="#c43b3c"/>
<path d="M555.2,485.4C556.0,484.6 558.6,484.4 559.6,484.8C560.7,485.1 561.6,486.5 560.9,487.2C560.1,488.0 557.6,488.2 556.5,487.9C555.4,487.5 554.5,486.1 555.2,485.4Z" fill="#c43b3c"/>
<path d="M544.6,490.4C544.9,489.7 546.2,489.7 546.5,490.4C546.8,491.1 548.4,497.1 548.4,499.8C548.4,502.4 547.7,504.9 546.5,506.0C545.3,507.1 543.7,506.0 542.8,504.8C541.8,503.5 541.9,501.7 542.1,499.8C542.4,497.8 544.3,491.1 544.6,490.4Z" fill="#c43b3c"/>
<path d="M555.2,511.0C555.8,510.3 558.0,509.5 559.0,509.8C560.0,510.0 560.2,511.5 559.6,512.2C559.0,513.0 557.4,513.1 556.5,512.9C555.6,512.6 554.7,511.7 555.2,511.0Z" fill="#c43b3c"/>
<path d="M595.2,427.2C595.5,425.5 597.3,424.3 599.0,424.8C600.7,425.2 602.4,427.4 604.0,429.8C605.6,432.1 606.7,434.1 607.8,437.2C608.8,440.4 609.4,446.2 610.2,448.5C611.1,450.8 611.6,453.0 614.0,453.5C616.4,454.0 625.7,450.8 627.8,452.2C629.8,453.7 623.9,457.4 622.8,459.8C621.6,462.1 621.3,463.4 620.9,466.0C620.5,468.6 619.1,472.3 620.2,476.0C621.4,479.7 624.5,481.0 626.5,483.5C628.5,486.0 630.2,487.5 631.5,489.8C632.8,492.0 633.9,493.5 633.4,496.0C632.8,498.5 631.5,500.4 629.0,501.0C626.5,501.6 625.0,500.0 622.8,498.5C620.5,497.0 618.8,494.1 616.5,492.2C614.2,490.4 612.8,490.0 610.2,488.5C607.7,487.0 605.7,485.6 602.8,484.1C599.8,482.7 597.8,482.9 595.2,481.0C592.7,479.1 590.7,476.9 590.2,474.8C589.8,472.6 591.3,471.4 592.8,469.8C594.2,468.1 596.2,466.3 599.0,464.8C601.8,463.2 605.3,464.6 606.5,462.2C607.7,459.9 606.2,457.0 604.0,454.8C601.8,452.5 599.0,454.2 596.5,452.2C594.0,450.3 591.4,448.2 591.5,444.8C591.6,441.2 596.3,440.9 597.1,437.2C597.9,433.6 595.0,429.0 595.2,427.2Z" fill="#c43b3c"/>
<path d="M636.5,415.4C638.8,414.3 648.0,412.9 651.5,415.4C655.0,417.8 651.9,423.3 651.5,426.0C651.1,428.7 649.1,429.6 649.0,432.2C648.9,434.9 651.4,445.1 650.9,447.2C650.3,449.4 646.6,449.0 645.2,447.2C643.9,445.5 644.5,442.0 644.0,438.5C643.5,435.0 643.5,431.7 642.8,428.5C642.0,425.3 640.7,423.3 639.6,421.0C638.5,418.7 634.2,416.5 636.5,415.4Z" fill="#c43b3c"/>
<path d="M645.9,461.0C646.2,460.0 648.0,457.1 649.6,457.2C651.2,457.4 653.2,460.3 652.8,461.6C652.3,462.9 648.8,463.0 647.8,462.9C646.7,462.8 645.5,462.0 645.9,461.0Z" fill="#c43b3c"/>
<path d="M640.9,502.2C641.0,501.2 642.3,500.7 643.4,501.0C644.5,501.3 646.0,502.5 645.9,503.5C645.7,504.5 643.9,505.7 642.8,505.4C641.6,505.1 640.7,503.3 640.9,502.2Z" fill="#c43b3c"/>
<path d="M661.5,501.0C663.5,499.2 668.7,498.4 670.9,501.0C673.1,503.6 671.5,510.6 670.9,512.2C670.2,513.9 668.1,512.9 666.5,512.2C664.9,511.6 663.1,510.6 662.1,508.5C661.2,506.4 659.5,502.8 661.5,501.0Z" fill="#c43b3c"/>
<path d="M659.0,518.5C659.4,516.5 660.8,513.5 662.1,513.5C663.4,513.5 664.2,516.3 664.6,518.5C665.0,520.7 665.0,523.0 664.0,524.1C663.0,525.3 661.3,524.6 660.2,523.5C659.2,522.4 658.6,520.5 659.0,518.5Z" fill="#c43b3c"/>
<path d="M652.1,537.2C653.1,536.1 656.3,535.5 657.8,536.0C659.2,536.5 659.3,538.2 659.0,539.8C658.7,541.3 657.8,543.2 656.5,543.5C655.2,543.8 654.3,542.3 653.4,541.0C652.5,539.7 651.1,538.4 652.1,537.2Z" fill="#c43b3c"/>
<path d="M659.0,548.5C659.6,546.5 660.6,545.0 662.8,544.8C664.9,544.5 667.2,546.1 669.0,547.2C670.8,548.4 672.5,548.9 672.8,551.0C673.0,553.1 673.8,571.7 672.8,574.8C671.7,577.8 668.6,572.1 666.5,569.8C664.4,567.4 662.8,565.1 661.5,562.2C660.2,559.4 660.1,557.2 659.6,554.8C659.2,552.3 658.4,550.5 659.0,548.5Z" fill="#c43b3c"/>
<path d="M688.2,444.1C689.1,442.8 691.4,440.7 693.9,441.0C696.4,441.3 698.6,443.3 698.9,445.4C699.2,447.4 697.3,449.2 695.1,449.8C692.9,450.3 690.7,448.9 689.5,447.9C688.3,446.9 687.4,445.5 688.2,444.1Z" fill="#c43b3c"/>
<path d="M674.5,478.5C675.4,475.9 678.1,475.4 680.8,476.0C683.4,476.6 684.0,478.8 685.8,481.0C687.5,483.2 691.0,486.5 690.8,488.5C690.5,490.5 687.0,490.0 684.5,489.8C682.0,489.5 679.1,489.6 677.0,487.2C674.9,484.9 673.6,481.1 674.5,478.5Z" fill="#c43b3c"/>
<path d="M677.6,511.0C678.2,509.4 680.8,504.1 683.2,503.5C685.7,502.9 686.2,506.8 688.2,508.5C690.3,510.2 693.3,510.8 693.9,512.2C694.5,513.7 692.3,514.5 690.8,514.8C689.2,515.0 681.1,515.2 679.5,514.8C677.9,514.3 677.1,512.6 677.6,511.0Z" fill="#c43b3c"/>
<path d="M711.4,519.8C711.4,518.0 712.5,516.0 714.5,516.0C716.5,516.0 721.7,518.8 722.6,519.8C723.6,520.7 722.6,522.3 721.4,522.9C720.2,523.4 716.4,524.1 714.5,523.5C712.6,522.9 711.4,521.5 711.4,519.8Z" fill="#c43b3c"/>
<path d="M671.4,547.2C672.0,544.6 675.1,549.0 677.0,551.0C678.9,553.0 679.2,556.2 682.0,558.5C684.8,560.8 688.7,560.5 690.8,562.2C692.8,564.0 693.2,565.8 693.2,568.5C693.2,571.2 692.3,576.3 690.8,578.5C689.2,580.7 686.5,580.8 684.5,581.0C682.5,581.2 681.4,580.5 679.5,579.8C677.6,579.0 672.2,579.5 671.4,576.0C670.5,572.5 670.8,549.9 671.4,547.2Z" fill="#c43b3c"/>
<path d="M698.2,561.6C699.0,561.4 703.8,561.4 704.5,561.6C705.2,561.8 705.2,563.3 704.5,563.5C703.8,563.7 699.0,563.7 698.2,563.5C697.5,563.3 697.5,561.8 698.2,561.6Z" fill="#c43b3c"/>
<path d="M733.2,564.8C734.4,561.9 737.5,557.9 740.1,558.5C742.8,559.1 743.9,564.8 744.5,567.2C745.1,569.7 744.9,571.8 743.9,573.5C742.9,575.2 741.5,576.3 739.5,576.0C737.5,575.7 735.7,574.4 734.5,572.2C733.3,570.1 732.1,567.6 733.2,564.8Z" fill="#c43b3c"/>
<path d="M746.4,578.5C746.5,577.8 747.1,576.8 747.6,577.2C748.1,577.8 749.0,580.2 748.9,581.0C748.8,581.8 747.6,582.2 747.0,581.6C746.4,581.1 746.3,579.2 746.4,578.5Z" fill="#c43b3c"/>
<path d="M660.2,588.2C661.3,586.5 664.1,585.3 665.2,587.0C666.4,588.7 666.9,594.9 666.5,597.0C666.1,599.1 664.2,601.0 662.8,600.8C661.3,600.5 660.7,597.9 660.2,595.8C659.8,593.6 659.2,590.0 660.2,588.2Z" fill="#c43b3c"/>
<path d="M669.0,610.8C669.5,609.3 672.3,608.7 672.8,610.1C673.2,611.6 673.5,621.4 672.8,623.2C672.0,625.1 670.3,620.5 669.6,618.2C668.9,616.0 668.5,612.2 669.0,610.8Z" fill="#c43b3c"/>
<path d="M659.6,654.5C660.1,653.3 661.7,651.0 664.0,650.8C666.3,650.5 670.8,651.0 672.8,653.2C674.7,655.5 674.2,659.3 672.8,660.8C671.3,662.2 668.6,660.2 666.5,659.5C664.4,658.8 662.5,657.7 661.5,657.0C660.5,656.3 659.2,655.7 659.6,654.5Z" fill="#c43b3c"/>
<path d="M634.0,705.1C634.3,704.2 636.0,704.2 636.5,705.1C637.0,706.0 638.0,709.2 637.8,712.0C637.5,714.8 636.1,720.2 635.2,720.8C634.4,721.3 634.2,717.0 634.0,714.5C633.8,712.0 633.7,706.1 634.0,705.1Z" fill="#c43b3c"/>
<path d="M650.9,705.1C652.2,703.2 654.6,702.5 656.5,703.9C658.4,705.2 659.1,709.1 660.2,712.0C661.4,714.9 663.6,716.6 662.8,719.5C661.9,722.4 659.1,724.0 656.5,724.5C653.9,725.0 651.6,724.4 650.2,722.0C648.9,719.6 650.1,716.5 650.2,713.2C650.4,710.0 649.6,707.0 650.9,705.1Z" fill="#c43b3c"/>
<path d="M686.4,584.5C686.7,583.1 687.9,580.9 688.9,582.0C689.8,583.1 690.0,586.5 690.8,589.5C691.5,592.5 693.0,595.1 692.6,597.0C692.3,598.9 690.3,600.7 688.9,600.1C687.4,599.5 686.8,596.9 686.4,594.5C686.0,592.1 686.1,585.9 686.4,584.5Z" fill="#c43b3c"/>
<path d="M671.4,610.1C671.9,608.4 674.4,610.1 675.8,611.4C677.1,612.6 678.2,615.1 678.9,617.0C679.5,618.9 680.4,620.2 679.5,622.0C678.6,623.8 675.8,625.9 674.5,626.4C673.2,626.9 671.6,626.4 671.4,625.1C671.1,623.8 670.8,611.9 671.4,610.1Z" fill="#c43b3c"/>
<path d="M671.4,652.0C672.7,650.5 674.8,654.0 677.0,653.2C679.2,652.5 679.7,647.7 682.0,648.2C684.3,648.8 686.5,652.2 687.0,655.8C687.5,659.3 685.3,662.9 684.5,664.5C683.7,666.1 683.1,668.2 681.4,667.6C679.7,667.1 678.9,663.6 677.0,662.0C675.1,660.4 672.6,661.6 671.4,659.5C670.2,657.4 670.1,653.5 671.4,652.0Z" fill="#c43b3c"/>
<path d="M678.9,679.5C679.2,677.8 679.6,674.2 681.4,674.5C683.1,674.8 686.2,678.0 686.4,680.8C686.5,683.5 683.3,685.8 682.0,686.4C680.7,687.0 680.1,685.2 679.5,683.9C678.9,682.6 678.5,681.2 678.9,679.5Z" fill="#c43b3c"/>
<path d="M753.2,594.5C753.3,593.6 753.9,592.0 754.5,592.6C755.1,593.3 758.1,597.2 759.5,600.8C760.9,604.3 761.2,607.7 761.4,610.8C761.6,613.8 761.5,616.8 760.8,618.2C760.0,619.7 758.5,620.0 757.0,619.5C755.5,619.0 753.6,617.8 753.2,615.8C752.9,613.7 753.2,595.4 753.2,594.5Z" fill="#c43b3c"/>
<path d="M707.6,611.4C709.7,610.2 712.7,613.7 715.8,615.8C718.8,617.8 722.2,620.4 725.8,623.2C729.3,626.1 732.4,628.2 734.5,630.8C736.6,633.3 737.8,635.2 738.2,638.2C738.8,641.2 737.0,642.7 737.0,645.8C737.0,648.8 737.2,650.4 738.2,653.2C739.3,656.1 741.6,659.8 743.2,663.2C744.9,666.7 745.4,669.2 747.0,672.0C748.6,674.8 750.8,675.3 752.0,678.2C753.2,681.2 751.7,683.8 753.2,687.0C754.8,690.2 758.5,691.8 759.5,693.2C760.5,694.7 762.0,696.3 760.8,697.6C759.5,698.9 755.1,699.4 752.0,700.8C748.9,702.1 747.0,702.2 744.5,704.5C742.0,706.8 740.2,711.7 738.2,713.2C736.3,714.8 734.0,714.3 732.0,714.5C730.0,714.7 727.9,716.3 727.0,714.5C726.1,712.7 727.6,708.5 727.0,704.5C726.4,700.5 725.3,698.1 723.9,694.5C722.4,690.9 721.1,689.3 719.5,685.8C717.9,682.2 716.1,677.4 715.1,674.5C714.1,671.6 713.2,670.1 713.2,667.0C713.2,663.9 714.3,661.3 715.1,659.5C715.9,657.7 718.2,657.7 718.2,655.8C718.2,653.8 715.5,650.7 715.1,647.0C714.8,643.3 716.4,640.5 716.4,637.0C716.4,633.5 716.1,630.7 715.1,628.2C714.1,625.8 712.1,624.5 710.8,623.2C709.4,622.0 707.5,622.5 707.0,620.8C706.5,619.0 705.6,612.5 707.6,611.4Z" fill="#c43b3c"/>
<path d="M489.5,377.5C490.0,373.6 492.8,370.6 495.8,370.0C498.7,369.4 500.0,372.5 502.0,375.0C504.0,377.5 507.4,382.7 509.5,387.5C511.6,392.3 512.9,397.0 513.2,400.0C513.6,403.0 513.5,406.3 512.0,407.5C510.5,408.7 508.8,403.7 507.0,405.0C505.2,406.3 503.1,412.6 502.0,415.0C500.9,417.4 501.0,421.2 499.5,421.2C498.0,421.2 495.8,417.9 495.8,415.0C495.8,412.1 499.9,409.3 499.5,405.0C499.1,400.7 495.0,394.9 493.2,390.0C491.5,385.1 489.0,381.4 489.5,377.5Z" fill="#c43b3c"/>
<path d="M331.5,455.0C332.7,453.4 335.4,452.8 338.2,453.0C341.1,453.2 344.6,453.4 346.5,456.2C348.4,459.1 347.8,463.1 346.5,465.0C345.2,466.9 342.9,465.8 340.8,465.0C338.6,464.2 334.7,461.6 333.2,460.0C331.8,458.4 330.3,456.6 331.5,455.0Z" fill="#b1d5e7"/>
<path d="M317.5,480.8C316.9,479.2 321.2,476.4 324.5,476.2C327.8,476.1 328.7,479.8 332.0,480.0C335.3,480.2 337.9,477.5 342.0,477.5C346.1,477.5 348.8,477.4 352.0,480.0C355.2,482.6 354.2,486.7 357.0,490.0C359.8,493.3 362.2,493.8 365.8,496.2C369.2,498.8 372.7,500.5 374.5,502.5C376.3,504.5 377.9,506.2 377.0,508.8C376.1,511.3 373.9,516.1 369.5,517.5C365.1,518.9 359.3,517.9 357.0,515.0C354.7,512.1 361.0,507.9 359.5,505.0C358.0,502.1 354.1,503.9 350.8,502.5C347.4,501.1 339.4,498.9 338.2,496.2C337.1,493.6 346.0,493.9 345.8,491.2C345.5,488.6 340.7,486.6 337.0,485.0C333.3,483.4 330.8,483.8 327.0,483.0C323.2,482.2 318.1,482.3 317.5,480.8Z" fill="#b1d5e7"/>
<path d="M393.2,517.5C394.5,515.3 396.8,512.8 399.5,513.8C402.2,514.7 403.5,520.5 407.0,522.5C410.5,524.5 413.8,523.8 417.0,523.8C420.2,523.8 423.2,520.2 425.0,522.5C426.8,524.8 427.5,530.8 424.5,533.8C421.5,536.7 414.7,534.4 412.0,535.0C409.3,535.6 408.4,538.9 405.8,538.0C403.1,537.1 400.2,532.4 398.2,530.0C396.3,527.6 394.7,526.1 393.8,523.8C392.8,521.4 392.0,519.7 393.2,517.5Z" fill="#b1d5e7"/>
<path d="M252.0,604.5C253.1,604.1 267.3,602.5 268.2,602.5C269.2,602.5 269.1,604.5 268.2,605.0C267.4,605.5 262.5,607.0 259.5,607.5C256.5,608.0 253.1,607.9 252.0,607.5C250.9,607.1 250.9,604.9 252.0,604.5Z" fill="#b1d5e7"/>
<path d="M427.0,727.5C426.1,725.8 432.3,725.7 435.8,724.2C439.2,722.8 442.4,721.0 447.0,719.2C451.6,717.5 457.6,716.6 459.5,715.5C461.4,714.4 462.6,712.6 462.0,710.5C461.4,708.4 456.2,704.6 455.8,703.0C455.3,701.4 458.0,700.2 459.5,701.0C461.0,701.8 462.5,704.1 463.2,706.8C464.0,709.4 464.3,713.5 464.5,718.0C464.7,722.5 467.3,726.3 464.5,730.5C461.7,734.7 455.3,734.7 452.0,736.8C448.7,738.8 447.4,744.2 444.5,743.0C441.6,741.8 443.2,735.0 439.5,731.8C435.8,728.5 427.9,729.2 427.0,727.5Z" fill="#b1d5e7"/>
<path d="M310.0,808.0C309.9,806.2 314.7,805.5 317.0,803.0C319.3,800.5 319.6,794.2 322.5,794.2C325.4,794.2 327.4,799.3 329.5,803.0C331.6,806.7 332.7,809.0 333.2,813.0C333.8,817.0 333.5,819.2 332.5,823.0C331.5,826.8 330.4,832.3 328.2,831.8C326.1,831.2 325.3,824.6 323.2,820.5C321.2,816.4 319.8,812.7 317.5,810.5C315.2,808.3 310.1,809.8 310.0,808.0Z" fill="#b1d5e7"/>
<path d="M284.5,829.2C285.2,826.1 286.7,824.5 289.5,823.0C292.3,821.5 296.5,820.5 299.5,821.0C302.5,821.5 303.8,823.1 305.8,825.5C307.7,827.9 311.2,830.6 310.0,833.5C308.8,836.4 302.8,836.5 300.8,838.0C298.7,839.5 297.4,840.5 297.0,843.0C296.6,845.5 300.2,848.4 299.0,849.2C297.8,850.1 294.4,848.5 292.0,846.8C289.6,845.0 287.3,842.8 285.8,839.2C284.2,835.7 283.8,832.4 284.5,829.2Z" fill="#b1d5e7"/>
<path d="M295.8,870.5C296.5,865.8 299.0,864.1 302.0,860.5C305.0,856.9 309.2,851.1 314.5,848.0C319.8,844.9 324.8,845.8 329.5,844.2C334.2,842.7 336.7,838.4 340.8,839.2C344.8,840.1 345.7,843.9 347.0,848.0C348.3,852.1 348.2,857.5 348.2,863.0C348.2,868.5 349.3,872.9 347.0,876.8C344.7,880.6 341.0,879.8 337.0,881.8C333.0,883.8 331.3,885.5 327.0,886.8C322.7,888.0 318.6,886.3 315.8,888.0C312.9,889.7 314.3,894.6 312.0,895.5C309.7,896.4 308.2,891.8 305.8,891.8C303.2,891.8 302.4,897.4 300.8,895.5C299.1,893.6 299.2,888.0 298.2,883.0C297.2,878.0 295.0,875.2 295.8,870.5Z" fill="#b1d5e7"/>
<path d="M304.0,942.5C304.9,941.5 308.2,941.0 309.0,941.8C309.8,942.5 308.2,944.7 307.5,945.5C306.8,946.3 305.8,946.9 305.0,946.2C304.2,945.6 303.1,943.5 304.0,942.5Z" fill="#b1d5e7"/>
<path d="M363.2,958.0C364.0,955.9 366.1,952.8 369.5,951.8C372.9,950.7 376.8,953.2 379.5,953.0C382.2,952.8 383.1,950.2 385.8,950.5C388.4,950.8 389.4,955.4 392.0,954.2C394.6,953.1 395.1,946.7 397.0,945.5C398.9,944.3 400.5,946.3 402.0,948.0C403.5,949.7 402.0,953.2 404.5,954.2C407.0,955.3 410.5,955.2 413.2,953.0C416.0,950.8 413.3,945.0 417.0,944.2C420.7,943.5 455.9,943.5 459.5,944.2C463.1,945.0 457.0,949.4 457.0,953.0C457.0,956.6 459.0,959.0 459.5,963.0C460.0,967.0 461.1,969.3 459.5,973.0C457.9,976.7 454.8,978.2 452.0,980.5C449.2,982.8 447.3,983.2 444.5,985.5C441.7,987.8 440.7,990.9 437.0,993.0C433.3,995.1 429.4,996.0 424.5,996.8C419.6,997.5 415.8,999.4 412.0,996.8C408.2,994.1 409.5,990.1 408.2,985.5C407.0,980.9 407.2,975.9 405.8,973.0C404.3,970.1 402.6,968.7 399.5,968.0C396.4,967.3 393.0,970.0 389.5,969.2C386.0,968.5 384.7,966.5 382.0,964.2C379.3,962.0 378.1,957.4 375.8,958.0C373.4,958.6 374.3,965.6 372.0,966.8C369.7,967.9 367.3,964.6 365.8,963.0C364.2,961.4 362.5,960.1 363.2,958.0Z" fill="#b1d5e7"/>
<path d="M357.5,970.0C358.0,968.7 360.8,971.2 362.0,973.0C363.2,974.8 365.0,979.2 364.5,980.5C364.0,981.8 361.1,980.1 360.0,978.5C358.9,976.9 357.0,971.3 357.5,970.0Z" fill="#b1d5e7"/>
<path d="M128.8,961.0C129.0,957.0 132.3,955.0 136.2,953.5C140.2,952.0 146.8,950.7 150.0,953.0C153.2,955.3 151.2,960.2 150.0,963.5C148.8,966.8 146.9,968.3 143.8,969.8C140.6,971.2 138.0,972.3 135.0,970.5C132.0,968.7 128.5,965.0 128.8,961.0Z" fill="#b1d5e7"/>
<path d="M147.5,928.5C147.8,927.0 150.6,926.6 151.2,928.0C151.9,929.4 151.4,935.7 151.2,936.5C151.1,937.3 149.6,937.2 149.2,936.5C148.9,935.8 147.2,930.0 147.5,928.5Z" fill="#b1d5e7"/>
<path d="M163.8,986.0C163.2,980.6 164.0,976.7 166.2,972.2C168.5,967.8 170.5,965.5 175.0,963.5C179.5,961.5 185.0,962.0 190.0,961.5C195.0,961.0 198.4,958.3 202.5,960.5C206.6,962.7 208.7,966.5 207.5,971.0C206.3,975.5 201.0,976.7 197.5,979.8C194.0,982.8 190.7,985.7 188.8,987.2C186.8,988.8 186.1,991.0 183.8,991.0C181.4,991.0 181.2,986.7 178.8,987.2C176.3,987.8 174.2,991.6 172.5,993.5C170.8,995.4 170.6,1000.1 168.8,998.5C166.9,996.9 164.3,991.4 163.8,986.0Z" fill="#b1d5e7"/>
<path d="M303.8,942.2C304.8,941.1 308.8,940.7 310.0,941.5C311.2,942.3 309.7,944.5 308.8,945.5C307.8,946.5 306.6,947.2 305.5,946.5C304.4,945.8 302.7,943.4 303.8,942.2Z" fill="#b1d5e7"/>
<path d="M138.8,566.8C141.1,562.3 146.1,561.9 150.0,561.0C153.9,560.1 156.3,560.3 160.0,561.8C163.7,563.2 166.1,564.4 168.0,568.0C169.9,571.6 168.7,576.2 170.0,580.5C171.3,584.8 173.3,586.6 175.0,590.5C176.7,594.4 178.2,597.5 178.8,600.5C179.3,603.5 179.3,605.5 178.0,608.0C176.7,610.5 175.2,611.7 172.5,612.5C169.8,613.3 167.8,612.8 165.0,611.8C162.2,610.7 160.2,607.4 156.2,606.8C152.3,606.1 148.6,609.2 145.0,608.5C141.4,607.8 139.0,604.6 137.5,603.0C136.0,601.4 135.1,600.2 135.0,598.0C134.9,595.8 136.4,590.5 137.0,585.5C137.6,580.5 136.4,571.2 138.8,566.8Z" fill="#b1d5e7"/>
<path d="M137.0,625.5C138.7,623.8 141.2,626.0 142.5,628.0C143.8,630.0 143.4,636.2 146.2,639.2C149.1,642.3 155.2,641.8 156.2,642.5C157.3,643.2 156.7,645.4 155.5,645.5C154.3,645.6 150.8,643.4 147.5,643.0C144.2,642.6 140.2,641.4 136.2,643.0C132.3,644.6 130.3,651.1 128.8,650.5C127.2,649.9 128.2,644.3 129.5,640.5C130.8,636.7 135.3,627.2 137.0,625.5Z" fill="#b1d5e7"/>
<path d="M248.2,603.0C249.7,602.6 253.7,605.2 257.5,605.0C261.3,604.8 267.4,601.8 268.8,601.8C270.1,601.8 268.7,604.3 267.5,605.0C266.3,605.7 260.0,607.7 257.5,608.0C255.0,608.3 252.9,607.7 251.2,606.8C249.6,605.8 246.8,603.4 248.2,603.0Z" fill="#b1d5e7"/>
<path d="M317.5,883.0C317.6,881.6 318.9,880.2 320.0,880.5C321.1,880.8 322.1,882.6 322.0,884.2C321.9,885.9 320.6,888.3 319.5,888.0C318.4,887.7 317.4,884.4 317.5,883.0Z" fill="#f7f6f6"/>
</g>
<g fill="none" stroke="#808080" stroke-width="1.5" stroke-linejoin="round">
<path d="M309.5,101.0L310.0,130.0L311.0,130.0L307.5,209.5"/>
<path d="M20.0,243.0L23.8,242.0L25.0,239.5L28.8,240.8L32.5,240.0L37.0,241.2L43.8,238.0L50.0,237.5L52.0,235.5L53.0,237.5L60.0,235.8L62.0,241.2L61.2,247.5L62.5,252.0L65.5,254.0L68.0,251.2L73.2,250.8L73.8,247.0L80.0,244.5L80.5,231.2L110.0,232.0L109.5,246.8L115.2,247.0L114.8,267.5L120.5,267.8L120.5,272.2L130.8,272.5"/>
<path d="M130.2,361.2L336.0,368.8"/>
<path d="M591.5,101.0L591.5,113.0"/>
<path d="M552.0,207.0L552.0,215.0"/>
<path d="M399.8,213.8L398.5,293.8L389.0,294.2L389.0,305.0L379.8,305.5L376.8,370.0"/>
<path d="M336.0,368.2L376.8,370.0L438.5,371.2L438.0,423.0"/>
<path d="M438.0,397.5L394.8,397.5L394.0,423.0"/>
<path d="M467.8,218.0L469.8,225.0L476.0,231.2L481.0,233.8L486.0,240.0L493.5,238.8L499.8,246.2L502.2,256.2L497.2,265.0L496.0,275.0L492.2,290.0L492.2,297.5L496.0,307.5L499.8,315.0L498.5,322.5"/>
<path d="M498.5,322.5L501.0,348.8L499.8,423.0"/>
<path d="M498.5,326.2L503.5,333.8L506.0,340.0L517.2,343.0L524.0,336.2L531.0,347.5L548.5,350.0L553.5,346.2L561.0,352.5L576.0,351.2L578.5,347.5L596.0,345.0L606.0,346.8L611.0,340.0L616.0,330.0L618.5,322.5L623.5,322.5"/>
<path d="M571.0,218.8L573.5,230.0L586.0,247.5L598.5,267.5L608.5,290.0L614.8,315.0L621.0,316.2L623.5,322.5L628.5,323.8L629.8,335.0L641.0,352.5L652.2,367.5L672.0,368.0"/>
<path d="M652.2,367.5L649.8,382.5L656.0,392.5L653.5,412.5L647.2,417.5L648.5,423.0"/>
<path d="M711.5,101.0L711.5,113.0"/>
<path d="M711.5,207.0L711.5,217.0"/>
<path d="M807.0,103.0L895.8,103.0"/>
<path d="M1000.8,101.0L1002.0,165.0L1003.2,215.0"/>
<path d="M968.2,136.2L1001.0,135.5"/>
<path d="M1001.5,127.5L1008.0,127.5"/>
<path d="M762.5,217.5L762.5,349.5L745.2,350.0L745.2,420.0"/>
<path d="M672.0,367.0L694.5,367.5L745.2,367.0"/>
<path d="M972.0,217.0L972.0,276.2L971.5,312.0"/>
<path d="M884.5,313.8L990.0,312.0L991.5,417.5L885.8,418.8L884.5,313.8"/>
<path d="M990.5,330.0L1008.0,329.5"/>
<path d="M745.2,420.0L757.0,419.5L759.5,412.5L760.0,420.0L885.8,418.8"/>
<path d="M954.5,418.0L955.0,423.0"/>
<path d="M1008.0,128.0L1112.5,125.0"/>
<path d="M1112.0,101.0L1113.0,133.8L1117.2,134.2L1119.2,202.5L1117.2,203.0L1117.2,212.5"/>
<path d="M1118.8,168.2L1202.5,166.2"/>
<path d="M1201.8,131.2L1205.5,210.0"/>
<path d="M1201.8,131.2L1321.8,127.0L1323.5,197.5"/>
<path d="M1211.2,101.0L1212.5,130.0"/>
<path d="M1298.8,101.0L1300.0,127.5"/>
<path d="M1205.5,210.0L1325.0,205.8"/>
<path d="M1208.0,272.5L1315.5,268.2L1325.0,268.0"/>
<path d="M1315.5,268.2L1318.8,338.0"/>
<path d="M1210.5,342.5L1318.8,338.0L1325.0,337.8"/>
<path d="M1321.0,338.0L1323.0,408.0"/>
<path d="M1310.5,411.2L1311.2,423.0"/>
<path d="M1112.5,215.0L1115.0,263.8L1114.2,273.8L1112.5,274.0L1114.2,326.2"/>
<path d="M1115.0,263.8L1205.0,261.8"/>
<path d="M1008.0,330.0L1114.2,326.2L1206.8,324.2"/>
<path d="M1096.0,328.0L1095.5,345.0L1094.2,345.0L1096.0,415.0L1094.5,415.0L1094.5,423.0"/>
<path d="M20.0,509.8L112.0,514.2L114.5,508.5L119.5,506.8"/>
<path d="M20.0,703.8L110.0,708.0L218.0,713.0"/>
<path d="M124.2,474.8L146.2,475.5L146.2,477.2L199.2,480.0L200.0,471.0L296.2,474.2L297.0,447.5L336.0,448.0"/>
<path d="M122.0,533.5L336.0,541.8"/>
<path d="M336.0,593.0L325.0,601.8L318.8,606.2L312.5,601.8L305.0,598.8L296.2,601.2L287.5,601.8L276.2,609.2L267.5,616.8L266.2,623.0L258.8,629.2L256.2,633.0L221.2,646.2L219.5,679.2L218.0,713.0"/>
<path d="M219.5,679.2L336.0,683.0"/>
<path d="M336.0,750.5L256.2,748.0L257.5,751.8L260.0,752.0L260.0,756.0"/>
<path d="M1215.5,499.2L1314.2,496.0L1325.0,495.5"/>
<path d="M1311.0,423.0L1313.5,496.0"/>
<path d="M1317.5,496.0L1320.5,583.0"/>
<path d="M1219.2,587.2L1306.8,584.2L1325.0,583.5"/>
<path d="M1306.8,584.2L1309.8,671.0"/>
<path d="M1221.8,675.5L1296.8,672.2L1325.0,670.5"/>
<path d="M1296.8,672.2L1300.0,756.0"/>
<path d="M1008.0,505.0L1041.8,504.2L1096.8,502.5L1213.0,498.0"/>
<path d="M1094.8,423.0L1096.8,502.5"/>
<path d="M1041.8,504.2L1043.0,593.0L1043.8,595.5L1043.0,714.2L1008.0,715.0"/>
<path d="M1043.8,611.0L1216.8,605.0"/>
<path d="M1043.8,696.8L1220.0,691.8"/>
<path d="M746.4,416.0L746.4,419.8L754.5,419.8L755.1,416.0"/>
<path d="M759.5,416.0L759.5,419.8L840.0,420.0"/>
<path d="M745.8,437.5L745.8,507.2"/>
<path d="M672.0,433.2L684.5,432.5L688.2,434.1L692.0,433.5L692.0,437.2L745.8,437.5"/>
<path d="M692.0,437.2L691.4,582.0"/>
<path d="M672.0,467.2L679.5,469.1L688.2,470.4L691.6,470.4"/>
<path d="M672.0,507.2L691.5,507.5"/>
<path d="M745.8,437.5L740.1,439.8L734.5,436.6L733.2,442.2L728.2,442.2L728.2,438.5L730.8,437.9L732.0,433.5L734.5,429.1L735.8,431.6L740.1,428.5L744.5,426.0L745.1,422.2L752.0,421.6L751.4,434.1L747.0,436.6L745.8,437.5"/>
<path d="M745.8,462.2L759.5,461.6L764.5,461.0L768.2,463.5L768.9,460.4L771.4,460.4L772.0,457.9L775.1,457.9L775.1,460.4L786.4,459.8L786.4,452.2L795.8,451.6L795.8,440.4L801.4,437.9L803.2,439.1L815.8,440.4L813.9,455.4L790.8,456.6L790.8,459.8L795.1,460.4L795.1,466.6L779.5,466.0L776.4,467.2L775.8,469.8L772.6,470.4L773.2,472.9L840.0,472.5"/>
<path d="M772.6,472.9L774.5,481.0L770.1,482.2L768.9,487.2L775.8,487.2L777.6,489.8L772.0,493.5L771.4,496.0L768.2,496.0L767.6,491.6L764.5,490.4L759.5,488.5L752.0,486.0L748.2,494.8L745.8,496.0L737.0,494.1L740.8,491.0L744.5,489.8L742.0,487.2L745.8,486.6"/>
<path d="M745.8,507.2L840.0,507.9"/>
<path d="M806.4,507.9L806.8,582.0"/>
<path d="M745.8,507.2L742.6,511.0L740.8,522.2L734.5,526.0L732.0,531.0L733.9,533.5L727.6,539.8L727.0,548.5L725.1,554.8L719.5,569.8L713.2,573.5L709.5,582.0"/>
<path d="M519.0,582.0L515.9,587.6L510.2,587.0L509.0,594.5L505.2,600.8L504.0,607.0"/>
<path d="M504.0,608.2L566.5,608.9"/>
<path d="M504.0,620.8L509.0,620.1L515.2,628.2L522.8,637.0L529.0,635.8L536.5,637.0L545.2,640.1L542.8,645.8L537.8,652.0L535.2,654.5L530.9,655.1L529.6,663.2L529.0,672.0L524.6,679.5L527.8,688.2L534.0,693.2L539.0,703.2L540.9,712.0L541.5,720.8L546.5,724.5L551.5,730.8L555.9,735.8"/>
<path d="M569.6,582.0L568.4,592.0L564.0,599.5L569.0,600.8L569.0,605.8L566.5,608.9L567.8,617.0L571.5,622.0L579.0,624.5L579.0,631.4L585.2,633.2L587.8,632.0L592.8,632.6L599.0,639.5L600.2,644.5L606.5,645.8L605.2,652.0L610.9,660.1L606.5,669.5L604.0,677.0L600.9,682.0L672.0,682.6"/>
<path d="M600.9,682.0L607.8,684.5L610.2,692.0L614.0,699.5L611.5,705.8L612.8,709.5L610.2,714.5L610.2,720.8L605.2,721.0L593.4,732.0L596.5,737.0L602.8,743.2L606.5,748.0"/>
<path d="M504.0,735.1L555.9,736.4L582.8,737.0L585.9,730.8L589.6,730.1L593.4,732.0"/>
<path d="M691.4,582.0L691.4,595.1L840.0,595.1"/>
<path d="M708.9,582.0L708.2,585.8L704.5,590.8L702.0,595.1"/>
<path d="M702.0,595.1L701.8,682.0"/>
<path d="M672.0,682.0L715.8,682.6L715.8,692.2L743.2,692.6L762.0,692.0"/>
<path d="M748.5,595.1L749.5,613.2L748.9,647.0L743.2,648.2L742.6,662.0L763.2,662.6"/>
<path d="M763.2,662.6L762.6,748.0"/>
<path d="M763.2,718.5L840.0,717.6"/>
<path d="M806.8,582.0L806.8,595.1"/>
<path d="M605.9,748.0L611.5,754.2L616.5,761.8L622.8,766.8L627.1,769.9L672.0,770.5"/>
<path d="M627.1,769.9L628.4,774.2L635.2,779.2L641.5,786.8L645.9,791.1L648.4,800.5L654.0,809.2L657.8,819.2L660.2,828.0L664.0,833.0L667.8,832.4L672.0,835.5"/>
<path d="M504.0,872.1L554.0,873.0L672.0,873.0"/>
<path d="M587.5,873.0L586.8,914.0"/>
<path d="M763.9,748.0L763.9,771.5L672.0,770.5"/>
<path d="M746.4,771.5L746.4,840.5L748.2,844.2L752.0,847.4L810.8,843.6L840.0,854.2"/>
<path d="M746.4,840.5L743.9,839.9L743.9,835.5L742.0,833.0L739.5,833.0L737.0,834.9L733.9,833.0L730.8,825.5L729.5,822.4L727.0,819.9L723.9,821.8L720.8,828.0L715.8,830.5L712.0,838.0L708.2,843.6L705.8,838.0L703.2,835.5L693.9,840.5L688.2,844.9L678.2,844.9L672.0,835.5"/>
<path d="M678.2,844.9L683.2,849.2L685.1,854.2L684.5,860.5L681.4,865.5L681.4,873.0L680.1,879.2L677.0,885.5L676.4,895.5L673.9,903.0L675.8,908.0L672.0,910.5"/>
<path d="M672.0,873.0L680.8,873.0"/>
<path d="M675.8,908.0L683.2,901.8L690.8,899.9L705.8,893.0L713.2,899.2L719.5,899.2L723.2,900.5L719.5,908.0L724.5,914.0"/>
<path d="M840.0,878.0L820.8,914.0"/>
<path d="M504.0,871.9L554.0,873.1L672.0,873.4"/>
<path d="M587.5,873.4L586.5,943.1L586.5,952.5L633.4,952.8"/>
<path d="M504.0,941.9L586.5,943.1"/>
<path d="M633.4,952.8L672.0,913.1"/>
<path d="M633.4,952.8L632.8,956.2L637.8,966.2L634.0,973.8L634.6,982.5L635.9,988.8L633.4,997.5L634.0,1003.8L630.2,1011.2L629.6,1016.2L634.0,1021.9L636.5,1022.5"/>
<path d="M504.0,1005.0L513.4,1021.9"/>
<path d="M590.2,1025.6L593.4,1036.0"/>
<path d="M728.9,966.2L728.5,1024.4"/>
<path d="M728.9,966.2L734.5,965.6L742.0,960.0L749.5,956.2L752.0,952.5L759.5,947.5L765.8,945.0L774.5,945.6L784.5,944.4L793.2,943.1L802.0,936.2L803.2,926.2L805.1,924.4L813.2,921.2L820.8,913.8L827.0,902.5L833.2,888.8L840.0,876.9"/>
<path d="M724.5,914.0L726.4,920.0L726.4,931.2L730.1,936.2L732.6,941.9L727.6,945.0L727.0,955.0L727.6,966.2"/>
<path d="M717.0,1026.2L715.1,1030.0L716.4,1036.0"/>
<path d="M954.8,423.0L955.5,505.5"/>
<path d="M756.0,508.0L956.0,505.5L1042.2,505.0L1092.0,503.0"/>
<path d="M773.5,472.5L954.8,470.5"/>
<path d="M807.2,508.0L807.2,595.5"/>
<path d="M756.0,595.5L903.5,595.0L904.0,647.2L955.5,646.8L954.8,505.5"/>
<path d="M1042.2,505.0L1043.5,593.0L1043.5,714.2L991.0,716.0L903.5,717.5L763.5,718.5"/>
<path d="M904.0,647.2L904.0,756.0"/>
<path d="M991.0,716.0L991.8,756.0"/>
<path d="M1224.2,763.5L1325.0,759.0"/>
<path d="M1299.2,756.0L1300.0,759.8"/>
<path d="M1303.8,760.5L1306.8,847.2L1309.2,848.0L1310.5,866.0"/>
<path d="M1229.2,868.5L1310.5,865.5L1325.0,865.0"/>
<path d="M1310.5,866.0L1313.5,935.5"/>
<path d="M1231.8,939.0L1308.0,936.5L1325.0,935.5"/>
<path d="M1308.0,936.5L1311.8,1013.5"/>
<path d="M1234.2,1018.5L1236.8,1089.0"/>
<path d="M1008.0,768.0L1113.0,765.5L1223.0,761.5"/>
<path d="M1113.0,765.5L1115.5,854.8L1114.2,856.0L1115.5,890.5"/>
<path d="M1008.0,893.0L1062.5,892.2L1115.5,890.5L1226.8,887.0"/>
<path d="M1062.5,892.2L1063.5,943.5L1062.5,946.0L1063.5,1020.5"/>
<path d="M1008.0,768.5L1010.0,893.0"/>
<path d="M756.0,847.2L811.0,843.5L903.5,876.0"/>
<path d="M857.2,859.8L843.5,872.2L826.0,906.0L816.0,918.5L803.5,926.0L802.2,936.0L793.5,942.2L773.5,946.0L764.8,944.8L756.0,949.8"/>
<path d="M904.8,756.0L904.8,894.0L1009.0,893.0L1092.0,891.0"/>
<path d="M904.8,794.0L916.0,793.5L926.0,796.0L941.0,798.5L973.5,798.5L973.5,787.2L991.0,786.5L992.2,767.2L1092.0,765.5"/>
<path d="M1008.0,768.0L1009.8,893.0"/>
<path d="M1063.0,892.2L1063.5,943.5L1062.5,946.0L1063.5,1021.0"/>
<path d="M914.2,1026.0L915.0,1089.0"/>
<path d="M756.0,756.0L763.0,756.0L763.0,771.0L756.0,771.0"/>
<path d="M252.0,539.5L373.2,543.2L423.2,543.8L529.5,547.5"/>
<path d="M373.2,543.2L367.5,552.5L377.0,558.8L380.0,565.0L360.8,572.5L353.2,578.8L340.8,585.0L327.0,600.0L318.2,606.2L304.5,598.8L287.0,602.5L269.5,615.0L264.5,625.0L252.0,633.8"/>
<path d="M380.0,565.0L382.0,575.0L392.0,585.0L395.0,593.0L429.5,593.8L440.8,608.8L448.2,616.2L458.2,620.0L465.8,622.5L472.0,621.2L479.5,610.0L487.0,608.0L493.2,610.0L500.8,618.8L504.0,621.2"/>
<path d="M361.5,572.5L359.5,663.0"/>
<path d="M425.8,433.0L423.2,543.8"/>
<path d="M425.8,433.0L502.0,433.8L537.0,434.5"/>
<path d="M438.2,371.2L437.5,433.0"/>
<path d="M394.5,397.0L438.2,398.0"/>
<path d="M394.5,397.0L393.2,431.2L375.8,432.0L375.0,448.8L297.0,448.0L296.5,473.8L252.0,473.0"/>
<path d="M499.5,330.0L501.5,433.8"/>
<path d="M359.5,663.0L357.0,756.8L335.8,756.8"/>
<path d="M252.0,680.0L358.2,682.5"/>
<path d="M256.5,748.5L335.8,750.5L342.0,768.0L345.8,788.0L344.5,798.0L353.2,805.5L348.2,815.5L340.8,820.5L342.0,824.2L332.0,825.0L331.5,833.0L322.0,838.0L316.5,835.5"/>
<path d="M256.5,748.5L257.5,751.8L262.0,756.8L262.5,763.0L277.0,764.2L279.5,769.2L285.8,770.5L283.2,790.5L292.0,792.5L293.2,811.8L302.0,815.5L310.8,820.5L317.5,829.2L316.5,835.5L309.5,846.8L305.8,855.5L297.0,861.8L293.2,873.0L279.5,875.5L278.2,886.8L269.5,895.5L265.8,923.0L254.5,934.2L252.0,940.5"/>
<path d="M252.0,784.2L283.2,785.0"/>
<path d="M345.8,788.0L434.5,790.0"/>
<path d="M437.0,734.2L434.5,826.8"/>
<path d="M437.0,734.2L555.8,736.8L583.2,736.8L588.0,730.5"/>
<path d="M252.0,848.0L262.0,845.5L277.0,845.5L289.5,855.5L295.8,861.8"/>
<path d="M342.0,824.2L348.2,833.0L349.5,843.0L353.2,853.0L359.5,858.0L360.0,864.2L357.0,865.5L355.0,890.5"/>
<path d="M252.0,888.0L355.0,890.5"/>
<path d="M355.0,890.5L355.0,934.2L412.0,936.0"/>
<path d="M355.0,934.2L353.2,996.0"/>
<path d="M412.0,831.8L417.0,829.2L424.5,828.0L434.5,826.8L438.2,825.5L444.5,829.2L452.0,828.0L458.2,835.5L467.0,843.0L482.0,848.0L482.5,855.5L499.5,855.5L500.0,872.5L587.0,873.5L588.0,950.5"/>
<path d="M412.0,831.8L410.8,885.0L413.2,885.5L411.5,941.8L478.2,942.5L479.5,888.0L482.0,885.5L482.5,855.5"/>
<path d="M478.2,942.5L588.0,943.0"/>
<path d="M484.0,942.5L482.5,975.5L495.8,984.2L498.2,996.0"/>
<path d="M527.0,663.0L525.8,680.5L537.0,695.5L540.8,715.5L555.8,735.5"/>
<path d="M111.2,778.5L283.8,785.5"/>
<path d="M109.5,833.5L143.8,834.8L144.5,831.5L233.8,836.0L237.5,843.5L241.2,850.5L250.0,848.5L256.2,844.8L260.0,847.2L268.8,844.0L276.2,846.0L281.2,852.2L287.5,854.8L296.2,863.5"/>
<path d="M105.0,912.2L125.8,884.2L278.8,888.5L336.0,890.5"/>
<path d="M278.8,888.5L270.0,898.5L266.2,916.0L263.8,927.2L255.0,932.2L247.5,941.0L238.8,944.8L235.0,958.5L222.5,972.2L221.2,986.0L215.0,999.8L207.5,1012.2"/>
<path d="M717.0,1026.2L715.8,1032.5L720.8,1042.5L717.0,1057.5L717.5,1075.0L713.2,1081.2L705.8,1080.0L702.0,1085.0L694.5,1087.5L693.2,1095.0L697.0,1100.0L693.2,1107.5L695.8,1115.0L692.5,1116.2L701.5,1128.8L697.0,1133.8"/>
<path d="M914.0,1025.5L915.0,1133.8"/>
<path d="M1234.2,1017.5L1237.5,1116.2"/>
<path d="M1216.0,1120.0L1216.8,1135.0"/>
<path d="M1304.2,1117.0L1305.0,1135.0"/>
<path d="M1310.5,1000.0L1311.2,1013.8"/>
<path d="M325.8,1125.0L325.8,1135.0"/>
<path d="M215.0,1000.0L207.5,1012.5"/>
<path d="M352.2,1000.0L352.2,1018.0"/>
<path d="M361.0,1021.2L356.0,1028.8L357.2,1040.0"/>
<path d="M499.8,1000.0L514.0,1021.2"/>
<path d="M589.8,1025.0L594.8,1040.0"/>
<path d="M599.8,1125.0L601.0,1135.0"/>
<path d="M633.5,1000.0L629.8,1012.5L636.0,1022.0"/>
<path d="M504.0,432.5L530.2,433.5L537.1,433.5L537.8,435.4L557.8,435.8L563.4,442.2L567.8,446.6L575.9,450.4L580.9,453.5L585.2,459.8L587.1,468.5L590.2,476.0L594.0,480.4L599.0,482.9L605.9,481.6L609.6,479.8"/>
<path d="M530.2,433.5L531.5,447.2L536.5,459.8L540.2,466.0L545.2,468.5L551.5,474.8L556.5,481.0L560.9,486.0L566.5,487.9L569.6,491.0L569.6,496.0L565.9,499.8L566.5,508.5L562.8,512.9L558.4,512.2L557.8,519.8L561.5,531.0L564.0,538.5L565.0,544.1"/>
<path d="M609.6,479.8L612.8,474.8L616.5,469.8L615.9,461.0L621.5,462.2L629.0,459.1L636.5,458.5L641.5,454.8L645.9,449.1L645.9,433.5L649.0,432.2L672.0,432.9"/>
<path d="M645.9,433.5L647.1,423.5L646.5,416.0"/>
<path d="M645.9,449.1L655.2,452.2L660.2,456.0L666.5,459.1L672.0,466.0"/>
<path d="M609.6,479.8L610.2,486.0L616.5,488.5L621.5,492.2L629.0,494.1L632.1,497.2L629.0,503.5L624.0,506.0L672.0,507.2"/>
<path d="M624.0,506.0L625.9,511.0L619.0,516.0L618.4,519.8L614.0,524.8L606.5,529.8L602.8,533.5L604.0,536.6L596.5,542.2L592.8,547.9L587.1,548.5L581.5,544.1L565.0,544.1L559.0,546.6L552.8,548.5L546.5,547.9L539.0,546.6L534.6,543.5L530.2,546.6L504.0,546.6"/>
<path d="M530.2,546.6L529.0,556.0L520.2,558.5L518.4,563.5L519.6,572.2L519.0,582.0"/>
<path d="M574.0,544.8L573.4,553.5L569.0,557.2L568.4,572.2L569.0,582.0"/>
</g>
<g fill="none" stroke="#000" stroke-width="2.9" stroke-linejoin="round">
<path d="M135.0,205.5L235.0,209.2L336.0,212.5L450.0,215.0L560.0,216.5L672.0,217.3L760.0,217.6L850.0,217.4L940.0,216.4L1008.0,215.2L1100.0,213.4L1204.3,211.2L1211.8,411.3L1219.0,610.0L1226.0,810.0L1233.0,1014.5L1150.0,1018.0L1077.0,1020.5L1000.0,1022.5L900.0,1024.5L800.0,1025.5L700.0,1025.3L672.0,1025.0L560.0,1023.3L450.0,1021.2L336.0,1018.7L220.0,1015.0L99.5,1010.5L110.0,756.0L125.0,423.0L135.0,205.5"/>
<path d="M20.0,199.2L135.0,205.5"/>
<path d="M20.0,1006.2L99.5,1010.5"/>
<path d="M99.5,1010.5L93.0,1135.0"/>
<path d="M898.3,101.0L898.3,217.0"/>
<path d="M1211.8,411.3L1325.0,408.0"/>
<path d="M1233.0,1014.5L1325.0,1012.5"/>
<path d="M1077.5,1023.0L1080.0,1122.0L1325.0,1115.0"/>
<path d="M1080.0,1122.0L1072.5,1122.5L1073.0,1135.0"/>
</g>
</g>
<rect x="20" y="101" width="1305" height="1034" fill="none" stroke="#000" stroke-width="2.2"/>
<rect x="378.7" y="113.2" width="588.5" height="93.5" fill="#fff" stroke="#000" stroke-width="2.6"/>
<g fill="#000">
<text x="387.0" y="139.0" font-size="23.0" textLength="108.7" lengthAdjust="spacingAndGlyphs">statewide</text>
<text x="505.5" y="139.0" font-size="23.0" textLength="112.2" lengthAdjust="spacingAndGlyphs">departure</text>
<text x="626.6" y="139.0" font-size="23.0" textLength="53.2" lengthAdjust="spacingAndGlyphs">from</text>
<text x="689.0" y="139.0" font-size="23.0" textLength="121.6" lengthAdjust="spacingAndGlyphs">1901-2000</text>
<text x="819.5" y="139.0" font-size="23.0" textLength="48.7" lengthAdjust="spacingAndGlyphs">avg:</text>
<text x="878.4" y="139.0" font-size="23.0" textLength="77.6" lengthAdjust="spacingAndGlyphs">+0.8°F</text>
<text x="387.0" y="166.0" font-size="23.0" textLength="108.7" lengthAdjust="spacingAndGlyphs">statewide</text>
<text x="505.5" y="166.0" font-size="23.0" textLength="112.2" lengthAdjust="spacingAndGlyphs">departure</text>
<text x="626.6" y="166.0" font-size="23.0" textLength="53.2" lengthAdjust="spacingAndGlyphs">from</text>
<text x="689.0" y="166.0" font-size="23.0" textLength="121.6" lengthAdjust="spacingAndGlyphs">1991-2020</text>
<text x="819.5" y="166.0" font-size="23.0" textLength="48.7" lengthAdjust="spacingAndGlyphs">avg:</text>
<text x="878.4" y="166.0" font-size="23.0" textLength="55.6" lengthAdjust="spacingAndGlyphs">+0°F</text>
<text x="387.0" y="193.0" font-size="23.0" textLength="108.7" lengthAdjust="spacingAndGlyphs">statewide</text>
<text x="505.5" y="193.0" font-size="23.0" textLength="56.8" lengthAdjust="spacingAndGlyphs">rank:</text>
<text x="573.3" y="193.0" font-size="23.0" textLength="51.0" lengthAdjust="spacingAndGlyphs">37th</text>
<text x="633.2" y="193.0" font-size="23.0" textLength="157.4" lengthAdjust="spacingAndGlyphs">warmest/93rd</text>
<text x="800.8" y="193.0" font-size="23.0" textLength="80.7" lengthAdjust="spacingAndGlyphs">coldest</text>
</g>
<rect x="31.3" y="1041.3" width="627.7" height="83" fill="#fff" stroke="#000" stroke-width="2.6"/>
<g fill="#000">
<text x="40.0" y="1065.0" font-size="20.5" textLength="75.6" lengthAdjust="spacingAndGlyphs">source:</text>
<text x="126.0" y="1065.0" font-size="20.5" textLength="65.3" lengthAdjust="spacingAndGlyphs">PRISM</text>
<text x="199.3" y="1065.0" font-size="20.5" textLength="79.5" lengthAdjust="spacingAndGlyphs">Climate</text>
<text x="287.3" y="1065.0" font-size="20.5" textLength="69.6" lengthAdjust="spacingAndGlyphs">Group,</text>
<text x="367.8" y="1065.0" font-size="20.5" textLength="76.7" lengthAdjust="spacingAndGlyphs">Oregon</text>
<text x="453.9" y="1065.0" font-size="20.5" textLength="54.5" lengthAdjust="spacingAndGlyphs">State</text>
<text x="517.8" y="1065.0" font-size="20.5" textLength="106.8" lengthAdjust="spacingAndGlyphs">University</text>
<text x="40.0" y="1088.6" font-size="20.5" textLength="51.9" lengthAdjust="spacingAndGlyphs">map:</text>
<text x="101.4" y="1088.6" font-size="20.5" textLength="94.6" lengthAdjust="spacingAndGlyphs">Colorado</text>
<text x="205.5" y="1088.6" font-size="20.5" textLength="80.4" lengthAdjust="spacingAndGlyphs">Climate</text>
<text x="294.0" y="1088.6" font-size="20.5" textLength="174.1" lengthAdjust="spacingAndGlyphs">Center/Colorado</text>
<text x="477.6" y="1088.6" font-size="20.5" textLength="54.4" lengthAdjust="spacingAndGlyphs">State</text>
<text x="541.5" y="1088.6" font-size="20.5" textLength="106.3" lengthAdjust="spacingAndGlyphs">University</text>
<text x="40.0" y="1111.6" font-size="20.5" textLength="44.8" lengthAdjust="spacingAndGlyphs">map</text>
<text x="94.3" y="1111.6" font-size="20.5" textLength="107.9" lengthAdjust="spacingAndGlyphs">generated</text>
<text x="212.6" y="1111.6" font-size="20.5" textLength="23.6" lengthAdjust="spacingAndGlyphs">03</text>
<text x="246.6" y="1111.6" font-size="20.5" textLength="63.0" lengthAdjust="spacingAndGlyphs">March</text>
<text x="319.0" y="1111.6" font-size="20.5" textLength="53.3" lengthAdjust="spacingAndGlyphs">2025</text>
</g>
<rect x="122.5" y="1148.5" width="157.6" height="39.0" fill="#327cb7"/>
<rect x="279.6" y="1148.5" width="157.6" height="39.0" fill="#6bacd1"/>
<rect x="436.7" y="1148.5" width="157.6" height="39.0" fill="#b1d5e7"/>
<rect x="593.8" y="1148.5" width="157.6" height="39.0" fill="#f7f6f6"/>
<rect x="750.9" y="1148.5" width="157.6" height="39.0" fill="#f8bfa4"/>
<rect x="908.0" y="1148.5" width="157.6" height="39.0" fill="#e48066"/>
<rect x="1065.1" y="1148.5" width="157.6" height="39.0" fill="#c43b3c"/>
<polygon points="122.5,1148.5 70.6,1168.0 122.5,1187.5" fill="#053061"/>
<polygon points="1222.2,1148.5 1273.9,1168.0 1222.2,1187.5" fill="#67001f"/>
<polygon points="70.6,1168.0 122.5,1148.5 1222.2,1148.5 1273.9,1168.0 1222.2,1187.5 122.5,1187.5" fill="none" stroke="#000" stroke-width="2.2" stroke-linejoin="miter"/>
<line x1="122.5" y1="1187.5" x2="122.5" y2="1198.0" stroke="#000" stroke-width="2.2"/>
<line x1="279.6" y1="1187.5" x2="279.6" y2="1198.0" stroke="#000" stroke-width="2.2"/>
<line x1="436.7" y1="1187.5" x2="436.7" y2="1198.0" stroke="#000" stroke-width="2.2"/>
<line x1="593.8" y1="1187.5" x2="593.8" y2="1198.0" stroke="#000" stroke-width="2.2"/>
<line x1="750.9" y1="1187.5" x2="750.9" y2="1198.0" stroke="#000" stroke-width="2.2"/>
<line x1="908.0" y1="1187.5" x2="908.0" y2="1198.0" stroke="#000" stroke-width="2.2"/>
<line x1="1065.1" y1="1187.5" x2="1065.1" y2="1198.0" stroke="#000" stroke-width="2.2"/>
<line x1="1222.2" y1="1187.5" x2="1222.2" y2="1198.0" stroke="#000" stroke-width="2.2"/>
<g fill="#000">
<text x="122.5" y="1229.5" font-size="28.5" text-anchor="middle" textLength="86.0" lengthAdjust="spacingAndGlyphs">record</text>
<text x="122.5" y="1261.0" font-size="28.5" text-anchor="middle" textLength="98.0" lengthAdjust="spacingAndGlyphs">coldest</text>
<text x="279.6" y="1229.5" font-size="28.5" text-anchor="middle" textLength="62.0" lengthAdjust="spacingAndGlyphs">10th</text>
<text x="279.6" y="1261.0" font-size="28.5" text-anchor="middle" textLength="98.0" lengthAdjust="spacingAndGlyphs">coldest</text>
<text x="436.7" y="1229.5" font-size="28.5" text-anchor="middle" textLength="62.0" lengthAdjust="spacingAndGlyphs">20th</text>
<text x="436.7" y="1261.0" font-size="28.5" text-anchor="middle" textLength="98.0" lengthAdjust="spacingAndGlyphs">coldest</text>
<text x="593.8" y="1229.5" font-size="28.5" text-anchor="middle" textLength="62.0" lengthAdjust="spacingAndGlyphs">35th</text>
<text x="593.8" y="1261.0" font-size="28.5" text-anchor="middle" textLength="98.0" lengthAdjust="spacingAndGlyphs">coldest</text>
<text x="750.9" y="1229.5" font-size="28.5" text-anchor="middle" textLength="62.0" lengthAdjust="spacingAndGlyphs">35th</text>
<text x="750.9" y="1261.0" font-size="28.5" text-anchor="middle" textLength="117.0" lengthAdjust="spacingAndGlyphs">warmest</text>
<text x="908.0" y="1229.5" font-size="28.5" text-anchor="middle" textLength="62.0" lengthAdjust="spacingAndGlyphs">20th</text>
<text x="908.0" y="1261.0" font-size="28.5" text-anchor="middle" textLength="117.0" lengthAdjust="spacingAndGlyphs">warmest</text>
<text x="1065.1" y="1229.5" font-size="28.5" text-anchor="middle" textLength="62.0" lengthAdjust="spacingAndGlyphs">10th</text>
<text x="1065.1" y="1261.0" font-size="28.5" text-anchor="middle" textLength="117.0" lengthAdjust="spacingAndGlyphs">warmest</text>
<text x="1222.2" y="1229.5" font-size="28.5" text-anchor="middle" textLength="86.0" lengthAdjust="spacingAndGlyphs">record</text>
<text x="1222.2" y="1261.0" font-size="28.5" text-anchor="middle" textLength="117.0" lengthAdjust="spacingAndGlyphs">warmest</text>
<text x="273.8" y="1303.7" font-size="34.0" textLength="205.7" lengthAdjust="spacingAndGlyphs">temperature</text>
<text x="494.2" y="1303.7" font-size="34.0" textLength="72.4" lengthAdjust="spacingAndGlyphs">rank</text>
<text x="580.0" y="1303.7" font-size="34.0" textLength="54.0" lengthAdjust="spacingAndGlyphs">out</text>
<text x="646.3" y="1303.7" font-size="34.0" textLength="30.7" lengthAdjust="spacingAndGlyphs">of</text>
<text x="690.0" y="1303.7" font-size="34.0" textLength="60.5" lengthAdjust="spacingAndGlyphs">129</text>
<text x="762.8" y="1303.7" font-size="34.0" textLength="88.9" lengthAdjust="spacingAndGlyphs">years</text>
<text x="864.0" y="1303.7" font-size="34.0" textLength="206.0" lengthAdjust="spacingAndGlyphs">(1896-2024)</text>
</g>
</svg>
</body></html>
